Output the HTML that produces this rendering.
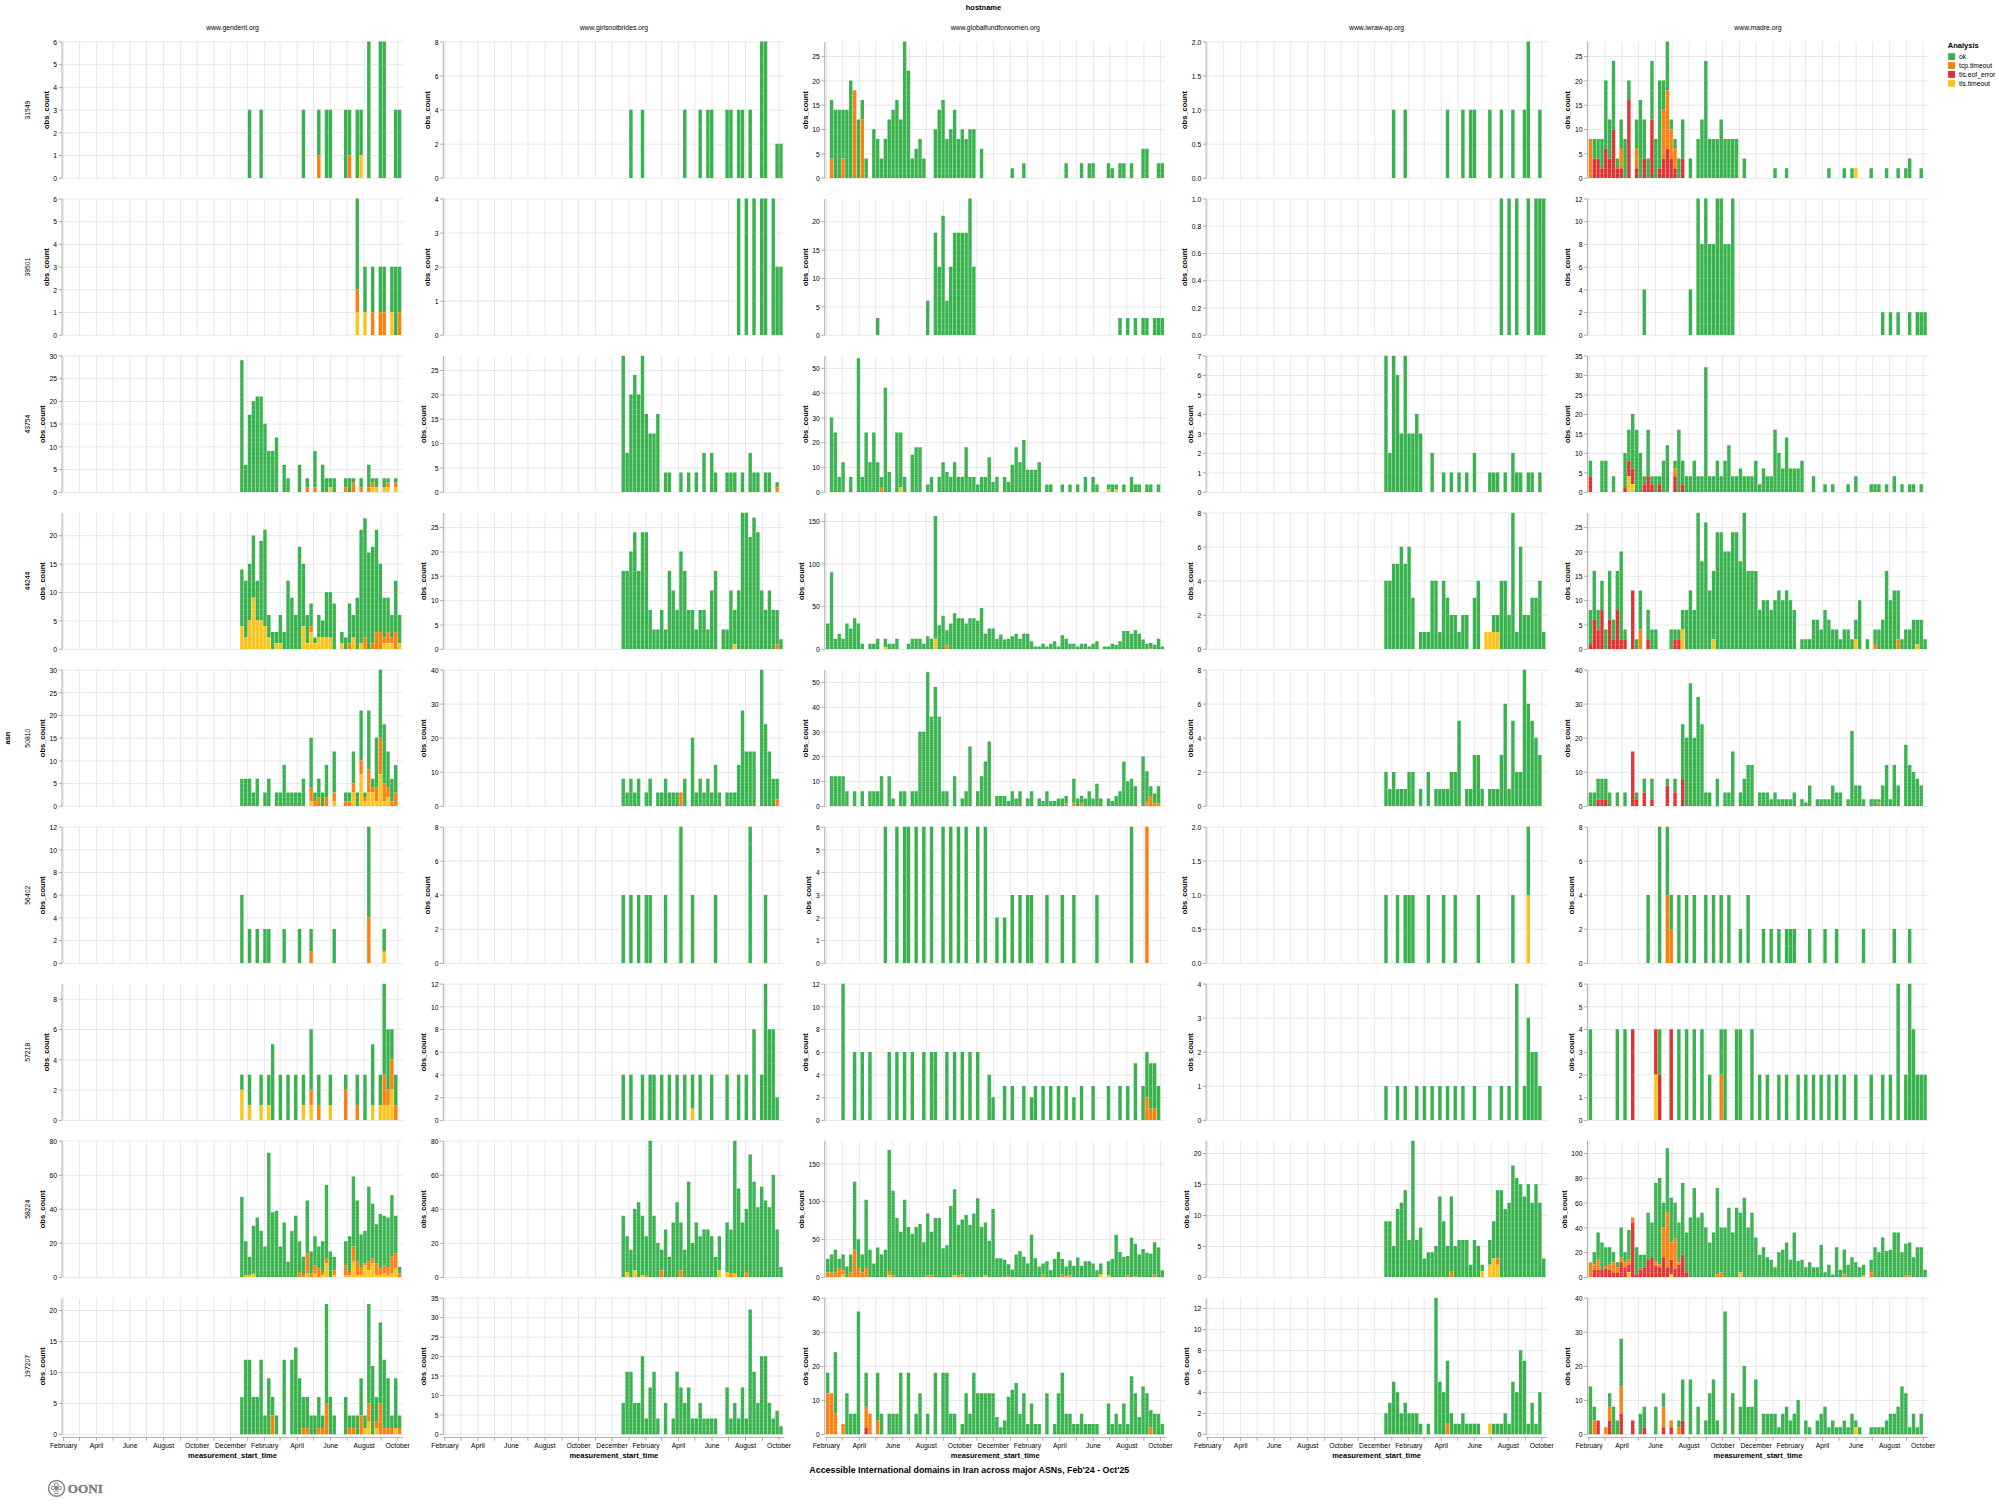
<!DOCTYPE html>
<html><head><meta charset="utf-8"><title>Accessible International domains in Iran across major ASNs</title>
<style>
html,body{margin:0;padding:0;background:#fff}
body{width:1999px;height:1506px;overflow:hidden}
svg{display:block}
text{font-family:"Liberation Sans",Arial,Helvetica,sans-serif;fill:#000}
.l{font-size:6.8px}
.t{font-size:7.5px;font-weight:bold}
.e{text-anchor:end}
.m{text-anchor:middle}
.gr{stroke:#ddd;stroke-width:.68;fill:none}
.ax{stroke:#888;stroke-width:.68;fill:none}
</style></head><body>
<svg xmlns="http://www.w3.org/2000/svg" width="1999" height="1506" viewBox="0 0 1999 1506">
<rect width="1999" height="1506" fill="#fff"/>
<text x="983.5" y="9.8" class="t m">hostname</text>
<text x="232.48" y="29.7" class="l m">www.genderit.org</text>
<text x="613.85" y="29.7" class="l m">www.girlsnotbrides.org</text>
<text x="995.22" y="29.7" class="l m">www.globalfundforwomen.org</text>
<text x="1376.59" y="29.7" class="l m">www.iwraw-ap.org</text>
<text x="1757.96" y="29.7" class="l m">www.madre.org</text>
<text transform="translate(30.3,110.08) rotate(-90)" class="l m">31549</text>
<text transform="translate(30.3,267.11) rotate(-90)" class="l m">39501</text>
<text transform="translate(30.3,424.14) rotate(-90)" class="l m">43754</text>
<text transform="translate(30.3,581.17) rotate(-90)" class="l m">44244</text>
<text transform="translate(30.3,738.2) rotate(-90)" class="l m">50810</text>
<text transform="translate(30.3,895.23) rotate(-90)" class="l m">56402</text>
<text transform="translate(30.3,1052.26) rotate(-90)" class="l m">57218</text>
<text transform="translate(30.3,1209.29) rotate(-90)" class="l m">58224</text>
<text transform="translate(30.3,1366.32) rotate(-90)" class="l m">197207</text>
<text transform="translate(10.3,738) rotate(-90)" class="t m">asn</text>
<g><path d="M63.58 41.93V178.23M79.52 41.93V178.23M96.55 41.93V178.23M113.03 41.93V178.23M130.07 41.93V178.23M146.55 41.93V178.23M163.59 41.93V178.23M180.62 41.93V178.23M197.11 41.93V178.23M214.14 41.93V178.23M230.63 41.93V178.23M247.66 41.93V178.23M264.7 41.93V178.23M280.08 41.93V178.23M297.12 41.93V178.23M313.6 41.93V178.23M330.64 41.93V178.23M347.12 41.93V178.23M364.16 41.93V178.23M381.19 41.93V178.23M397.68 41.93V178.23M61.98 178.23H402.98M61.98 155.51H402.98M61.98 132.8H402.98M61.98 110.08H402.98M61.98 87.36H402.98M61.98 64.65H402.98M61.98 41.93H402.98" class="gr"/>
<path d="M247.86 177.89h3.41V109.74h-3.41zM259.4 177.89h3.41V109.74h-3.41zM301.71 177.89h3.41V109.74h-3.41zM317.1 155.17h3.41V109.74h-3.41zM324.79 177.89h3.41V109.74h-3.41zM328.64 177.89h3.41V109.74h-3.41zM344.02 177.89h3.41V109.74h-3.41zM347.87 155.17h3.41V109.74h-3.41zM355.56 177.89h3.41V109.74h-3.41zM359.41 155.17h3.41V109.74h-3.41zM367.1 177.89h3.41V41.59h-3.41zM378.64 177.89h3.41V41.59h-3.41zM382.49 177.89h3.41V41.59h-3.41zM394.03 177.89h3.41V109.74h-3.41zM397.88 177.89h3.41V109.74h-3.41z" fill="#37b24d"/>
<path d="M317.1 177.89h3.41V155.17h-3.41zM347.87 177.89h3.41V155.17h-3.41z" fill="#ff7f0a"/>
<path d="M359.41 177.89h3.41V155.17h-3.41z" fill="#fcc419"/>
<pattern id="p00" patternUnits="userSpaceOnUse" x="0" y="177.75" width="20" height="22.72"><rect width="20" height=".28" fill="#fff" fill-opacity=".36"/></pattern>
<path d="M247.86 166.53h3.41V121.1h-3.41zM259.4 166.53h3.41V121.1h-3.41zM301.71 166.53h3.41V121.1h-3.41zM317.1 166.53h3.41V121.1h-3.41zM324.79 166.53h3.41V121.1h-3.41zM328.64 166.53h3.41V121.1h-3.41zM344.02 166.53h3.41V121.1h-3.41zM347.87 166.53h3.41V121.1h-3.41zM355.56 166.53h3.41V121.1h-3.41zM359.41 166.53h3.41V121.1h-3.41zM367.1 166.53h3.41V52.95h-3.41zM378.64 166.53h3.41V52.95h-3.41zM382.49 166.53h3.41V52.95h-3.41zM394.03 166.53h3.41V121.1h-3.41zM397.88 166.53h3.41V121.1h-3.41z" fill="url(#p00)"/>
<path d="M61.98 41.93V178.23M61.98 178.23h-3.4M61.98 155.51h-3.4M61.98 132.8h-3.4M61.98 110.08h-3.4M61.98 87.36h-3.4M61.98 64.65h-3.4M61.98 41.93h-3.4" class="ax"/>
<text x="57.08" y="180.98" class="l e">0</text>
<text x="57.08" y="158.26" class="l e">1</text>
<text x="57.08" y="135.55" class="l e">2</text>
<text x="57.08" y="112.83" class="l e">3</text>
<text x="57.08" y="90.11" class="l e">4</text>
<text x="57.08" y="67.4" class="l e">5</text>
<text x="57.08" y="44.68" class="l e">6</text>
<text transform="translate(48.68,110.08) rotate(-90)" class="t m">obs_count</text></g>
<g><path d="M444.95 41.93V178.23M460.89 41.93V178.23M477.92 41.93V178.23M494.41 41.93V178.23M511.44 41.93V178.23M527.92 41.93V178.23M544.96 41.93V178.23M561.99 41.93V178.23M578.48 41.93V178.23M595.51 41.93V178.23M612 41.93V178.23M629.03 41.93V178.23M646.07 41.93V178.23M661.45 41.93V178.23M678.49 41.93V178.23M694.97 41.93V178.23M712.01 41.93V178.23M728.49 41.93V178.23M745.53 41.93V178.23M762.56 41.93V178.23M779.05 41.93V178.23M443.35 178.23H784.35M443.35 144.16H784.35M443.35 110.08H784.35M443.35 76.01H784.35M443.35 41.93H784.35" class="gr"/>
<path d="M629.23 177.89h3.41V109.74h-3.41zM640.77 177.89h3.41V109.74h-3.41zM683.08 177.89h3.41V109.74h-3.41zM698.47 177.89h3.41V109.74h-3.41zM706.16 177.89h3.41V109.74h-3.41zM710.01 177.89h3.41V109.74h-3.41zM725.39 177.89h3.41V109.74h-3.41zM729.24 177.89h3.41V109.74h-3.41zM736.93 177.89h3.41V109.74h-3.41zM740.78 177.89h3.41V109.74h-3.41zM748.47 177.89h3.41V109.74h-3.41zM760.01 177.89h3.41V41.59h-3.41zM763.86 177.89h3.41V41.59h-3.41zM775.4 177.89h3.41V143.82h-3.41zM779.25 177.89h3.41V143.82h-3.41z" fill="#37b24d"/>
<pattern id="p01" patternUnits="userSpaceOnUse" x="0" y="177.75" width="20" height="17.04"><rect width="20" height=".28" fill="#fff" fill-opacity=".36"/></pattern>
<path d="M629.23 169.37h3.41V118.26h-3.41zM640.77 169.37h3.41V118.26h-3.41zM683.08 169.37h3.41V118.26h-3.41zM698.47 169.37h3.41V118.26h-3.41zM706.16 169.37h3.41V118.26h-3.41zM710.01 169.37h3.41V118.26h-3.41zM725.39 169.37h3.41V118.26h-3.41zM729.24 169.37h3.41V118.26h-3.41zM736.93 169.37h3.41V118.26h-3.41zM740.78 169.37h3.41V118.26h-3.41zM748.47 169.37h3.41V118.26h-3.41zM760.01 169.37h3.41V50.11h-3.41zM763.86 169.37h3.41V50.11h-3.41zM775.4 169.37h3.41V152.33h-3.41zM779.25 169.37h3.41V152.33h-3.41z" fill="url(#p01)"/>
<path d="M443.35 41.93V178.23M443.35 178.23h-3.4M443.35 144.16h-3.4M443.35 110.08h-3.4M443.35 76.01h-3.4M443.35 41.93h-3.4" class="ax"/>
<text x="438.45" y="180.98" class="l e">0</text>
<text x="438.45" y="146.91" class="l e">2</text>
<text x="438.45" y="112.83" class="l e">4</text>
<text x="438.45" y="78.76" class="l e">6</text>
<text x="438.45" y="44.68" class="l e">8</text>
<text transform="translate(430.05,110.08) rotate(-90)" class="t m">obs_count</text></g>
<g><path d="M826.32 41.93V178.23M842.26 41.93V178.23M859.29 41.93V178.23M875.78 41.93V178.23M892.81 41.93V178.23M909.29 41.93V178.23M926.33 41.93V178.23M943.36 41.93V178.23M959.85 41.93V178.23M976.88 41.93V178.23M993.37 41.93V178.23M1010.4 41.93V178.23M1027.44 41.93V178.23M1042.82 41.93V178.23M1059.86 41.93V178.23M1076.34 41.93V178.23M1093.38 41.93V178.23M1109.86 41.93V178.23M1126.9 41.93V178.23M1143.93 41.93V178.23M1160.42 41.93V178.23M824.72 178.23H1165.72M824.72 153.89H1165.72M824.72 129.55H1165.72M824.72 105.21H1165.72M824.72 80.87H1165.72M824.72 56.53H1165.72" class="gr"/>
<path d="M829.82 158.42h3.41V100h-3.41zM833.66 177.89h3.41V109.74h-3.41zM837.51 177.89h3.41V109.74h-3.41zM841.36 158.42h3.41V109.74h-3.41zM845.2 177.89h3.41V109.74h-3.41zM849.05 177.89h3.41V80.53h-3.41zM856.74 177.89h3.41V119.48h-3.41zM860.59 119.48h3.41V100h-3.41zM864.44 177.89h3.41V158.42h-3.41zM872.13 177.89h3.41V129.21h-3.41zM875.97 177.89h3.41V138.95h-3.41zM879.82 177.89h3.41V158.42h-3.41zM883.67 177.89h3.41V138.95h-3.41zM887.51 177.89h3.41V119.48h-3.41zM891.36 177.89h3.41V109.74h-3.41zM895.21 177.89h3.41V100h-3.41zM899.05 177.89h3.41V119.48h-3.41zM902.9 177.89h3.41V41.59h-3.41zM906.75 177.89h3.41V70.8h-3.41zM910.59 177.89h3.41V158.42h-3.41zM914.44 177.89h3.41V148.68h-3.41zM918.29 177.89h3.41V138.95h-3.41zM922.13 177.89h3.41V158.42h-3.41zM933.67 177.89h3.41V129.21h-3.41zM937.52 177.89h3.41V109.74h-3.41zM941.37 177.89h3.41V100h-3.41zM945.21 177.89h3.41V138.95h-3.41zM949.06 177.89h3.41V129.21h-3.41zM952.9 177.89h3.41V109.74h-3.41zM956.75 177.89h3.41V138.95h-3.41zM960.6 177.89h3.41V129.21h-3.41zM964.44 177.89h3.41V138.95h-3.41zM968.29 177.89h3.41V129.21h-3.41zM972.14 177.89h3.41V129.21h-3.41zM979.83 177.89h3.41V148.68h-3.41zM1010.6 177.89h3.41V168.15h-3.41zM1022.14 177.89h3.41V163.29h-3.41zM1064.45 177.89h3.41V163.29h-3.41zM1079.84 177.89h3.41V163.29h-3.41zM1087.53 177.89h3.41V163.29h-3.41zM1091.38 177.89h3.41V163.29h-3.41zM1106.76 177.89h3.41V163.29h-3.41zM1110.61 177.89h3.41V168.15h-3.41zM1118.3 177.89h3.41V163.29h-3.41zM1122.15 177.89h3.41V163.29h-3.41zM1129.84 177.89h3.41V163.29h-3.41zM1141.38 177.89h3.41V148.68h-3.41zM1145.23 177.89h3.41V148.68h-3.41zM1156.77 177.89h3.41V163.29h-3.41zM1160.62 177.89h3.41V163.29h-3.41z" fill="#37b24d"/>
<path d="M829.82 177.89h3.41V158.42h-3.41zM841.36 177.89h3.41V158.42h-3.41zM852.9 177.89h3.41V90.27h-3.41zM860.59 177.89h3.41V119.48h-3.41z" fill="#ff7f0a"/>
<pattern id="p02" patternUnits="userSpaceOnUse" x="0" y="177.75" width="20" height="4.87"><rect width="20" height=".28" fill="#fff" fill-opacity=".36"/></pattern>
<path d="M829.82 175.46h3.41V102.44h-3.41zM833.66 175.46h3.41V112.17h-3.41zM837.51 175.46h3.41V112.17h-3.41zM841.36 175.46h3.41V112.17h-3.41zM845.2 175.46h3.41V112.17h-3.41zM849.05 175.46h3.41V82.97h-3.41zM852.9 175.46h3.41V92.7h-3.41zM856.74 175.46h3.41V121.91h-3.41zM860.59 175.46h3.41V102.44h-3.41zM864.44 175.46h3.41V160.85h-3.41zM872.13 175.46h3.41V131.65h-3.41zM875.97 175.46h3.41V141.38h-3.41zM879.82 175.46h3.41V160.85h-3.41zM883.67 175.46h3.41V141.38h-3.41zM887.51 175.46h3.41V121.91h-3.41zM891.36 175.46h3.41V112.17h-3.41zM895.21 175.46h3.41V102.44h-3.41zM899.05 175.46h3.41V121.91h-3.41zM902.9 175.46h3.41V44.02h-3.41zM906.75 175.46h3.41V73.23h-3.41zM910.59 175.46h3.41V160.85h-3.41zM914.44 175.46h3.41V151.12h-3.41zM918.29 175.46h3.41V141.38h-3.41zM922.13 175.46h3.41V160.85h-3.41zM933.67 175.46h3.41V131.65h-3.41zM937.52 175.46h3.41V112.17h-3.41zM941.37 175.46h3.41V102.44h-3.41zM945.21 175.46h3.41V141.38h-3.41zM949.06 175.46h3.41V131.65h-3.41zM952.9 175.46h3.41V112.17h-3.41zM956.75 175.46h3.41V141.38h-3.41zM960.6 175.46h3.41V131.65h-3.41zM964.44 175.46h3.41V141.38h-3.41zM968.29 175.46h3.41V131.65h-3.41zM972.14 175.46h3.41V131.65h-3.41zM979.83 175.46h3.41V151.12h-3.41zM1010.6 175.46h3.41V170.59h-3.41zM1022.14 175.46h3.41V165.72h-3.41zM1064.45 175.46h3.41V165.72h-3.41zM1079.84 175.46h3.41V165.72h-3.41zM1087.53 175.46h3.41V165.72h-3.41zM1091.38 175.46h3.41V165.72h-3.41zM1106.76 175.46h3.41V165.72h-3.41zM1110.61 175.46h3.41V170.59h-3.41zM1118.3 175.46h3.41V165.72h-3.41zM1122.15 175.46h3.41V165.72h-3.41zM1129.84 175.46h3.41V165.72h-3.41zM1141.38 175.46h3.41V151.12h-3.41zM1145.23 175.46h3.41V151.12h-3.41zM1156.77 175.46h3.41V165.72h-3.41zM1160.62 175.46h3.41V165.72h-3.41z" fill="url(#p02)"/>
<path d="M824.72 41.93V178.23M824.72 178.23h-3.4M824.72 153.89h-3.4M824.72 129.55h-3.4M824.72 105.21h-3.4M824.72 80.87h-3.4M824.72 56.53h-3.4" class="ax"/>
<text x="819.82" y="180.98" class="l e">0</text>
<text x="819.82" y="156.64" class="l e">5</text>
<text x="819.82" y="132.3" class="l e">10</text>
<text x="819.82" y="107.96" class="l e">15</text>
<text x="819.82" y="83.62" class="l e">20</text>
<text x="819.82" y="59.28" class="l e">25</text>
<text transform="translate(807.64,110.08) rotate(-90)" class="t m">obs_count</text></g>
<g><path d="M1207.69 41.93V178.23M1223.63 41.93V178.23M1240.66 41.93V178.23M1257.14 41.93V178.23M1274.18 41.93V178.23M1290.66 41.93V178.23M1307.7 41.93V178.23M1324.73 41.93V178.23M1341.22 41.93V178.23M1358.25 41.93V178.23M1374.74 41.93V178.23M1391.77 41.93V178.23M1408.81 41.93V178.23M1424.19 41.93V178.23M1441.23 41.93V178.23M1457.71 41.93V178.23M1474.75 41.93V178.23M1491.23 41.93V178.23M1508.27 41.93V178.23M1525.3 41.93V178.23M1541.79 41.93V178.23M1206.09 178.23H1547.09M1206.09 144.16H1547.09M1206.09 110.08H1547.09M1206.09 76.01H1547.09M1206.09 41.93H1547.09" class="gr"/>
<path d="M1391.97 177.89h3.41V109.74h-3.41zM1403.51 177.89h3.41V109.74h-3.41zM1445.82 177.89h3.41V109.74h-3.41zM1461.21 177.89h3.41V109.74h-3.41zM1468.9 177.89h3.41V109.74h-3.41zM1472.75 177.89h3.41V109.74h-3.41zM1488.13 177.89h3.41V109.74h-3.41zM1499.67 177.89h3.41V109.74h-3.41zM1511.21 177.89h3.41V109.74h-3.41zM1522.75 177.89h3.41V109.74h-3.41zM1526.6 177.89h3.41V41.59h-3.41zM1538.14 177.89h3.41V109.74h-3.41z" fill="#37b24d"/>
<path d="M1206.09 41.93V178.23M1206.09 178.23h-3.4M1206.09 144.16h-3.4M1206.09 110.08h-3.4M1206.09 76.01h-3.4M1206.09 41.93h-3.4" class="ax"/>
<text x="1201.19" y="180.98" class="l e">0.0</text>
<text x="1201.19" y="146.91" class="l e">0.5</text>
<text x="1201.19" y="112.83" class="l e">1.0</text>
<text x="1201.19" y="78.76" class="l e">1.5</text>
<text x="1201.19" y="44.68" class="l e">2.0</text>
<text transform="translate(1187.12,110.08) rotate(-90)" class="t m">obs_count</text></g>
<g><path d="M1589.06 41.93V178.23M1605 41.93V178.23M1622.03 41.93V178.23M1638.51 41.93V178.23M1655.55 41.93V178.23M1672.03 41.93V178.23M1689.07 41.93V178.23M1706.1 41.93V178.23M1722.59 41.93V178.23M1739.62 41.93V178.23M1756.11 41.93V178.23M1773.14 41.93V178.23M1790.18 41.93V178.23M1805.56 41.93V178.23M1822.6 41.93V178.23M1839.08 41.93V178.23M1856.12 41.93V178.23M1872.6 41.93V178.23M1889.64 41.93V178.23M1906.67 41.93V178.23M1923.16 41.93V178.23M1587.46 178.23H1928.46M1587.46 153.89H1928.46M1587.46 129.55H1928.46M1587.46 105.21H1928.46M1587.46 80.87H1928.46M1587.46 56.53H1928.46" class="gr"/>
<path d="M1592.56 158.42h3.41V138.95h-3.41zM1596.4 158.42h3.41V138.95h-3.41zM1600.25 168.15h3.41V138.95h-3.41zM1604.1 148.68h3.41V80.53h-3.41zM1607.94 158.42h3.41V119.48h-3.41zM1611.79 129.21h3.41V61.06h-3.41zM1615.64 168.15h3.41V158.42h-3.41zM1619.48 148.68h3.41V119.48h-3.41zM1623.33 177.89h3.41V138.95h-3.41zM1627.17 100h3.41V80.53h-3.41zM1634.87 148.68h3.41V119.48h-3.41zM1638.71 177.89h3.41V100h-3.41zM1642.56 158.42h3.41V119.48h-3.41zM1646.41 177.89h3.41V158.42h-3.41zM1650.25 119.48h3.41V61.06h-3.41zM1654.1 177.89h3.41V138.95h-3.41zM1657.95 168.15h3.41V80.53h-3.41zM1661.79 109.74h3.41V80.53h-3.41zM1665.64 90.27h3.41V41.59h-3.41zM1669.49 129.21h3.41V119.48h-3.41zM1673.33 148.68h3.41V138.95h-3.41zM1677.18 177.89h3.41V158.42h-3.41zM1681.03 158.42h3.41V119.48h-3.41zM1688.72 177.89h3.41V158.42h-3.41zM1696.41 177.89h3.41V138.95h-3.41zM1700.26 177.89h3.41V119.48h-3.41zM1704.11 177.89h3.41V61.06h-3.41zM1707.95 177.89h3.41V138.95h-3.41zM1711.8 177.89h3.41V138.95h-3.41zM1715.64 177.89h3.41V138.95h-3.41zM1719.49 177.89h3.41V119.48h-3.41zM1723.34 177.89h3.41V138.95h-3.41zM1727.18 177.89h3.41V138.95h-3.41zM1731.03 177.89h3.41V138.95h-3.41zM1734.88 177.89h3.41V138.95h-3.41zM1742.57 177.89h3.41V158.42h-3.41zM1773.34 177.89h3.41V168.15h-3.41zM1784.88 177.89h3.41V168.15h-3.41zM1827.19 177.89h3.41V168.15h-3.41zM1842.58 177.89h3.41V168.15h-3.41zM1850.27 177.89h3.41V168.15h-3.41zM1869.5 177.89h3.41V168.15h-3.41zM1884.89 177.89h3.41V168.15h-3.41zM1896.43 177.89h3.41V168.15h-3.41zM1904.12 177.89h3.41V168.15h-3.41zM1907.97 177.89h3.41V158.42h-3.41zM1919.51 177.89h3.41V168.15h-3.41z" fill="#37b24d"/>
<path d="M1588.71 177.89h3.41V138.95h-3.41zM1619.48 168.15h3.41V148.68h-3.41zM1634.87 168.15h3.41V148.68h-3.41zM1661.79 158.42h3.41V109.74h-3.41zM1665.64 148.68h3.41V90.27h-3.41zM1669.49 158.42h3.41V129.21h-3.41zM1673.33 168.15h3.41V148.68h-3.41z" fill="#ff7f0a"/>
<path d="M1592.56 177.89h3.41V158.42h-3.41zM1596.4 177.89h3.41V158.42h-3.41zM1600.25 177.89h3.41V168.15h-3.41zM1604.1 177.89h3.41V148.68h-3.41zM1607.94 177.89h3.41V158.42h-3.41zM1611.79 177.89h3.41V129.21h-3.41zM1615.64 177.89h3.41V168.15h-3.41zM1619.48 177.89h3.41V168.15h-3.41zM1627.17 177.89h3.41V100h-3.41zM1634.87 177.89h3.41V168.15h-3.41zM1642.56 177.89h3.41V158.42h-3.41zM1650.25 177.89h3.41V119.48h-3.41zM1657.95 177.89h3.41V168.15h-3.41zM1661.79 177.89h3.41V158.42h-3.41zM1665.64 177.89h3.41V148.68h-3.41zM1669.49 177.89h3.41V158.42h-3.41zM1673.33 177.89h3.41V168.15h-3.41zM1681.03 177.89h3.41V158.42h-3.41z" fill="#e03131"/>
<path d="M1854.12 177.89h3.41V168.15h-3.41z" fill="#fcc419"/>
<pattern id="p04" patternUnits="userSpaceOnUse" x="0" y="177.75" width="20" height="4.87"><rect width="20" height=".28" fill="#fff" fill-opacity=".36"/></pattern>
<path d="M1588.71 175.46h3.41V141.38h-3.41zM1592.56 175.46h3.41V141.38h-3.41zM1596.4 175.46h3.41V141.38h-3.41zM1600.25 175.46h3.41V141.38h-3.41zM1604.1 175.46h3.41V82.97h-3.41zM1607.94 175.46h3.41V121.91h-3.41zM1611.79 175.46h3.41V63.5h-3.41zM1615.64 175.46h3.41V160.85h-3.41zM1619.48 175.46h3.41V121.91h-3.41zM1623.33 175.46h3.41V141.38h-3.41zM1627.17 175.46h3.41V82.97h-3.41zM1634.87 175.46h3.41V121.91h-3.41zM1638.71 175.46h3.41V102.44h-3.41zM1642.56 175.46h3.41V121.91h-3.41zM1646.41 175.46h3.41V160.85h-3.41zM1650.25 175.46h3.41V63.5h-3.41zM1654.1 175.46h3.41V141.38h-3.41zM1657.95 175.46h3.41V82.97h-3.41zM1661.79 175.46h3.41V82.97h-3.41zM1665.64 175.46h3.41V44.02h-3.41zM1669.49 175.46h3.41V121.91h-3.41zM1673.33 175.46h3.41V141.38h-3.41zM1677.18 175.46h3.41V160.85h-3.41zM1681.03 175.46h3.41V121.91h-3.41zM1688.72 175.46h3.41V160.85h-3.41zM1696.41 175.46h3.41V141.38h-3.41zM1700.26 175.46h3.41V121.91h-3.41zM1704.11 175.46h3.41V63.5h-3.41zM1707.95 175.46h3.41V141.38h-3.41zM1711.8 175.46h3.41V141.38h-3.41zM1715.64 175.46h3.41V141.38h-3.41zM1719.49 175.46h3.41V121.91h-3.41zM1723.34 175.46h3.41V141.38h-3.41zM1727.18 175.46h3.41V141.38h-3.41zM1731.03 175.46h3.41V141.38h-3.41zM1734.88 175.46h3.41V141.38h-3.41zM1742.57 175.46h3.41V160.85h-3.41zM1773.34 175.46h3.41V170.59h-3.41zM1784.88 175.46h3.41V170.59h-3.41zM1827.19 175.46h3.41V170.59h-3.41zM1842.58 175.46h3.41V170.59h-3.41zM1850.27 175.46h3.41V170.59h-3.41zM1854.12 175.46h3.41V170.59h-3.41zM1869.5 175.46h3.41V170.59h-3.41zM1884.89 175.46h3.41V170.59h-3.41zM1896.43 175.46h3.41V170.59h-3.41zM1904.12 175.46h3.41V170.59h-3.41zM1907.97 175.46h3.41V160.85h-3.41zM1919.51 175.46h3.41V170.59h-3.41z" fill="url(#p04)"/>
<path d="M1587.46 41.93V178.23M1587.46 178.23h-3.4M1587.46 153.89h-3.4M1587.46 129.55h-3.4M1587.46 105.21h-3.4M1587.46 80.87h-3.4M1587.46 56.53h-3.4" class="ax"/>
<text x="1582.56" y="180.98" class="l e">0</text>
<text x="1582.56" y="156.64" class="l e">5</text>
<text x="1582.56" y="132.3" class="l e">10</text>
<text x="1582.56" y="107.96" class="l e">15</text>
<text x="1582.56" y="83.62" class="l e">20</text>
<text x="1582.56" y="59.28" class="l e">25</text>
<text transform="translate(1570.38,110.08) rotate(-90)" class="t m">obs_count</text></g>
<g><path d="M63.58 198.96V335.26M79.52 198.96V335.26M96.55 198.96V335.26M113.03 198.96V335.26M130.07 198.96V335.26M146.55 198.96V335.26M163.59 198.96V335.26M180.62 198.96V335.26M197.11 198.96V335.26M214.14 198.96V335.26M230.63 198.96V335.26M247.66 198.96V335.26M264.7 198.96V335.26M280.08 198.96V335.26M297.12 198.96V335.26M313.6 198.96V335.26M330.64 198.96V335.26M347.12 198.96V335.26M364.16 198.96V335.26M381.19 198.96V335.26M397.68 198.96V335.26M61.98 335.26H402.98M61.98 312.54H402.98M61.98 289.83H402.98M61.98 267.11H402.98M61.98 244.39H402.98M61.98 221.68H402.98M61.98 198.96H402.98" class="gr"/>
<path d="M355.56 289.49h3.41V198.62h-3.41zM363.26 312.2h3.41V266.77h-3.41zM370.95 312.2h3.41V266.77h-3.41zM378.64 312.2h3.41V266.77h-3.41zM382.49 312.2h3.41V266.77h-3.41zM390.18 312.2h3.41V266.77h-3.41zM394.03 334.92h3.41V266.77h-3.41zM397.88 312.2h3.41V266.77h-3.41z" fill="#37b24d"/>
<path d="M355.56 312.2h3.41V289.49h-3.41zM370.95 334.92h3.41V312.2h-3.41zM378.64 334.92h3.41V312.2h-3.41zM382.49 334.92h3.41V312.2h-3.41zM397.88 334.92h3.41V312.2h-3.41z" fill="#ff7f0a"/>
<path d="M355.56 334.92h3.41V312.2h-3.41zM363.26 334.92h3.41V312.2h-3.41zM390.18 334.92h3.41V312.2h-3.41z" fill="#fcc419"/>
<pattern id="p10" patternUnits="userSpaceOnUse" x="0" y="334.78" width="20" height="22.72"><rect width="20" height=".28" fill="#fff" fill-opacity=".36"/></pattern>
<path d="M355.56 323.56h3.41V209.98h-3.41zM363.26 323.56h3.41V278.13h-3.41zM370.95 323.56h3.41V278.13h-3.41zM378.64 323.56h3.41V278.13h-3.41zM382.49 323.56h3.41V278.13h-3.41zM390.18 323.56h3.41V278.13h-3.41zM394.03 323.56h3.41V278.13h-3.41zM397.88 323.56h3.41V278.13h-3.41z" fill="url(#p10)"/>
<path d="M61.98 198.96V335.26M61.98 335.26h-3.4M61.98 312.54h-3.4M61.98 289.83h-3.4M61.98 267.11h-3.4M61.98 244.39h-3.4M61.98 221.68h-3.4M61.98 198.96h-3.4" class="ax"/>
<text x="57.08" y="338.01" class="l e">0</text>
<text x="57.08" y="315.29" class="l e">1</text>
<text x="57.08" y="292.58" class="l e">2</text>
<text x="57.08" y="269.86" class="l e">3</text>
<text x="57.08" y="247.14" class="l e">4</text>
<text x="57.08" y="224.43" class="l e">5</text>
<text x="57.08" y="201.71" class="l e">6</text>
<text transform="translate(48.68,267.11) rotate(-90)" class="t m">obs_count</text></g>
<g><path d="M444.95 198.96V335.26M460.89 198.96V335.26M477.92 198.96V335.26M494.41 198.96V335.26M511.44 198.96V335.26M527.92 198.96V335.26M544.96 198.96V335.26M561.99 198.96V335.26M578.48 198.96V335.26M595.51 198.96V335.26M612 198.96V335.26M629.03 198.96V335.26M646.07 198.96V335.26M661.45 198.96V335.26M678.49 198.96V335.26M694.97 198.96V335.26M712.01 198.96V335.26M728.49 198.96V335.26M745.53 198.96V335.26M762.56 198.96V335.26M779.05 198.96V335.26M443.35 335.26H784.35M443.35 301.19H784.35M443.35 267.11H784.35M443.35 233.03H784.35M443.35 198.96H784.35" class="gr"/>
<path d="M736.93 334.92h3.41V198.62h-3.41zM744.63 334.92h3.41V198.62h-3.41zM752.32 334.92h3.41V198.62h-3.41zM760.01 334.92h3.41V198.62h-3.41zM763.86 334.92h3.41V198.62h-3.41zM771.55 334.92h3.41V198.62h-3.41zM775.4 334.92h3.41V266.77h-3.41zM779.25 334.92h3.41V266.77h-3.41z" fill="#37b24d"/>
<pattern id="p11" patternUnits="userSpaceOnUse" x="0" y="334.78" width="20" height="34.08"><rect width="20" height=".28" fill="#fff" fill-opacity=".36"/></pattern>
<path d="M736.93 317.88h3.41V215.66h-3.41zM744.63 317.88h3.41V215.66h-3.41zM752.32 317.88h3.41V215.66h-3.41zM760.01 317.88h3.41V215.66h-3.41zM763.86 317.88h3.41V215.66h-3.41zM771.55 317.88h3.41V215.66h-3.41zM775.4 317.88h3.41V283.81h-3.41zM779.25 317.88h3.41V283.81h-3.41z" fill="url(#p11)"/>
<path d="M443.35 198.96V335.26M443.35 335.26h-3.4M443.35 301.19h-3.4M443.35 267.11h-3.4M443.35 233.03h-3.4M443.35 198.96h-3.4" class="ax"/>
<text x="438.45" y="338.01" class="l e">0</text>
<text x="438.45" y="303.94" class="l e">1</text>
<text x="438.45" y="269.86" class="l e">2</text>
<text x="438.45" y="235.78" class="l e">3</text>
<text x="438.45" y="201.71" class="l e">4</text>
<text transform="translate(430.05,267.11) rotate(-90)" class="t m">obs_count</text></g>
<g><path d="M826.32 198.96V335.26M842.26 198.96V335.26M859.29 198.96V335.26M875.78 198.96V335.26M892.81 198.96V335.26M909.29 198.96V335.26M926.33 198.96V335.26M943.36 198.96V335.26M959.85 198.96V335.26M976.88 198.96V335.26M993.37 198.96V335.26M1010.4 198.96V335.26M1027.44 198.96V335.26M1042.82 198.96V335.26M1059.86 198.96V335.26M1076.34 198.96V335.26M1093.38 198.96V335.26M1109.86 198.96V335.26M1126.9 198.96V335.26M1143.93 198.96V335.26M1160.42 198.96V335.26M824.72 335.26H1165.72M824.72 306.86H1165.72M824.72 278.47H1165.72M824.72 250.07H1165.72M824.72 221.68H1165.72" class="gr"/>
<path d="M875.97 334.92h3.41V317.88h-3.41zM925.98 334.92h3.41V300.85h-3.41zM933.67 334.92h3.41V232.69h-3.41zM937.52 334.92h3.41V266.77h-3.41zM941.37 334.92h3.41V215.66h-3.41zM945.21 334.92h3.41V300.85h-3.41zM949.06 334.92h3.41V266.77h-3.41zM952.9 334.92h3.41V232.69h-3.41zM956.75 334.92h3.41V232.69h-3.41zM960.6 334.92h3.41V232.69h-3.41zM964.44 334.92h3.41V232.69h-3.41zM968.29 334.92h3.41V198.62h-3.41zM972.14 334.92h3.41V266.77h-3.41zM1118.3 334.92h3.41V317.88h-3.41zM1126 334.92h3.41V317.88h-3.41zM1133.69 334.92h3.41V317.88h-3.41zM1141.38 334.92h3.41V317.88h-3.41zM1145.23 334.92h3.41V317.88h-3.41zM1152.92 334.92h3.41V317.88h-3.41zM1156.77 334.92h3.41V317.88h-3.41zM1160.62 334.92h3.41V317.88h-3.41z" fill="#37b24d"/>
<pattern id="p12" patternUnits="userSpaceOnUse" x="0" y="334.78" width="20" height="5.68"><rect width="20" height=".28" fill="#fff" fill-opacity=".36"/></pattern>
<path d="M875.97 332.08h3.41V320.72h-3.41zM925.98 332.08h3.41V303.68h-3.41zM933.67 332.08h3.41V235.53h-3.41zM937.52 332.08h3.41V269.61h-3.41zM941.37 332.08h3.41V218.5h-3.41zM945.21 332.08h3.41V303.68h-3.41zM949.06 332.08h3.41V269.61h-3.41zM952.9 332.08h3.41V235.53h-3.41zM956.75 332.08h3.41V235.53h-3.41zM960.6 332.08h3.41V235.53h-3.41zM964.44 332.08h3.41V235.53h-3.41zM968.29 332.08h3.41V201.46h-3.41zM972.14 332.08h3.41V269.61h-3.41zM1118.3 332.08h3.41V320.72h-3.41zM1126 332.08h3.41V320.72h-3.41zM1133.69 332.08h3.41V320.72h-3.41zM1141.38 332.08h3.41V320.72h-3.41zM1145.23 332.08h3.41V320.72h-3.41zM1152.92 332.08h3.41V320.72h-3.41zM1156.77 332.08h3.41V320.72h-3.41zM1160.62 332.08h3.41V320.72h-3.41z" fill="url(#p12)"/>
<path d="M824.72 198.96V335.26M824.72 335.26h-3.4M824.72 306.86h-3.4M824.72 278.47h-3.4M824.72 250.07h-3.4M824.72 221.68h-3.4" class="ax"/>
<text x="819.82" y="338.01" class="l e">0</text>
<text x="819.82" y="309.61" class="l e">5</text>
<text x="819.82" y="281.22" class="l e">10</text>
<text x="819.82" y="252.82" class="l e">15</text>
<text x="819.82" y="224.43" class="l e">20</text>
<text transform="translate(807.64,267.11) rotate(-90)" class="t m">obs_count</text></g>
<g><path d="M1207.69 198.96V335.26M1223.63 198.96V335.26M1240.66 198.96V335.26M1257.14 198.96V335.26M1274.18 198.96V335.26M1290.66 198.96V335.26M1307.7 198.96V335.26M1324.73 198.96V335.26M1341.22 198.96V335.26M1358.25 198.96V335.26M1374.74 198.96V335.26M1391.77 198.96V335.26M1408.81 198.96V335.26M1424.19 198.96V335.26M1441.23 198.96V335.26M1457.71 198.96V335.26M1474.75 198.96V335.26M1491.23 198.96V335.26M1508.27 198.96V335.26M1525.3 198.96V335.26M1541.79 198.96V335.26M1206.09 335.26H1547.09M1206.09 308H1547.09M1206.09 280.74H1547.09M1206.09 253.48H1547.09M1206.09 226.22H1547.09M1206.09 198.96H1547.09" class="gr"/>
<path d="M1499.67 334.92h3.41V198.62h-3.41zM1507.37 334.92h3.41V198.62h-3.41zM1515.06 334.92h3.41V198.62h-3.41zM1526.6 334.92h3.41V198.62h-3.41zM1534.29 334.92h3.41V198.62h-3.41zM1538.14 334.92h3.41V198.62h-3.41zM1541.99 334.92h3.41V198.62h-3.41z" fill="#37b24d"/>
<path d="M1206.09 198.96V335.26M1206.09 335.26h-3.4M1206.09 308h-3.4M1206.09 280.74h-3.4M1206.09 253.48h-3.4M1206.09 226.22h-3.4M1206.09 198.96h-3.4" class="ax"/>
<text x="1201.19" y="338.01" class="l e">0.0</text>
<text x="1201.19" y="310.75" class="l e">0.2</text>
<text x="1201.19" y="283.49" class="l e">0.4</text>
<text x="1201.19" y="256.23" class="l e">0.6</text>
<text x="1201.19" y="228.97" class="l e">0.8</text>
<text x="1201.19" y="201.71" class="l e">1.0</text>
<text transform="translate(1187.12,267.11) rotate(-90)" class="t m">obs_count</text></g>
<g><path d="M1589.06 198.96V335.26M1605 198.96V335.26M1622.03 198.96V335.26M1638.51 198.96V335.26M1655.55 198.96V335.26M1672.03 198.96V335.26M1689.07 198.96V335.26M1706.1 198.96V335.26M1722.59 198.96V335.26M1739.62 198.96V335.26M1756.11 198.96V335.26M1773.14 198.96V335.26M1790.18 198.96V335.26M1805.56 198.96V335.26M1822.6 198.96V335.26M1839.08 198.96V335.26M1856.12 198.96V335.26M1872.6 198.96V335.26M1889.64 198.96V335.26M1906.67 198.96V335.26M1923.16 198.96V335.26M1587.46 335.26H1928.46M1587.46 312.54H1928.46M1587.46 289.83H1928.46M1587.46 267.11H1928.46M1587.46 244.39H1928.46M1587.46 221.68H1928.46M1587.46 198.96H1928.46" class="gr"/>
<path d="M1642.56 334.92h3.41V289.49h-3.41zM1688.72 334.92h3.41V289.49h-3.41zM1696.41 334.92h3.41V198.62h-3.41zM1700.26 334.92h3.41V244.05h-3.41zM1704.11 334.92h3.41V198.62h-3.41zM1707.95 334.92h3.41V244.05h-3.41zM1711.8 334.92h3.41V244.05h-3.41zM1715.64 334.92h3.41V198.62h-3.41zM1719.49 334.92h3.41V198.62h-3.41zM1723.34 334.92h3.41V244.05h-3.41zM1727.18 334.92h3.41V244.05h-3.41zM1731.03 334.92h3.41V198.62h-3.41zM1881.04 334.92h3.41V312.2h-3.41zM1888.74 334.92h3.41V312.2h-3.41zM1896.43 334.92h3.41V312.2h-3.41zM1907.97 334.92h3.41V312.2h-3.41zM1915.66 334.92h3.41V312.2h-3.41zM1919.51 334.92h3.41V312.2h-3.41zM1923.36 334.92h3.41V312.2h-3.41z" fill="#37b24d"/>
<pattern id="p14" patternUnits="userSpaceOnUse" x="0" y="334.78" width="20" height="11.36"><rect width="20" height=".28" fill="#fff" fill-opacity=".36"/></pattern>
<path d="M1642.56 329.24h3.41V295.17h-3.41zM1688.72 329.24h3.41V295.17h-3.41zM1696.41 329.24h3.41V204.3h-3.41zM1700.26 329.24h3.41V249.73h-3.41zM1704.11 329.24h3.41V204.3h-3.41zM1707.95 329.24h3.41V249.73h-3.41zM1711.8 329.24h3.41V249.73h-3.41zM1715.64 329.24h3.41V204.3h-3.41zM1719.49 329.24h3.41V204.3h-3.41zM1723.34 329.24h3.41V249.73h-3.41zM1727.18 329.24h3.41V249.73h-3.41zM1731.03 329.24h3.41V204.3h-3.41zM1881.04 329.24h3.41V317.88h-3.41zM1888.74 329.24h3.41V317.88h-3.41zM1896.43 329.24h3.41V317.88h-3.41zM1907.97 329.24h3.41V317.88h-3.41zM1915.66 329.24h3.41V317.88h-3.41zM1919.51 329.24h3.41V317.88h-3.41zM1923.36 329.24h3.41V317.88h-3.41z" fill="url(#p14)"/>
<path d="M1587.46 198.96V335.26M1587.46 335.26h-3.4M1587.46 312.54h-3.4M1587.46 289.83h-3.4M1587.46 267.11h-3.4M1587.46 244.39h-3.4M1587.46 221.68h-3.4M1587.46 198.96h-3.4" class="ax"/>
<text x="1582.56" y="338.01" class="l e">0</text>
<text x="1582.56" y="315.29" class="l e">2</text>
<text x="1582.56" y="292.58" class="l e">4</text>
<text x="1582.56" y="269.86" class="l e">6</text>
<text x="1582.56" y="247.14" class="l e">8</text>
<text x="1582.56" y="224.43" class="l e">10</text>
<text x="1582.56" y="201.71" class="l e">12</text>
<text transform="translate(1570.38,267.11) rotate(-90)" class="t m">obs_count</text></g>
<g><path d="M63.58 355.99V492.29M79.52 355.99V492.29M96.55 355.99V492.29M113.03 355.99V492.29M130.07 355.99V492.29M146.55 355.99V492.29M163.59 355.99V492.29M180.62 355.99V492.29M197.11 355.99V492.29M214.14 355.99V492.29M230.63 355.99V492.29M247.66 355.99V492.29M264.7 355.99V492.29M280.08 355.99V492.29M297.12 355.99V492.29M313.6 355.99V492.29M330.64 355.99V492.29M347.12 355.99V492.29M364.16 355.99V492.29M381.19 355.99V492.29M397.68 355.99V492.29M61.98 492.29H402.98M61.98 469.57H402.98M61.98 446.86H402.98M61.98 424.14H402.98M61.98 401.42H402.98M61.98 378.71H402.98M61.98 355.99H402.98" class="gr"/>
<path d="M240.17 491.95h3.41V360.19h-3.41zM244.02 491.95h3.41V464.69h-3.41zM247.86 491.95h3.41V414.71h-3.41zM251.71 491.95h3.41V401.08h-3.41zM255.55 491.95h3.41V396.54h-3.41zM259.4 491.95h3.41V396.54h-3.41zM263.25 491.95h3.41V423.8h-3.41zM267.09 491.95h3.41V451.06h-3.41zM270.94 491.95h3.41V451.06h-3.41zM274.79 491.95h3.41V437.43h-3.41zM282.48 491.95h3.41V464.69h-3.41zM286.33 491.95h3.41V478.32h-3.41zM297.87 491.95h3.41V464.69h-3.41zM305.56 487.41h3.41V478.32h-3.41zM313.25 487.41h3.41V451.06h-3.41zM320.95 491.95h3.41V464.69h-3.41zM324.79 491.95h3.41V478.32h-3.41zM328.64 487.41h3.41V478.32h-3.41zM332.49 491.95h3.41V478.32h-3.41zM344.02 487.41h3.41V478.32h-3.41zM347.87 491.95h3.41V478.32h-3.41zM351.72 482.86h3.41V478.32h-3.41zM359.41 487.41h3.41V478.32h-3.41zM367.1 487.41h3.41V464.69h-3.41zM370.95 482.86h3.41V478.32h-3.41zM374.8 487.41h3.41V478.32h-3.41zM382.49 487.41h3.41V478.32h-3.41zM386.34 482.86h3.41V478.32h-3.41zM394.03 482.86h3.41V478.32h-3.41z" fill="#37b24d"/>
<path d="M305.56 491.95h3.41V487.41h-3.41zM313.25 491.95h3.41V487.41h-3.41zM344.02 491.95h3.41V487.41h-3.41zM351.72 491.95h3.41V482.86h-3.41zM359.41 491.95h3.41V487.41h-3.41zM367.1 491.95h3.41V487.41h-3.41zM370.95 487.41h3.41V482.86h-3.41zM386.34 487.41h3.41V482.86h-3.41zM394.03 487.41h3.41V482.86h-3.41z" fill="#ff7f0a"/>
<path d="M328.64 491.95h3.41V487.41h-3.41zM370.95 491.95h3.41V487.41h-3.41zM374.8 491.95h3.41V487.41h-3.41zM382.49 491.95h3.41V487.41h-3.41zM386.34 491.95h3.41V487.41h-3.41zM394.03 491.95h3.41V487.41h-3.41z" fill="#fcc419"/>
<pattern id="p20" patternUnits="userSpaceOnUse" x="0" y="491.81" width="20" height="4.54"><rect width="20" height=".28" fill="#fff" fill-opacity=".36"/></pattern>
<path d="M240.17 489.68h3.41V362.46h-3.41zM244.02 489.68h3.41V466.96h-3.41zM247.86 489.68h3.41V416.99h-3.41zM251.71 489.68h3.41V403.36h-3.41zM255.55 489.68h3.41V398.81h-3.41zM259.4 489.68h3.41V398.81h-3.41zM263.25 489.68h3.41V426.07h-3.41zM267.09 489.68h3.41V453.33h-3.41zM270.94 489.68h3.41V453.33h-3.41zM274.79 489.68h3.41V439.7h-3.41zM282.48 489.68h3.41V466.96h-3.41zM286.33 489.68h3.41V480.59h-3.41zM297.87 489.68h3.41V466.96h-3.41zM305.56 489.68h3.41V480.59h-3.41zM313.25 489.68h3.41V453.33h-3.41zM320.95 489.68h3.41V466.96h-3.41zM324.79 489.68h3.41V480.59h-3.41zM328.64 489.68h3.41V480.59h-3.41zM332.49 489.68h3.41V480.59h-3.41zM344.02 489.68h3.41V480.59h-3.41zM347.87 489.68h3.41V480.59h-3.41zM351.72 489.68h3.41V480.59h-3.41zM359.41 489.68h3.41V480.59h-3.41zM367.1 489.68h3.41V466.96h-3.41zM370.95 489.68h3.41V480.59h-3.41zM374.8 489.68h3.41V480.59h-3.41zM382.49 489.68h3.41V480.59h-3.41zM386.34 489.68h3.41V480.59h-3.41zM394.03 489.68h3.41V480.59h-3.41z" fill="url(#p20)"/>
<path d="M61.98 355.99V492.29M61.98 492.29h-3.4M61.98 469.57h-3.4M61.98 446.86h-3.4M61.98 424.14h-3.4M61.98 401.42h-3.4M61.98 378.71h-3.4M61.98 355.99h-3.4" class="ax"/>
<text x="57.08" y="495.04" class="l e">0</text>
<text x="57.08" y="472.32" class="l e">5</text>
<text x="57.08" y="449.61" class="l e">10</text>
<text x="57.08" y="426.89" class="l e">15</text>
<text x="57.08" y="404.17" class="l e">20</text>
<text x="57.08" y="381.46" class="l e">25</text>
<text x="57.08" y="358.74" class="l e">30</text>
<text transform="translate(44.9,424.14) rotate(-90)" class="t m">obs_count</text></g>
<g><path d="M444.95 355.99V492.29M460.89 355.99V492.29M477.92 355.99V492.29M494.41 355.99V492.29M511.44 355.99V492.29M527.92 355.99V492.29M544.96 355.99V492.29M561.99 355.99V492.29M578.48 355.99V492.29M595.51 355.99V492.29M612 355.99V492.29M629.03 355.99V492.29M646.07 355.99V492.29M661.45 355.99V492.29M678.49 355.99V492.29M694.97 355.99V492.29M712.01 355.99V492.29M728.49 355.99V492.29M745.53 355.99V492.29M762.56 355.99V492.29M779.05 355.99V492.29M443.35 492.29H784.35M443.35 467.95H784.35M443.35 443.61H784.35M443.35 419.27H784.35M443.35 394.93H784.35M443.35 370.59H784.35" class="gr"/>
<path d="M621.54 491.95h3.41V355.65h-3.41zM625.39 491.95h3.41V453.01h-3.41zM629.23 491.95h3.41V394.59h-3.41zM633.08 491.95h3.41V375.12h-3.41zM636.92 491.95h3.41V394.59h-3.41zM640.77 491.95h3.41V355.65h-3.41zM644.62 491.95h3.41V414.06h-3.41zM648.46 491.95h3.41V433.54h-3.41zM652.31 491.95h3.41V433.54h-3.41zM656.16 491.95h3.41V414.06h-3.41zM663.85 491.95h3.41V472.48h-3.41zM667.7 491.95h3.41V472.48h-3.41zM679.24 491.95h3.41V472.48h-3.41zM686.93 491.95h3.41V472.48h-3.41zM694.62 491.95h3.41V472.48h-3.41zM702.32 491.95h3.41V453.01h-3.41zM710.01 491.95h3.41V453.01h-3.41zM713.86 491.95h3.41V472.48h-3.41zM725.39 491.95h3.41V472.48h-3.41zM729.24 491.95h3.41V472.48h-3.41zM733.09 491.95h3.41V472.48h-3.41zM740.78 491.95h3.41V472.48h-3.41zM748.47 491.95h3.41V453.01h-3.41zM752.32 491.95h3.41V472.48h-3.41zM756.17 491.95h3.41V472.48h-3.41zM763.86 491.95h3.41V472.48h-3.41zM767.71 491.95h3.41V472.48h-3.41zM775.4 487.08h3.41V482.21h-3.41z" fill="#37b24d"/>
<path d="M775.4 491.95h3.41V487.08h-3.41z" fill="#ff7f0a"/>
<pattern id="p21" patternUnits="userSpaceOnUse" x="0" y="491.81" width="20" height="4.87"><rect width="20" height=".28" fill="#fff" fill-opacity=".36"/></pattern>
<path d="M621.54 489.52h3.41V358.08h-3.41zM625.39 489.52h3.41V455.44h-3.41zM629.23 489.52h3.41V397.03h-3.41zM633.08 489.52h3.41V377.56h-3.41zM636.92 489.52h3.41V397.03h-3.41zM640.77 489.52h3.41V358.08h-3.41zM644.62 489.52h3.41V416.5h-3.41zM648.46 489.52h3.41V435.97h-3.41zM652.31 489.52h3.41V435.97h-3.41zM656.16 489.52h3.41V416.5h-3.41zM663.85 489.52h3.41V474.91h-3.41zM667.7 489.52h3.41V474.91h-3.41zM679.24 489.52h3.41V474.91h-3.41zM686.93 489.52h3.41V474.91h-3.41zM694.62 489.52h3.41V474.91h-3.41zM702.32 489.52h3.41V455.44h-3.41zM710.01 489.52h3.41V455.44h-3.41zM713.86 489.52h3.41V474.91h-3.41zM725.39 489.52h3.41V474.91h-3.41zM729.24 489.52h3.41V474.91h-3.41zM733.09 489.52h3.41V474.91h-3.41zM740.78 489.52h3.41V474.91h-3.41zM748.47 489.52h3.41V455.44h-3.41zM752.32 489.52h3.41V474.91h-3.41zM756.17 489.52h3.41V474.91h-3.41zM763.86 489.52h3.41V474.91h-3.41zM767.71 489.52h3.41V474.91h-3.41zM775.4 489.52h3.41V484.65h-3.41z" fill="url(#p21)"/>
<path d="M443.35 355.99V492.29M443.35 492.29h-3.4M443.35 467.95h-3.4M443.35 443.61h-3.4M443.35 419.27h-3.4M443.35 394.93h-3.4M443.35 370.59h-3.4" class="ax"/>
<text x="438.45" y="495.04" class="l e">0</text>
<text x="438.45" y="470.7" class="l e">5</text>
<text x="438.45" y="446.36" class="l e">10</text>
<text x="438.45" y="422.02" class="l e">15</text>
<text x="438.45" y="397.68" class="l e">20</text>
<text x="438.45" y="373.34" class="l e">25</text>
<text transform="translate(426.27,424.14) rotate(-90)" class="t m">obs_count</text></g>
<g><path d="M826.32 355.99V492.29M842.26 355.99V492.29M859.29 355.99V492.29M875.78 355.99V492.29M892.81 355.99V492.29M909.29 355.99V492.29M926.33 355.99V492.29M943.36 355.99V492.29M959.85 355.99V492.29M976.88 355.99V492.29M993.37 355.99V492.29M1010.4 355.99V492.29M1027.44 355.99V492.29M1042.82 355.99V492.29M1059.86 355.99V492.29M1076.34 355.99V492.29M1093.38 355.99V492.29M1109.86 355.99V492.29M1126.9 355.99V492.29M1143.93 355.99V492.29M1160.42 355.99V492.29M824.72 492.29H1165.72M824.72 467.51H1165.72M824.72 442.73H1165.72M824.72 417.94H1165.72M824.72 393.16H1165.72M824.72 368.38H1165.72" class="gr"/>
<path d="M829.82 491.95h3.41V417.6h-3.41zM833.66 491.95h3.41V432.47h-3.41zM837.51 491.95h3.41V477.08h-3.41zM841.36 491.95h3.41V462.21h-3.41zM849.05 491.95h3.41V477.08h-3.41zM856.74 491.95h3.41V358.13h-3.41zM860.59 491.95h3.41V477.08h-3.41zM864.44 491.95h3.41V432.47h-3.41zM868.28 491.95h3.41V462.21h-3.41zM872.13 491.95h3.41V432.47h-3.41zM875.97 491.95h3.41V462.21h-3.41zM879.82 486.99h3.41V477.08h-3.41zM883.67 491.95h3.41V387.87h-3.41zM887.51 491.95h3.41V472.12h-3.41zM895.21 491.95h3.41V432.47h-3.41zM899.05 486.99h3.41V432.47h-3.41zM902.9 491.95h3.41V477.08h-3.41zM910.59 491.95h3.41V454.78h-3.41zM914.44 491.95h3.41V447.34h-3.41zM918.29 491.95h3.41V447.34h-3.41zM925.98 491.95h3.41V484.52h-3.41zM929.83 491.95h3.41V477.08h-3.41zM937.52 491.95h3.41V477.08h-3.41zM941.37 491.95h3.41V462.21h-3.41zM945.21 491.95h3.41V472.12h-3.41zM949.06 491.95h3.41V477.08h-3.41zM952.9 491.95h3.41V462.21h-3.41zM956.75 491.95h3.41V477.08h-3.41zM960.6 491.95h3.41V477.08h-3.41zM964.44 491.95h3.41V447.34h-3.41zM968.29 491.95h3.41V477.08h-3.41zM972.14 491.95h3.41V477.08h-3.41zM975.98 491.95h3.41V484.52h-3.41zM979.83 491.95h3.41V477.08h-3.41zM983.68 491.95h3.41V477.08h-3.41zM987.52 491.95h3.41V457.26h-3.41zM991.37 491.95h3.41V482.04h-3.41zM995.22 491.95h3.41V477.08h-3.41zM1002.91 491.95h3.41V477.08h-3.41zM1006.76 491.95h3.41V482.04h-3.41zM1010.6 491.95h3.41V464.69h-3.41zM1014.45 491.95h3.41V447.34h-3.41zM1018.3 491.95h3.41V462.21h-3.41zM1022.14 491.95h3.41V439.91h-3.41zM1025.99 491.95h3.41V469.65h-3.41zM1029.83 491.95h3.41V469.65h-3.41zM1033.68 491.95h3.41V469.65h-3.41zM1037.53 491.95h3.41V462.21h-3.41zM1045.22 491.95h3.41V484.52h-3.41zM1049.07 491.95h3.41V484.52h-3.41zM1060.61 491.95h3.41V484.52h-3.41zM1068.3 491.95h3.41V484.52h-3.41zM1075.99 491.95h3.41V484.52h-3.41zM1083.69 491.95h3.41V477.08h-3.41zM1091.38 491.95h3.41V477.08h-3.41zM1095.22 491.95h3.41V484.52h-3.41zM1106.76 489.47h3.41V484.52h-3.41zM1110.61 491.95h3.41V484.52h-3.41zM1114.46 489.47h3.41V484.52h-3.41zM1122.15 491.95h3.41V484.52h-3.41zM1129.84 491.95h3.41V477.08h-3.41zM1133.69 491.95h3.41V484.52h-3.41zM1137.54 491.95h3.41V484.52h-3.41zM1145.23 491.95h3.41V484.52h-3.41zM1149.08 491.95h3.41V484.52h-3.41zM1156.77 491.95h3.41V484.52h-3.41z" fill="#37b24d"/>
<path d="M879.82 491.95h3.41V486.99h-3.41z" fill="#ff7f0a"/>
<path d="M899.05 491.95h3.41V486.99h-3.41zM1106.76 491.95h3.41V489.47h-3.41zM1114.46 491.95h3.41V489.47h-3.41z" fill="#fcc419"/>
<pattern id="p22" patternUnits="userSpaceOnUse" x="0" y="491.81" width="20" height="2.48"><rect width="20" height=".28" fill="#fff" fill-opacity=".36"/></pattern>
<path d="M829.82 490.71h3.41V418.84h-3.41zM833.66 490.71h3.41V433.71h-3.41zM837.51 490.71h3.41V478.32h-3.41zM841.36 490.71h3.41V463.45h-3.41zM849.05 490.71h3.41V478.32h-3.41zM856.74 490.71h3.41V359.37h-3.41zM860.59 490.71h3.41V478.32h-3.41zM864.44 490.71h3.41V433.71h-3.41zM868.28 490.71h3.41V463.45h-3.41zM872.13 490.71h3.41V433.71h-3.41zM875.97 490.71h3.41V463.45h-3.41zM879.82 490.71h3.41V478.32h-3.41zM883.67 490.71h3.41V389.11h-3.41zM887.51 490.71h3.41V473.36h-3.41zM895.21 490.71h3.41V433.71h-3.41zM899.05 490.71h3.41V433.71h-3.41zM902.9 490.71h3.41V478.32h-3.41zM910.59 490.71h3.41V456.02h-3.41zM914.44 490.71h3.41V448.58h-3.41zM918.29 490.71h3.41V448.58h-3.41zM925.98 490.71h3.41V485.75h-3.41zM929.83 490.71h3.41V478.32h-3.41zM937.52 490.71h3.41V478.32h-3.41zM941.37 490.71h3.41V463.45h-3.41zM945.21 490.71h3.41V473.36h-3.41zM949.06 490.71h3.41V478.32h-3.41zM952.9 490.71h3.41V463.45h-3.41zM956.75 490.71h3.41V478.32h-3.41zM960.6 490.71h3.41V478.32h-3.41zM964.44 490.71h3.41V448.58h-3.41zM968.29 490.71h3.41V478.32h-3.41zM972.14 490.71h3.41V478.32h-3.41zM975.98 490.71h3.41V485.75h-3.41zM979.83 490.71h3.41V478.32h-3.41zM983.68 490.71h3.41V478.32h-3.41zM987.52 490.71h3.41V458.49h-3.41zM991.37 490.71h3.41V483.28h-3.41zM995.22 490.71h3.41V478.32h-3.41zM1002.91 490.71h3.41V478.32h-3.41zM1006.76 490.71h3.41V483.28h-3.41zM1010.6 490.71h3.41V465.93h-3.41zM1014.45 490.71h3.41V448.58h-3.41zM1018.3 490.71h3.41V463.45h-3.41zM1022.14 490.71h3.41V441.15h-3.41zM1025.99 490.71h3.41V470.89h-3.41zM1029.83 490.71h3.41V470.89h-3.41zM1033.68 490.71h3.41V470.89h-3.41zM1037.53 490.71h3.41V463.45h-3.41zM1045.22 490.71h3.41V485.75h-3.41zM1049.07 490.71h3.41V485.75h-3.41zM1060.61 490.71h3.41V485.75h-3.41zM1068.3 490.71h3.41V485.75h-3.41zM1075.99 490.71h3.41V485.75h-3.41zM1083.69 490.71h3.41V478.32h-3.41zM1091.38 490.71h3.41V478.32h-3.41zM1095.22 490.71h3.41V485.75h-3.41zM1106.76 490.71h3.41V485.75h-3.41zM1110.61 490.71h3.41V485.75h-3.41zM1114.46 490.71h3.41V485.75h-3.41zM1122.15 490.71h3.41V485.75h-3.41zM1129.84 490.71h3.41V478.32h-3.41zM1133.69 490.71h3.41V485.75h-3.41zM1137.54 490.71h3.41V485.75h-3.41zM1145.23 490.71h3.41V485.75h-3.41zM1149.08 490.71h3.41V485.75h-3.41zM1156.77 490.71h3.41V485.75h-3.41z" fill="url(#p22)"/>
<path d="M824.72 355.99V492.29M824.72 492.29h-3.4M824.72 467.51h-3.4M824.72 442.73h-3.4M824.72 417.94h-3.4M824.72 393.16h-3.4M824.72 368.38h-3.4" class="ax"/>
<text x="819.82" y="495.04" class="l e">0</text>
<text x="819.82" y="470.26" class="l e">10</text>
<text x="819.82" y="445.48" class="l e">20</text>
<text x="819.82" y="420.69" class="l e">30</text>
<text x="819.82" y="395.91" class="l e">40</text>
<text x="819.82" y="371.13" class="l e">50</text>
<text transform="translate(807.64,424.14) rotate(-90)" class="t m">obs_count</text></g>
<g><path d="M1207.69 355.99V492.29M1223.63 355.99V492.29M1240.66 355.99V492.29M1257.14 355.99V492.29M1274.18 355.99V492.29M1290.66 355.99V492.29M1307.7 355.99V492.29M1324.73 355.99V492.29M1341.22 355.99V492.29M1358.25 355.99V492.29M1374.74 355.99V492.29M1391.77 355.99V492.29M1408.81 355.99V492.29M1424.19 355.99V492.29M1441.23 355.99V492.29M1457.71 355.99V492.29M1474.75 355.99V492.29M1491.23 355.99V492.29M1508.27 355.99V492.29M1525.3 355.99V492.29M1541.79 355.99V492.29M1206.09 492.29H1547.09M1206.09 472.82H1547.09M1206.09 453.35H1547.09M1206.09 433.88H1547.09M1206.09 414.4H1547.09M1206.09 394.93H1547.09M1206.09 375.46H1547.09M1206.09 355.99H1547.09" class="gr"/>
<path d="M1384.28 491.95h3.41V355.65h-3.41zM1388.13 491.95h3.41V453.01h-3.41zM1391.97 491.95h3.41V355.65h-3.41zM1395.82 491.95h3.41V375.12h-3.41zM1399.67 491.95h3.41V433.54h-3.41zM1403.51 491.95h3.41V355.65h-3.41zM1407.36 491.95h3.41V433.54h-3.41zM1411.2 491.95h3.41V433.54h-3.41zM1415.05 491.95h3.41V414.06h-3.41zM1418.9 491.95h3.41V433.54h-3.41zM1430.44 491.95h3.41V453.01h-3.41zM1441.98 491.95h3.41V472.48h-3.41zM1449.67 491.95h3.41V472.48h-3.41zM1457.36 491.95h3.41V472.48h-3.41zM1465.06 491.95h3.41V472.48h-3.41zM1472.75 491.95h3.41V453.01h-3.41zM1488.13 491.95h3.41V472.48h-3.41zM1491.98 491.95h3.41V472.48h-3.41zM1495.83 491.95h3.41V472.48h-3.41zM1503.52 491.95h3.41V472.48h-3.41zM1511.21 491.95h3.41V453.01h-3.41zM1515.06 491.95h3.41V472.48h-3.41zM1518.91 491.95h3.41V472.48h-3.41zM1526.6 491.95h3.41V472.48h-3.41zM1530.45 491.95h3.41V472.48h-3.41zM1538.14 491.95h3.41V472.48h-3.41z" fill="#37b24d"/>
<pattern id="p23" patternUnits="userSpaceOnUse" x="0" y="491.81" width="20" height="19.47"><rect width="20" height=".28" fill="#fff" fill-opacity=".36"/></pattern>
<path d="M1384.28 482.21h3.41V365.39h-3.41zM1388.13 482.21h3.41V462.74h-3.41zM1391.97 482.21h3.41V365.39h-3.41zM1395.82 482.21h3.41V384.86h-3.41zM1399.67 482.21h3.41V443.27h-3.41zM1403.51 482.21h3.41V365.39h-3.41zM1407.36 482.21h3.41V443.27h-3.41zM1411.2 482.21h3.41V443.27h-3.41zM1415.05 482.21h3.41V423.8h-3.41zM1418.9 482.21h3.41V443.27h-3.41zM1430.44 482.21h3.41V462.74h-3.41zM1472.75 482.21h3.41V462.74h-3.41zM1511.21 482.21h3.41V462.74h-3.41z" fill="url(#p23)"/>
<path d="M1206.09 355.99V492.29M1206.09 492.29h-3.4M1206.09 472.82h-3.4M1206.09 453.35h-3.4M1206.09 433.88h-3.4M1206.09 414.4h-3.4M1206.09 394.93h-3.4M1206.09 375.46h-3.4M1206.09 355.99h-3.4" class="ax"/>
<text x="1201.19" y="495.04" class="l e">0</text>
<text x="1201.19" y="475.57" class="l e">1</text>
<text x="1201.19" y="456.1" class="l e">2</text>
<text x="1201.19" y="436.63" class="l e">3</text>
<text x="1201.19" y="417.15" class="l e">4</text>
<text x="1201.19" y="397.68" class="l e">5</text>
<text x="1201.19" y="378.21" class="l e">6</text>
<text x="1201.19" y="358.74" class="l e">7</text>
<text transform="translate(1192.79,424.14) rotate(-90)" class="t m">obs_count</text></g>
<g><path d="M1589.06 355.99V492.29M1605 355.99V492.29M1622.03 355.99V492.29M1638.51 355.99V492.29M1655.55 355.99V492.29M1672.03 355.99V492.29M1689.07 355.99V492.29M1706.1 355.99V492.29M1722.59 355.99V492.29M1739.62 355.99V492.29M1756.11 355.99V492.29M1773.14 355.99V492.29M1790.18 355.99V492.29M1805.56 355.99V492.29M1822.6 355.99V492.29M1839.08 355.99V492.29M1856.12 355.99V492.29M1872.6 355.99V492.29M1889.64 355.99V492.29M1906.67 355.99V492.29M1923.16 355.99V492.29M1587.46 492.29H1928.46M1587.46 472.82H1928.46M1587.46 453.35H1928.46M1587.46 433.88H1928.46M1587.46 414.4H1928.46M1587.46 394.93H1928.46M1587.46 375.46H1928.46M1587.46 355.99H1928.46" class="gr"/>
<path d="M1588.71 476.37h3.41V460.8h-3.41zM1600.25 491.95h3.41V460.8h-3.41zM1604.1 491.95h3.41V460.8h-3.41zM1611.79 491.95h3.41V476.37h-3.41zM1623.33 488.06h3.41V453.01h-3.41zM1627.17 460.8h3.41V429.64h-3.41zM1631.02 468.58h3.41V414.06h-3.41zM1634.87 491.95h3.41V429.64h-3.41zM1638.71 491.95h3.41V453.01h-3.41zM1642.56 484.16h3.41V476.37h-3.41zM1646.41 476.37h3.41V429.64h-3.41zM1650.25 484.16h3.41V476.37h-3.41zM1654.1 491.95h3.41V476.37h-3.41zM1657.95 484.16h3.41V476.37h-3.41zM1661.79 491.95h3.41V460.8h-3.41zM1665.64 491.95h3.41V445.22h-3.41zM1673.33 468.58h3.41V460.8h-3.41zM1677.18 491.95h3.41V429.64h-3.41zM1681.03 484.16h3.41V460.8h-3.41zM1684.87 491.95h3.41V476.37h-3.41zM1688.72 491.95h3.41V476.37h-3.41zM1692.57 491.95h3.41V460.8h-3.41zM1696.41 491.95h3.41V476.37h-3.41zM1700.26 491.95h3.41V476.37h-3.41zM1704.11 491.95h3.41V367.33h-3.41zM1707.95 491.95h3.41V476.37h-3.41zM1711.8 491.95h3.41V476.37h-3.41zM1715.64 491.95h3.41V460.8h-3.41zM1719.49 491.95h3.41V476.37h-3.41zM1723.34 491.95h3.41V460.8h-3.41zM1727.18 491.95h3.41V445.22h-3.41zM1731.03 491.95h3.41V476.37h-3.41zM1734.88 491.95h3.41V476.37h-3.41zM1738.72 491.95h3.41V468.58h-3.41zM1742.57 491.95h3.41V476.37h-3.41zM1746.42 491.95h3.41V476.37h-3.41zM1750.26 491.95h3.41V476.37h-3.41zM1754.11 491.95h3.41V460.8h-3.41zM1757.96 491.95h3.41V484.16h-3.41zM1761.8 491.95h3.41V468.58h-3.41zM1765.65 491.95h3.41V476.37h-3.41zM1769.5 491.95h3.41V476.37h-3.41zM1773.34 491.95h3.41V429.64h-3.41zM1777.19 491.95h3.41V453.01h-3.41zM1781.04 491.95h3.41V468.58h-3.41zM1784.88 491.95h3.41V437.43h-3.41zM1788.73 491.95h3.41V468.58h-3.41zM1792.57 491.95h3.41V468.58h-3.41zM1796.42 491.95h3.41V468.58h-3.41zM1800.27 491.95h3.41V460.8h-3.41zM1811.81 491.95h3.41V476.37h-3.41zM1823.35 491.95h3.41V484.16h-3.41zM1831.04 491.95h3.41V484.16h-3.41zM1846.43 491.95h3.41V484.16h-3.41zM1854.12 491.95h3.41V476.37h-3.41zM1869.5 491.95h3.41V484.16h-3.41zM1873.35 491.95h3.41V484.16h-3.41zM1877.2 491.95h3.41V484.16h-3.41zM1884.89 491.95h3.41V484.16h-3.41zM1892.58 491.95h3.41V476.37h-3.41zM1900.28 491.95h3.41V484.16h-3.41zM1907.97 491.95h3.41V484.16h-3.41zM1911.82 491.95h3.41V484.16h-3.41zM1919.51 491.95h3.41V484.16h-3.41z" fill="#37b24d"/>
<path d="M1673.33 476.37h3.41V468.58h-3.41z" fill="#ff7f0a"/>
<path d="M1588.71 491.95h3.41V476.37h-3.41zM1623.33 491.95h3.41V488.06h-3.41zM1627.17 476.37h3.41V460.8h-3.41zM1631.02 484.16h3.41V468.58h-3.41zM1642.56 491.95h3.41V484.16h-3.41zM1646.41 491.95h3.41V476.37h-3.41zM1650.25 491.95h3.41V484.16h-3.41zM1657.95 491.95h3.41V484.16h-3.41zM1673.33 491.95h3.41V476.37h-3.41zM1681.03 491.95h3.41V484.16h-3.41z" fill="#e03131"/>
<path d="M1627.17 491.95h3.41V476.37h-3.41zM1631.02 491.95h3.41V484.16h-3.41z" fill="#fcc419"/>
<pattern id="p24" patternUnits="userSpaceOnUse" x="0" y="491.81" width="20" height="3.89"><rect width="20" height=".28" fill="#fff" fill-opacity=".36"/></pattern>
<path d="M1588.71 490h3.41V462.74h-3.41zM1600.25 490h3.41V462.74h-3.41zM1604.1 490h3.41V462.74h-3.41zM1611.79 490h3.41V478.32h-3.41zM1623.33 490h3.41V454.95h-3.41zM1627.17 490h3.41V431.59h-3.41zM1631.02 490h3.41V416.01h-3.41zM1634.87 490h3.41V431.59h-3.41zM1638.71 490h3.41V454.95h-3.41zM1642.56 490h3.41V478.32h-3.41zM1646.41 490h3.41V431.59h-3.41zM1650.25 490h3.41V478.32h-3.41zM1654.1 490h3.41V478.32h-3.41zM1657.95 490h3.41V478.32h-3.41zM1661.79 490h3.41V462.74h-3.41zM1665.64 490h3.41V447.17h-3.41zM1673.33 490h3.41V462.74h-3.41zM1677.18 490h3.41V431.59h-3.41zM1681.03 490h3.41V462.74h-3.41zM1684.87 490h3.41V478.32h-3.41zM1688.72 490h3.41V478.32h-3.41zM1692.57 490h3.41V462.74h-3.41zM1696.41 490h3.41V478.32h-3.41zM1700.26 490h3.41V478.32h-3.41zM1704.11 490h3.41V369.28h-3.41zM1707.95 490h3.41V478.32h-3.41zM1711.8 490h3.41V478.32h-3.41zM1715.64 490h3.41V462.74h-3.41zM1719.49 490h3.41V478.32h-3.41zM1723.34 490h3.41V462.74h-3.41zM1727.18 490h3.41V447.17h-3.41zM1731.03 490h3.41V478.32h-3.41zM1734.88 490h3.41V478.32h-3.41zM1738.72 490h3.41V470.53h-3.41zM1742.57 490h3.41V478.32h-3.41zM1746.42 490h3.41V478.32h-3.41zM1750.26 490h3.41V478.32h-3.41zM1754.11 490h3.41V462.74h-3.41zM1757.96 490h3.41V486.11h-3.41zM1761.8 490h3.41V470.53h-3.41zM1765.65 490h3.41V478.32h-3.41zM1769.5 490h3.41V478.32h-3.41zM1773.34 490h3.41V431.59h-3.41zM1777.19 490h3.41V454.95h-3.41zM1781.04 490h3.41V470.53h-3.41zM1784.88 490h3.41V439.38h-3.41zM1788.73 490h3.41V470.53h-3.41zM1792.57 490h3.41V470.53h-3.41zM1796.42 490h3.41V470.53h-3.41zM1800.27 490h3.41V462.74h-3.41zM1811.81 490h3.41V478.32h-3.41zM1823.35 490h3.41V486.11h-3.41zM1831.04 490h3.41V486.11h-3.41zM1846.43 490h3.41V486.11h-3.41zM1854.12 490h3.41V478.32h-3.41zM1869.5 490h3.41V486.11h-3.41zM1873.35 490h3.41V486.11h-3.41zM1877.2 490h3.41V486.11h-3.41zM1884.89 490h3.41V486.11h-3.41zM1892.58 490h3.41V478.32h-3.41zM1900.28 490h3.41V486.11h-3.41zM1907.97 490h3.41V486.11h-3.41zM1911.82 490h3.41V486.11h-3.41zM1919.51 490h3.41V486.11h-3.41z" fill="url(#p24)"/>
<path d="M1587.46 355.99V492.29M1587.46 492.29h-3.4M1587.46 472.82h-3.4M1587.46 453.35h-3.4M1587.46 433.88h-3.4M1587.46 414.4h-3.4M1587.46 394.93h-3.4M1587.46 375.46h-3.4M1587.46 355.99h-3.4" class="ax"/>
<text x="1582.56" y="495.04" class="l e">0</text>
<text x="1582.56" y="475.57" class="l e">5</text>
<text x="1582.56" y="456.1" class="l e">10</text>
<text x="1582.56" y="436.63" class="l e">15</text>
<text x="1582.56" y="417.15" class="l e">20</text>
<text x="1582.56" y="397.68" class="l e">25</text>
<text x="1582.56" y="378.21" class="l e">30</text>
<text x="1582.56" y="358.74" class="l e">35</text>
<text transform="translate(1570.38,424.14) rotate(-90)" class="t m">obs_count</text></g>
<g><path d="M63.58 513.02V649.32M79.52 513.02V649.32M96.55 513.02V649.32M113.03 513.02V649.32M130.07 513.02V649.32M146.55 513.02V649.32M163.59 513.02V649.32M180.62 513.02V649.32M197.11 513.02V649.32M214.14 513.02V649.32M230.63 513.02V649.32M247.66 513.02V649.32M264.7 513.02V649.32M280.08 513.02V649.32M297.12 513.02V649.32M313.6 513.02V649.32M330.64 513.02V649.32M347.12 513.02V649.32M364.16 513.02V649.32M381.19 513.02V649.32M397.68 513.02V649.32M61.98 649.32H402.98M61.98 620.92H402.98M61.98 592.53H402.98M61.98 564.13H402.98M61.98 535.74H402.98" class="gr"/>
<path d="M240.17 626.26h3.41V569.47h-3.41zM244.02 637.62h3.41V580.83h-3.41zM247.86 620.58h3.41V563.79h-3.41zM251.71 597.87h3.41V535.4h-3.41zM255.55 620.58h3.41V580.83h-3.41zM259.4 620.58h3.41V541.08h-3.41zM263.25 626.26h3.41V529.72h-3.41zM267.09 637.62h3.41V614.9h-3.41zM270.94 648.98h3.41V631.94h-3.41zM274.79 643.3h3.41V631.94h-3.41zM278.63 643.3h3.41V614.9h-3.41zM282.48 648.98h3.41V631.94h-3.41zM286.33 648.98h3.41V580.83h-3.41zM290.17 648.98h3.41V597.87h-3.41zM294.02 648.98h3.41V614.9h-3.41zM297.87 648.98h3.41V546.75h-3.41zM301.71 626.26h3.41V563.79h-3.41zM305.56 643.3h3.41V614.9h-3.41zM309.41 626.26h3.41V603.55h-3.41zM313.25 643.3h3.41V637.62h-3.41zM317.1 637.62h3.41V614.9h-3.41zM320.95 637.62h3.41V620.58h-3.41zM324.79 637.62h3.41V592.19h-3.41zM328.64 637.62h3.41V592.19h-3.41zM332.49 648.98h3.41V603.55h-3.41zM340.18 643.3h3.41V631.94h-3.41zM344.02 648.98h3.41V637.62h-3.41zM347.87 643.3h3.41V603.55h-3.41zM351.72 637.62h3.41V614.9h-3.41zM355.56 648.98h3.41V597.87h-3.41zM359.41 643.3h3.41V529.72h-3.41zM363.26 637.62h3.41V518.36h-3.41zM367.1 648.98h3.41V552.43h-3.41zM370.95 643.3h3.41V546.75h-3.41zM374.8 631.94h3.41V529.72h-3.41zM378.64 631.94h3.41V563.79h-3.41zM382.49 637.62h3.41V597.87h-3.41zM386.34 631.94h3.41V597.87h-3.41zM390.18 637.62h3.41V614.9h-3.41zM394.03 631.94h3.41V580.83h-3.41zM397.88 643.3h3.41V614.9h-3.41z" fill="#37b24d"/>
<path d="M309.41 631.94h3.41V626.26h-3.41zM347.87 648.98h3.41V643.3h-3.41zM363.26 648.98h3.41V637.62h-3.41zM370.95 648.98h3.41V643.3h-3.41zM374.8 648.98h3.41V631.94h-3.41zM378.64 648.98h3.41V631.94h-3.41zM382.49 643.3h3.41V637.62h-3.41zM386.34 643.3h3.41V631.94h-3.41zM390.18 643.3h3.41V637.62h-3.41zM394.03 648.98h3.41V631.94h-3.41z" fill="#ff7f0a"/>
<path d="M240.17 648.98h3.41V626.26h-3.41zM244.02 648.98h3.41V637.62h-3.41zM247.86 648.98h3.41V620.58h-3.41zM251.71 648.98h3.41V597.87h-3.41zM255.55 648.98h3.41V620.58h-3.41zM259.4 648.98h3.41V620.58h-3.41zM263.25 648.98h3.41V626.26h-3.41zM267.09 648.98h3.41V637.62h-3.41zM274.79 648.98h3.41V643.3h-3.41zM278.63 648.98h3.41V643.3h-3.41zM301.71 648.98h3.41V626.26h-3.41zM305.56 648.98h3.41V643.3h-3.41zM309.41 648.98h3.41V631.94h-3.41zM313.25 648.98h3.41V643.3h-3.41zM317.1 648.98h3.41V637.62h-3.41zM320.95 648.98h3.41V637.62h-3.41zM324.79 648.98h3.41V637.62h-3.41zM328.64 648.98h3.41V637.62h-3.41zM340.18 648.98h3.41V643.3h-3.41zM351.72 648.98h3.41V637.62h-3.41zM359.41 648.98h3.41V643.3h-3.41zM382.49 648.98h3.41V643.3h-3.41zM386.34 648.98h3.41V643.3h-3.41zM390.18 648.98h3.41V643.3h-3.41zM397.88 648.98h3.41V643.3h-3.41z" fill="#fcc419"/>
<pattern id="p30" patternUnits="userSpaceOnUse" x="0" y="648.84" width="20" height="5.68"><rect width="20" height=".28" fill="#fff" fill-opacity=".36"/></pattern>
<path d="M240.17 646.14h3.41V572.31h-3.41zM244.02 646.14h3.41V583.67h-3.41zM247.86 646.14h3.41V566.63h-3.41zM251.71 646.14h3.41V538.24h-3.41zM255.55 646.14h3.41V583.67h-3.41zM259.4 646.14h3.41V543.92h-3.41zM263.25 646.14h3.41V532.56h-3.41zM267.09 646.14h3.41V617.74h-3.41zM270.94 646.14h3.41V634.78h-3.41zM274.79 646.14h3.41V634.78h-3.41zM278.63 646.14h3.41V617.74h-3.41zM282.48 646.14h3.41V634.78h-3.41zM286.33 646.14h3.41V583.67h-3.41zM290.17 646.14h3.41V600.71h-3.41zM294.02 646.14h3.41V617.74h-3.41zM297.87 646.14h3.41V549.59h-3.41zM301.71 646.14h3.41V566.63h-3.41zM305.56 646.14h3.41V617.74h-3.41zM309.41 646.14h3.41V606.39h-3.41zM313.25 646.14h3.41V640.46h-3.41zM317.1 646.14h3.41V617.74h-3.41zM320.95 646.14h3.41V623.42h-3.41zM324.79 646.14h3.41V595.03h-3.41zM328.64 646.14h3.41V595.03h-3.41zM332.49 646.14h3.41V606.39h-3.41zM340.18 646.14h3.41V634.78h-3.41zM344.02 646.14h3.41V640.46h-3.41zM347.87 646.14h3.41V606.39h-3.41zM351.72 646.14h3.41V617.74h-3.41zM355.56 646.14h3.41V600.71h-3.41zM359.41 646.14h3.41V532.56h-3.41zM363.26 646.14h3.41V521.2h-3.41zM367.1 646.14h3.41V555.27h-3.41zM370.95 646.14h3.41V549.59h-3.41zM374.8 646.14h3.41V532.56h-3.41zM378.64 646.14h3.41V566.63h-3.41zM382.49 646.14h3.41V600.71h-3.41zM386.34 646.14h3.41V600.71h-3.41zM390.18 646.14h3.41V617.74h-3.41zM394.03 646.14h3.41V583.67h-3.41zM397.88 646.14h3.41V617.74h-3.41z" fill="url(#p30)"/>
<path d="M61.98 513.02V649.32M61.98 649.32h-3.4M61.98 620.92h-3.4M61.98 592.53h-3.4M61.98 564.13h-3.4M61.98 535.74h-3.4" class="ax"/>
<text x="57.08" y="652.07" class="l e">0</text>
<text x="57.08" y="623.67" class="l e">5</text>
<text x="57.08" y="595.28" class="l e">10</text>
<text x="57.08" y="566.88" class="l e">15</text>
<text x="57.08" y="538.49" class="l e">20</text>
<text transform="translate(44.9,581.17) rotate(-90)" class="t m">obs_count</text></g>
<g><path d="M444.95 513.02V649.32M460.89 513.02V649.32M477.92 513.02V649.32M494.41 513.02V649.32M511.44 513.02V649.32M527.92 513.02V649.32M544.96 513.02V649.32M561.99 513.02V649.32M578.48 513.02V649.32M595.51 513.02V649.32M612 513.02V649.32M629.03 513.02V649.32M646.07 513.02V649.32M661.45 513.02V649.32M678.49 513.02V649.32M694.97 513.02V649.32M712.01 513.02V649.32M728.49 513.02V649.32M745.53 513.02V649.32M762.56 513.02V649.32M779.05 513.02V649.32M443.35 649.32H784.35M443.35 624.98H784.35M443.35 600.64H784.35M443.35 576.3H784.35M443.35 551.96H784.35M443.35 527.62H784.35" class="gr"/>
<path d="M621.54 648.98h3.41V571.09h-3.41zM625.39 648.98h3.41V571.09h-3.41zM629.23 648.98h3.41V551.62h-3.41zM633.08 648.98h3.41V532.15h-3.41zM636.92 648.98h3.41V571.09h-3.41zM640.77 648.98h3.41V532.15h-3.41zM644.62 648.98h3.41V532.15h-3.41zM648.46 648.98h3.41V610.04h-3.41zM652.31 648.98h3.41V629.51h-3.41zM656.16 648.98h3.41V629.51h-3.41zM660 648.98h3.41V610.04h-3.41zM663.85 648.98h3.41V629.51h-3.41zM667.7 648.98h3.41V571.09h-3.41zM671.54 648.98h3.41V590.57h-3.41zM675.39 648.98h3.41V610.04h-3.41zM679.24 648.98h3.41V551.62h-3.41zM683.08 648.98h3.41V571.09h-3.41zM686.93 648.98h3.41V610.04h-3.41zM690.78 648.98h3.41V610.04h-3.41zM694.62 648.98h3.41V629.51h-3.41zM698.47 648.98h3.41V610.04h-3.41zM702.32 648.98h3.41V610.04h-3.41zM706.16 648.98h3.41V629.51h-3.41zM710.01 648.98h3.41V590.57h-3.41zM713.86 648.98h3.41V571.09h-3.41zM721.55 648.98h3.41V629.51h-3.41zM725.39 648.98h3.41V629.51h-3.41zM729.24 648.98h3.41V590.57h-3.41zM733.09 644.11h3.41V610.04h-3.41zM736.93 648.98h3.41V590.57h-3.41zM740.78 648.98h3.41V512.68h-3.41zM744.63 648.98h3.41V512.68h-3.41zM748.47 648.98h3.41V537.02h-3.41zM752.32 648.98h3.41V517.55h-3.41zM756.17 648.98h3.41V532.15h-3.41zM760.01 648.98h3.41V590.57h-3.41zM763.86 648.98h3.41V610.04h-3.41zM767.71 648.98h3.41V590.57h-3.41zM771.55 648.98h3.41V610.04h-3.41zM775.4 644.11h3.41V610.04h-3.41zM779.25 648.98h3.41V639.24h-3.41z" fill="#37b24d"/>
<path d="M775.4 648.98h3.41V644.11h-3.41z" fill="#ff7f0a"/>
<path d="M733.09 648.98h3.41V644.11h-3.41z" fill="#fcc419"/>
<pattern id="p31" patternUnits="userSpaceOnUse" x="0" y="648.84" width="20" height="4.87"><rect width="20" height=".28" fill="#fff" fill-opacity=".36"/></pattern>
<path d="M621.54 646.55h3.41V573.53h-3.41zM625.39 646.55h3.41V573.53h-3.41zM629.23 646.55h3.41V554.06h-3.41zM633.08 646.55h3.41V534.59h-3.41zM636.92 646.55h3.41V573.53h-3.41zM640.77 646.55h3.41V534.59h-3.41zM644.62 646.55h3.41V534.59h-3.41zM648.46 646.55h3.41V612.47h-3.41zM652.31 646.55h3.41V631.94h-3.41zM656.16 646.55h3.41V631.94h-3.41zM660 646.55h3.41V612.47h-3.41zM663.85 646.55h3.41V631.94h-3.41zM667.7 646.55h3.41V573.53h-3.41zM671.54 646.55h3.41V593h-3.41zM675.39 646.55h3.41V612.47h-3.41zM679.24 646.55h3.41V554.06h-3.41zM683.08 646.55h3.41V573.53h-3.41zM686.93 646.55h3.41V612.47h-3.41zM690.78 646.55h3.41V612.47h-3.41zM694.62 646.55h3.41V631.94h-3.41zM698.47 646.55h3.41V612.47h-3.41zM702.32 646.55h3.41V612.47h-3.41zM706.16 646.55h3.41V631.94h-3.41zM710.01 646.55h3.41V593h-3.41zM713.86 646.55h3.41V573.53h-3.41zM721.55 646.55h3.41V631.94h-3.41zM725.39 646.55h3.41V631.94h-3.41zM729.24 646.55h3.41V593h-3.41zM733.09 646.55h3.41V612.47h-3.41zM736.93 646.55h3.41V593h-3.41zM740.78 646.55h3.41V515.11h-3.41zM744.63 646.55h3.41V515.11h-3.41zM748.47 646.55h3.41V539.45h-3.41zM752.32 646.55h3.41V519.98h-3.41zM756.17 646.55h3.41V534.59h-3.41zM760.01 646.55h3.41V593h-3.41zM763.86 646.55h3.41V612.47h-3.41zM767.71 646.55h3.41V593h-3.41zM771.55 646.55h3.41V612.47h-3.41zM775.4 646.55h3.41V612.47h-3.41zM779.25 646.55h3.41V641.68h-3.41z" fill="url(#p31)"/>
<path d="M443.35 513.02V649.32M443.35 649.32h-3.4M443.35 624.98h-3.4M443.35 600.64h-3.4M443.35 576.3h-3.4M443.35 551.96h-3.4M443.35 527.62h-3.4" class="ax"/>
<text x="438.45" y="652.07" class="l e">0</text>
<text x="438.45" y="627.73" class="l e">5</text>
<text x="438.45" y="603.39" class="l e">10</text>
<text x="438.45" y="579.05" class="l e">15</text>
<text x="438.45" y="554.71" class="l e">20</text>
<text x="438.45" y="530.37" class="l e">25</text>
<text transform="translate(426.27,581.17) rotate(-90)" class="t m">obs_count</text></g>
<g><path d="M826.32 513.02V649.32M842.26 513.02V649.32M859.29 513.02V649.32M875.78 513.02V649.32M892.81 513.02V649.32M909.29 513.02V649.32M926.33 513.02V649.32M943.36 513.02V649.32M959.85 513.02V649.32M976.88 513.02V649.32M993.37 513.02V649.32M1010.4 513.02V649.32M1027.44 513.02V649.32M1042.82 513.02V649.32M1059.86 513.02V649.32M1076.34 513.02V649.32M1093.38 513.02V649.32M1109.86 513.02V649.32M1126.9 513.02V649.32M1143.93 513.02V649.32M1160.42 513.02V649.32M824.72 649.32H1165.72M824.72 606.73H1165.72M824.72 564.13H1165.72M824.72 521.54H1165.72" class="gr"/>
<path d="M825.97 648.98h3.41V623.42h-3.41zM829.82 648.98h3.41V572.31h-3.41zM833.66 648.98h3.41V638.76h-3.41zM837.51 648.98h3.41V633.65h-3.41zM841.36 648.98h3.41V638.76h-3.41zM845.2 648.98h3.41V623.42h-3.41zM849.05 648.98h3.41V628.53h-3.41zM852.9 648.98h3.41V618.31h-3.41zM856.74 648.98h3.41V623.42h-3.41zM860.59 648.98h3.41V643.87h-3.41zM868.28 648.98h3.41V643.87h-3.41zM872.13 648.98h3.41V643.87h-3.41zM875.97 648.98h3.41V638.76h-3.41zM883.67 647.28h3.41V638.76h-3.41zM887.51 648.98h3.41V643.87h-3.41zM891.36 648.98h3.41V643.87h-3.41zM895.21 648.98h3.41V638.76h-3.41zM906.75 648.98h3.41V643.87h-3.41zM910.59 648.98h3.41V638.76h-3.41zM914.44 648.98h3.41V638.76h-3.41zM918.29 648.98h3.41V638.76h-3.41zM922.13 648.98h3.41V643.87h-3.41zM925.98 648.98h3.41V636.2h-3.41zM929.83 648.98h3.41V638.76h-3.41zM933.67 638.76h3.41V516.09h-3.41zM937.52 648.98h3.41V625.13h-3.41zM941.37 648.98h3.41V615.76h-3.41zM945.21 645.57h3.41V630.24h-3.41zM949.06 648.98h3.41V623.42h-3.41zM952.9 648.98h3.41V613.2h-3.41zM956.75 648.98h3.41V618.31h-3.41zM960.6 648.98h3.41V618.31h-3.41zM964.44 648.98h3.41V623.42h-3.41zM968.29 648.98h3.41V618.31h-3.41zM972.14 648.98h3.41V618.31h-3.41zM975.98 648.98h3.41V620.87h-3.41zM979.83 648.98h3.41V608.09h-3.41zM983.68 648.98h3.41V633.65h-3.41zM987.52 648.98h3.41V628.53h-3.41zM991.37 648.98h3.41V628.53h-3.41zM995.22 648.98h3.41V638.76h-3.41zM999.06 648.98h3.41V634.5h-3.41zM1002.91 648.98h3.41V639.61h-3.41zM1006.76 648.98h3.41V638.76h-3.41zM1010.6 648.98h3.41V636.2h-3.41zM1014.45 648.98h3.41V633.65h-3.41zM1018.3 648.98h3.41V638.76h-3.41zM1022.14 648.98h3.41V633.65h-3.41zM1025.99 648.98h3.41V633.65h-3.41zM1029.83 648.98h3.41V641.31h-3.41zM1033.68 648.98h3.41V646.42h-3.41zM1037.53 648.98h3.41V646.42h-3.41zM1041.37 648.98h3.41V643.87h-3.41zM1045.22 648.98h3.41V646.42h-3.41zM1049.07 648.98h3.41V643.87h-3.41zM1052.91 648.98h3.41V641.31h-3.41zM1056.76 648.98h3.41V646.42h-3.41zM1060.61 648.98h3.41V635.35h-3.41zM1064.45 648.98h3.41V638.76h-3.41zM1068.3 648.98h3.41V643.87h-3.41zM1072.15 648.98h3.41V643.87h-3.41zM1075.99 648.98h3.41V646.42h-3.41zM1079.84 648.98h3.41V643.87h-3.41zM1083.69 648.98h3.41V643.87h-3.41zM1087.53 648.98h3.41V646.42h-3.41zM1091.38 648.98h3.41V643.87h-3.41zM1095.22 648.98h3.41V641.31h-3.41zM1102.92 648.98h3.41V646.42h-3.41zM1106.76 648.98h3.41V646.42h-3.41zM1110.61 648.98h3.41V643.87h-3.41zM1114.46 648.98h3.41V644.72h-3.41zM1118.3 648.98h3.41V641.31h-3.41zM1122.15 648.98h3.41V631.09h-3.41zM1126 648.98h3.41V631.09h-3.41zM1129.84 648.98h3.41V633.65h-3.41zM1133.69 648.98h3.41V630.24h-3.41zM1137.54 648.98h3.41V633.65h-3.41zM1141.38 648.98h3.41V639.61h-3.41zM1145.23 648.98h3.41V643.87h-3.41zM1149.08 648.13h3.41V643.02h-3.41zM1152.92 648.98h3.41V644.72h-3.41zM1156.77 648.98h3.41V638.76h-3.41zM1160.62 648.98h3.41V646.42h-3.41z" fill="#37b24d"/>
<path d="M945.21 648.98h3.41V645.57h-3.41zM1149.08 648.98h3.41V648.13h-3.41z" fill="#ff7f0a"/>
<path d="M883.67 648.98h3.41V647.28h-3.41zM933.67 648.98h3.41V638.76h-3.41z" fill="#fcc419"/>
<pattern id="p32" patternUnits="userSpaceOnUse" x="0" y="648.84" width="20" height="2.56"><rect width="20" height=".28" fill="#fff" fill-opacity=".36"/></pattern>
<path d="M825.97 647.7h3.41V624.7h-3.41zM829.82 647.7h3.41V573.59h-3.41zM833.66 647.7h3.41V640.04h-3.41zM837.51 647.7h3.41V634.92h-3.41zM841.36 647.7h3.41V640.04h-3.41zM845.2 647.7h3.41V624.7h-3.41zM849.05 647.7h3.41V629.81h-3.41zM852.9 647.7h3.41V619.59h-3.41zM856.74 647.7h3.41V624.7h-3.41zM860.59 647.7h3.41V645.15h-3.41zM868.28 647.7h3.41V645.15h-3.41zM872.13 647.7h3.41V645.15h-3.41zM875.97 647.7h3.41V640.04h-3.41zM883.67 647.7h3.41V640.04h-3.41zM887.51 647.7h3.41V645.15h-3.41zM891.36 647.7h3.41V645.15h-3.41zM895.21 647.7h3.41V640.04h-3.41zM906.75 647.7h3.41V645.15h-3.41zM910.59 647.7h3.41V640.04h-3.41zM914.44 647.7h3.41V640.04h-3.41zM918.29 647.7h3.41V640.04h-3.41zM922.13 647.7h3.41V645.15h-3.41zM925.98 647.7h3.41V637.48h-3.41zM929.83 647.7h3.41V640.04h-3.41zM933.67 647.7h3.41V517.37h-3.41zM937.52 647.7h3.41V626.41h-3.41zM941.37 647.7h3.41V617.03h-3.41zM945.21 647.7h3.41V631.52h-3.41zM949.06 647.7h3.41V624.7h-3.41zM952.9 647.7h3.41V614.48h-3.41zM956.75 647.7h3.41V619.59h-3.41zM960.6 647.7h3.41V619.59h-3.41zM964.44 647.7h3.41V624.7h-3.41zM968.29 647.7h3.41V619.59h-3.41zM972.14 647.7h3.41V619.59h-3.41zM975.98 647.7h3.41V622.15h-3.41zM979.83 647.7h3.41V609.37h-3.41zM983.68 647.7h3.41V634.92h-3.41zM987.52 647.7h3.41V629.81h-3.41zM991.37 647.7h3.41V629.81h-3.41zM995.22 647.7h3.41V640.04h-3.41zM999.06 647.7h3.41V635.78h-3.41zM1002.91 647.7h3.41V640.89h-3.41zM1006.76 647.7h3.41V640.04h-3.41zM1010.6 647.7h3.41V637.48h-3.41zM1014.45 647.7h3.41V634.92h-3.41zM1018.3 647.7h3.41V640.04h-3.41zM1022.14 647.7h3.41V634.92h-3.41zM1025.99 647.7h3.41V634.92h-3.41zM1029.83 647.7h3.41V642.59h-3.41zM1033.68 647.7h3.41V647.7h-3.41zM1037.53 647.7h3.41V647.7h-3.41zM1041.37 647.7h3.41V645.15h-3.41zM1045.22 647.7h3.41V647.7h-3.41zM1049.07 647.7h3.41V645.15h-3.41zM1052.91 647.7h3.41V642.59h-3.41zM1056.76 647.7h3.41V647.7h-3.41zM1060.61 647.7h3.41V636.63h-3.41zM1064.45 647.7h3.41V640.04h-3.41zM1068.3 647.7h3.41V645.15h-3.41zM1072.15 647.7h3.41V645.15h-3.41zM1075.99 647.7h3.41V647.7h-3.41zM1079.84 647.7h3.41V645.15h-3.41zM1083.69 647.7h3.41V645.15h-3.41zM1087.53 647.7h3.41V647.7h-3.41zM1091.38 647.7h3.41V645.15h-3.41zM1095.22 647.7h3.41V642.59h-3.41zM1102.92 647.7h3.41V647.7h-3.41zM1106.76 647.7h3.41V647.7h-3.41zM1110.61 647.7h3.41V645.15h-3.41zM1114.46 647.7h3.41V646h-3.41zM1118.3 647.7h3.41V642.59h-3.41zM1122.15 647.7h3.41V632.37h-3.41zM1126 647.7h3.41V632.37h-3.41zM1129.84 647.7h3.41V634.92h-3.41zM1133.69 647.7h3.41V631.52h-3.41zM1137.54 647.7h3.41V634.92h-3.41zM1141.38 647.7h3.41V640.89h-3.41zM1145.23 647.7h3.41V645.15h-3.41zM1149.08 647.7h3.41V644.29h-3.41zM1152.92 647.7h3.41V646h-3.41zM1156.77 647.7h3.41V640.04h-3.41zM1160.62 647.7h3.41V647.7h-3.41z" fill="url(#p32)"/>
<path d="M824.72 513.02V649.32M824.72 649.32h-3.4M824.72 606.73h-3.4M824.72 564.13h-3.4M824.72 521.54h-3.4" class="ax"/>
<text x="819.82" y="652.07" class="l e">0</text>
<text x="819.82" y="609.48" class="l e">50</text>
<text x="819.82" y="566.88" class="l e">100</text>
<text x="819.82" y="524.29" class="l e">150</text>
<text transform="translate(803.86,581.17) rotate(-90)" class="t m">obs_count</text></g>
<g><path d="M1207.69 513.02V649.32M1223.63 513.02V649.32M1240.66 513.02V649.32M1257.14 513.02V649.32M1274.18 513.02V649.32M1290.66 513.02V649.32M1307.7 513.02V649.32M1324.73 513.02V649.32M1341.22 513.02V649.32M1358.25 513.02V649.32M1374.74 513.02V649.32M1391.77 513.02V649.32M1408.81 513.02V649.32M1424.19 513.02V649.32M1441.23 513.02V649.32M1457.71 513.02V649.32M1474.75 513.02V649.32M1491.23 513.02V649.32M1508.27 513.02V649.32M1525.3 513.02V649.32M1541.79 513.02V649.32M1206.09 649.32H1547.09M1206.09 615.24H1547.09M1206.09 581.17H1547.09M1206.09 547.09H1547.09M1206.09 513.02H1547.09" class="gr"/>
<path d="M1384.28 648.98h3.41V580.83h-3.41zM1388.13 648.98h3.41V580.83h-3.41zM1391.97 648.98h3.41V563.79h-3.41zM1395.82 648.98h3.41V563.79h-3.41zM1399.67 648.98h3.41V546.75h-3.41zM1403.51 648.98h3.41V563.79h-3.41zM1407.36 648.98h3.41V546.75h-3.41zM1411.2 648.98h3.41V597.87h-3.41zM1418.9 648.98h3.41V631.94h-3.41zM1422.74 648.98h3.41V631.94h-3.41zM1426.59 648.98h3.41V631.94h-3.41zM1430.44 648.98h3.41V580.83h-3.41zM1434.28 648.98h3.41V580.83h-3.41zM1438.13 648.98h3.41V631.94h-3.41zM1441.98 648.98h3.41V580.83h-3.41zM1445.82 648.98h3.41V597.87h-3.41zM1449.67 648.98h3.41V614.9h-3.41zM1453.52 648.98h3.41V614.9h-3.41zM1457.36 648.98h3.41V631.94h-3.41zM1461.21 648.98h3.41V614.9h-3.41zM1465.06 648.98h3.41V614.9h-3.41zM1472.75 648.98h3.41V597.87h-3.41zM1476.6 648.98h3.41V580.83h-3.41zM1491.98 631.94h3.41V614.9h-3.41zM1495.83 631.94h3.41V614.9h-3.41zM1499.67 648.98h3.41V580.83h-3.41zM1503.52 648.98h3.41V580.83h-3.41zM1507.37 648.98h3.41V614.9h-3.41zM1511.21 648.98h3.41V512.68h-3.41zM1515.06 648.98h3.41V631.94h-3.41zM1518.91 648.98h3.41V546.75h-3.41zM1522.75 648.98h3.41V614.9h-3.41zM1526.6 648.98h3.41V614.9h-3.41zM1530.45 648.98h3.41V597.87h-3.41zM1534.29 648.98h3.41V597.87h-3.41zM1538.14 648.98h3.41V580.83h-3.41zM1541.99 648.98h3.41V631.94h-3.41z" fill="#37b24d"/>
<path d="M1484.29 648.98h3.41V631.94h-3.41zM1488.13 648.98h3.41V631.94h-3.41zM1491.98 648.98h3.41V631.94h-3.41zM1495.83 648.98h3.41V631.94h-3.41z" fill="#fcc419"/>
<pattern id="p33" patternUnits="userSpaceOnUse" x="0" y="648.84" width="20" height="17.04"><rect width="20" height=".28" fill="#fff" fill-opacity=".36"/></pattern>
<path d="M1384.28 640.46h3.41V589.35h-3.41zM1388.13 640.46h3.41V589.35h-3.41zM1391.97 640.46h3.41V572.31h-3.41zM1395.82 640.46h3.41V572.31h-3.41zM1399.67 640.46h3.41V555.27h-3.41zM1403.51 640.46h3.41V572.31h-3.41zM1407.36 640.46h3.41V555.27h-3.41zM1411.2 640.46h3.41V606.39h-3.41zM1430.44 640.46h3.41V589.35h-3.41zM1434.28 640.46h3.41V589.35h-3.41zM1441.98 640.46h3.41V589.35h-3.41zM1445.82 640.46h3.41V606.39h-3.41zM1449.67 640.46h3.41V623.42h-3.41zM1453.52 640.46h3.41V623.42h-3.41zM1461.21 640.46h3.41V623.42h-3.41zM1465.06 640.46h3.41V623.42h-3.41zM1472.75 640.46h3.41V606.39h-3.41zM1476.6 640.46h3.41V589.35h-3.41zM1491.98 640.46h3.41V623.42h-3.41zM1495.83 640.46h3.41V623.42h-3.41zM1499.67 640.46h3.41V589.35h-3.41zM1503.52 640.46h3.41V589.35h-3.41zM1507.37 640.46h3.41V623.42h-3.41zM1511.21 640.46h3.41V521.2h-3.41zM1518.91 640.46h3.41V555.27h-3.41zM1522.75 640.46h3.41V623.42h-3.41zM1526.6 640.46h3.41V623.42h-3.41zM1530.45 640.46h3.41V606.39h-3.41zM1534.29 640.46h3.41V606.39h-3.41zM1538.14 640.46h3.41V589.35h-3.41z" fill="url(#p33)"/>
<path d="M1206.09 513.02V649.32M1206.09 649.32h-3.4M1206.09 615.24h-3.4M1206.09 581.17h-3.4M1206.09 547.09h-3.4M1206.09 513.02h-3.4" class="ax"/>
<text x="1201.19" y="652.07" class="l e">0</text>
<text x="1201.19" y="617.99" class="l e">2</text>
<text x="1201.19" y="583.92" class="l e">4</text>
<text x="1201.19" y="549.84" class="l e">6</text>
<text x="1201.19" y="515.77" class="l e">8</text>
<text transform="translate(1192.79,581.17) rotate(-90)" class="t m">obs_count</text></g>
<g><path d="M1589.06 513.02V649.32M1605 513.02V649.32M1622.03 513.02V649.32M1638.51 513.02V649.32M1655.55 513.02V649.32M1672.03 513.02V649.32M1689.07 513.02V649.32M1706.1 513.02V649.32M1722.59 513.02V649.32M1739.62 513.02V649.32M1756.11 513.02V649.32M1773.14 513.02V649.32M1790.18 513.02V649.32M1805.56 513.02V649.32M1822.6 513.02V649.32M1839.08 513.02V649.32M1856.12 513.02V649.32M1872.6 513.02V649.32M1889.64 513.02V649.32M1906.67 513.02V649.32M1923.16 513.02V649.32M1587.46 649.32H1928.46M1587.46 624.98H1928.46M1587.46 600.64H1928.46M1587.46 576.3H1928.46M1587.46 551.96H1928.46M1587.46 527.62H1928.46" class="gr"/>
<path d="M1588.71 644.11h3.41V610.04h-3.41zM1592.56 619.77h3.41V571.09h-3.41zM1596.4 629.51h3.41V610.04h-3.41zM1600.25 610.04h3.41V580.83h-3.41zM1604.1 648.98h3.41V629.51h-3.41zM1607.94 619.77h3.41V571.09h-3.41zM1611.79 639.24h3.41V619.77h-3.41zM1615.64 610.04h3.41V571.09h-3.41zM1619.48 639.24h3.41V551.62h-3.41zM1623.33 639.24h3.41V629.51h-3.41zM1634.87 648.98h3.41V639.24h-3.41zM1638.71 629.51h3.41V590.57h-3.41zM1646.41 639.24h3.41V610.04h-3.41zM1650.25 648.98h3.41V629.51h-3.41zM1654.1 648.98h3.41V629.51h-3.41zM1669.49 648.98h3.41V629.51h-3.41zM1673.33 639.24h3.41V629.51h-3.41zM1677.18 639.24h3.41V629.51h-3.41zM1681.03 629.51h3.41V610.04h-3.41zM1684.87 648.98h3.41V610.04h-3.41zM1688.72 648.98h3.41V590.57h-3.41zM1692.57 648.98h3.41V610.04h-3.41zM1696.41 648.98h3.41V512.68h-3.41zM1700.26 648.98h3.41V561.36h-3.41zM1704.11 648.98h3.41V522.42h-3.41zM1707.95 648.98h3.41V590.57h-3.41zM1711.8 639.24h3.41V571.09h-3.41zM1715.64 648.98h3.41V532.15h-3.41zM1719.49 648.98h3.41V532.15h-3.41zM1723.34 648.98h3.41V551.62h-3.41zM1727.18 648.98h3.41V551.62h-3.41zM1731.03 648.98h3.41V532.15h-3.41zM1734.88 648.98h3.41V532.15h-3.41zM1738.72 648.98h3.41V561.36h-3.41zM1742.57 648.98h3.41V512.68h-3.41zM1746.42 648.98h3.41V571.09h-3.41zM1750.26 648.98h3.41V571.09h-3.41zM1754.11 648.98h3.41V571.09h-3.41zM1757.96 648.98h3.41V610.04h-3.41zM1761.8 648.98h3.41V600.3h-3.41zM1765.65 648.98h3.41V600.3h-3.41zM1769.5 648.98h3.41V610.04h-3.41zM1773.34 648.98h3.41V600.3h-3.41zM1777.19 648.98h3.41V590.57h-3.41zM1781.04 648.98h3.41V600.3h-3.41zM1784.88 648.98h3.41V590.57h-3.41zM1788.73 648.98h3.41V600.3h-3.41zM1792.57 648.98h3.41V610.04h-3.41zM1800.27 648.98h3.41V639.24h-3.41zM1804.11 648.98h3.41V639.24h-3.41zM1807.96 648.98h3.41V639.24h-3.41zM1811.81 648.98h3.41V619.77h-3.41zM1815.65 648.98h3.41V619.77h-3.41zM1819.5 648.98h3.41V629.51h-3.41zM1823.35 648.98h3.41V610.04h-3.41zM1827.19 648.98h3.41V619.77h-3.41zM1831.04 648.98h3.41V629.51h-3.41zM1834.89 648.98h3.41V629.51h-3.41zM1838.73 648.98h3.41V639.24h-3.41zM1842.58 648.98h3.41V629.51h-3.41zM1846.43 648.98h3.41V629.51h-3.41zM1850.27 648.98h3.41V639.24h-3.41zM1854.12 639.24h3.41V619.77h-3.41zM1857.97 648.98h3.41V600.3h-3.41zM1865.66 648.98h3.41V639.24h-3.41zM1873.35 644.11h3.41V629.51h-3.41zM1877.2 648.98h3.41V629.51h-3.41zM1881.04 648.98h3.41V619.77h-3.41zM1884.89 648.98h3.41V571.09h-3.41zM1888.74 648.98h3.41V600.3h-3.41zM1892.58 648.98h3.41V590.57h-3.41zM1896.43 639.24h3.41V590.57h-3.41zM1900.28 648.98h3.41V639.24h-3.41zM1904.12 648.98h3.41V629.51h-3.41zM1907.97 648.98h3.41V629.51h-3.41zM1911.82 648.98h3.41V619.77h-3.41zM1915.66 644.11h3.41V619.77h-3.41zM1919.51 648.98h3.41V619.77h-3.41zM1923.36 648.98h3.41V639.24h-3.41z" fill="#37b24d"/>
<path d="M1638.71 648.98h3.41V629.51h-3.41zM1873.35 648.98h3.41V644.11h-3.41zM1896.43 648.98h3.41V639.24h-3.41z" fill="#ff7f0a"/>
<path d="M1588.71 648.98h3.41V644.11h-3.41zM1592.56 648.98h3.41V619.77h-3.41zM1596.4 648.98h3.41V629.51h-3.41zM1600.25 648.98h3.41V610.04h-3.41zM1607.94 648.98h3.41V619.77h-3.41zM1611.79 648.98h3.41V639.24h-3.41zM1615.64 648.98h3.41V610.04h-3.41zM1619.48 648.98h3.41V639.24h-3.41zM1623.33 648.98h3.41V639.24h-3.41zM1631.02 648.98h3.41V590.57h-3.41zM1646.41 648.98h3.41V639.24h-3.41zM1673.33 648.98h3.41V639.24h-3.41zM1677.18 648.98h3.41V639.24h-3.41z" fill="#e03131"/>
<path d="M1681.03 648.98h3.41V629.51h-3.41zM1711.8 648.98h3.41V639.24h-3.41zM1854.12 648.98h3.41V639.24h-3.41zM1915.66 648.98h3.41V644.11h-3.41z" fill="#fcc419"/>
<pattern id="p34" patternUnits="userSpaceOnUse" x="0" y="648.84" width="20" height="4.87"><rect width="20" height=".28" fill="#fff" fill-opacity=".36"/></pattern>
<path d="M1588.71 646.55h3.41V612.47h-3.41zM1592.56 646.55h3.41V573.53h-3.41zM1596.4 646.55h3.41V612.47h-3.41zM1600.25 646.55h3.41V583.26h-3.41zM1604.1 646.55h3.41V631.94h-3.41zM1607.94 646.55h3.41V573.53h-3.41zM1611.79 646.55h3.41V622.21h-3.41zM1615.64 646.55h3.41V573.53h-3.41zM1619.48 646.55h3.41V554.06h-3.41zM1623.33 646.55h3.41V631.94h-3.41zM1631.02 646.55h3.41V593h-3.41zM1634.87 646.55h3.41V641.68h-3.41zM1638.71 646.55h3.41V593h-3.41zM1646.41 646.55h3.41V612.47h-3.41zM1650.25 646.55h3.41V631.94h-3.41zM1654.1 646.55h3.41V631.94h-3.41zM1669.49 646.55h3.41V631.94h-3.41zM1673.33 646.55h3.41V631.94h-3.41zM1677.18 646.55h3.41V631.94h-3.41zM1681.03 646.55h3.41V612.47h-3.41zM1684.87 646.55h3.41V612.47h-3.41zM1688.72 646.55h3.41V593h-3.41zM1692.57 646.55h3.41V612.47h-3.41zM1696.41 646.55h3.41V515.11h-3.41zM1700.26 646.55h3.41V563.79h-3.41zM1704.11 646.55h3.41V524.85h-3.41zM1707.95 646.55h3.41V593h-3.41zM1711.8 646.55h3.41V573.53h-3.41zM1715.64 646.55h3.41V534.59h-3.41zM1719.49 646.55h3.41V534.59h-3.41zM1723.34 646.55h3.41V554.06h-3.41zM1727.18 646.55h3.41V554.06h-3.41zM1731.03 646.55h3.41V534.59h-3.41zM1734.88 646.55h3.41V534.59h-3.41zM1738.72 646.55h3.41V563.79h-3.41zM1742.57 646.55h3.41V515.11h-3.41zM1746.42 646.55h3.41V573.53h-3.41zM1750.26 646.55h3.41V573.53h-3.41zM1754.11 646.55h3.41V573.53h-3.41zM1757.96 646.55h3.41V612.47h-3.41zM1761.8 646.55h3.41V602.74h-3.41zM1765.65 646.55h3.41V602.74h-3.41zM1769.5 646.55h3.41V612.47h-3.41zM1773.34 646.55h3.41V602.74h-3.41zM1777.19 646.55h3.41V593h-3.41zM1781.04 646.55h3.41V602.74h-3.41zM1784.88 646.55h3.41V593h-3.41zM1788.73 646.55h3.41V602.74h-3.41zM1792.57 646.55h3.41V612.47h-3.41zM1800.27 646.55h3.41V641.68h-3.41zM1804.11 646.55h3.41V641.68h-3.41zM1807.96 646.55h3.41V641.68h-3.41zM1811.81 646.55h3.41V622.21h-3.41zM1815.65 646.55h3.41V622.21h-3.41zM1819.5 646.55h3.41V631.94h-3.41zM1823.35 646.55h3.41V612.47h-3.41zM1827.19 646.55h3.41V622.21h-3.41zM1831.04 646.55h3.41V631.94h-3.41zM1834.89 646.55h3.41V631.94h-3.41zM1838.73 646.55h3.41V641.68h-3.41zM1842.58 646.55h3.41V631.94h-3.41zM1846.43 646.55h3.41V631.94h-3.41zM1850.27 646.55h3.41V641.68h-3.41zM1854.12 646.55h3.41V622.21h-3.41zM1857.97 646.55h3.41V602.74h-3.41zM1865.66 646.55h3.41V641.68h-3.41zM1873.35 646.55h3.41V631.94h-3.41zM1877.2 646.55h3.41V631.94h-3.41zM1881.04 646.55h3.41V622.21h-3.41zM1884.89 646.55h3.41V573.53h-3.41zM1888.74 646.55h3.41V602.74h-3.41zM1892.58 646.55h3.41V593h-3.41zM1896.43 646.55h3.41V593h-3.41zM1900.28 646.55h3.41V641.68h-3.41zM1904.12 646.55h3.41V631.94h-3.41zM1907.97 646.55h3.41V631.94h-3.41zM1911.82 646.55h3.41V622.21h-3.41zM1915.66 646.55h3.41V622.21h-3.41zM1919.51 646.55h3.41V622.21h-3.41zM1923.36 646.55h3.41V641.68h-3.41z" fill="url(#p34)"/>
<path d="M1587.46 513.02V649.32M1587.46 649.32h-3.4M1587.46 624.98h-3.4M1587.46 600.64h-3.4M1587.46 576.3h-3.4M1587.46 551.96h-3.4M1587.46 527.62h-3.4" class="ax"/>
<text x="1582.56" y="652.07" class="l e">0</text>
<text x="1582.56" y="627.73" class="l e">5</text>
<text x="1582.56" y="603.39" class="l e">10</text>
<text x="1582.56" y="579.05" class="l e">15</text>
<text x="1582.56" y="554.71" class="l e">20</text>
<text x="1582.56" y="530.37" class="l e">25</text>
<text transform="translate(1570.38,581.17) rotate(-90)" class="t m">obs_count</text></g>
<g><path d="M63.58 670.05V806.35M79.52 670.05V806.35M96.55 670.05V806.35M113.03 670.05V806.35M130.07 670.05V806.35M146.55 670.05V806.35M163.59 670.05V806.35M180.62 670.05V806.35M197.11 670.05V806.35M214.14 670.05V806.35M230.63 670.05V806.35M247.66 670.05V806.35M264.7 670.05V806.35M280.08 670.05V806.35M297.12 670.05V806.35M313.6 670.05V806.35M330.64 670.05V806.35M347.12 670.05V806.35M364.16 670.05V806.35M381.19 670.05V806.35M397.68 670.05V806.35M61.98 806.35H402.98M61.98 783.63H402.98M61.98 760.92H402.98M61.98 738.2H402.98M61.98 715.48H402.98M61.98 692.77H402.98M61.98 670.05H402.98" class="gr"/>
<path d="M240.17 806.01h3.41V778.75h-3.41zM244.02 806.01h3.41V778.75h-3.41zM247.86 806.01h3.41V778.75h-3.41zM251.71 806.01h3.41V792.38h-3.41zM255.55 806.01h3.41V778.75h-3.41zM263.25 806.01h3.41V792.38h-3.41zM267.09 806.01h3.41V778.75h-3.41zM274.79 806.01h3.41V792.38h-3.41zM278.63 806.01h3.41V792.38h-3.41zM282.48 806.01h3.41V765.12h-3.41zM286.33 806.01h3.41V792.38h-3.41zM290.17 806.01h3.41V792.38h-3.41zM294.02 806.01h3.41V792.38h-3.41zM297.87 806.01h3.41V792.38h-3.41zM301.71 806.01h3.41V778.75h-3.41zM309.41 787.84h3.41V737.86h-3.41zM313.25 801.47h3.41V792.38h-3.41zM317.1 796.92h3.41V778.75h-3.41zM320.95 806.01h3.41V792.38h-3.41zM324.79 796.92h3.41V765.12h-3.41zM332.49 792.38h3.41V751.49h-3.41zM344.02 801.47h3.41V792.38h-3.41zM347.87 801.47h3.41V792.38h-3.41zM351.72 783.29h3.41V751.49h-3.41zM355.56 806.01h3.41V792.38h-3.41zM359.41 760.58h3.41V710.6h-3.41zM363.26 796.92h3.41V792.38h-3.41zM367.1 769.66h3.41V710.6h-3.41zM370.95 787.84h3.41V778.75h-3.41zM374.8 787.84h3.41V737.86h-3.41zM378.64 737.86h3.41V669.71h-3.41zM382.49 783.29h3.41V724.23h-3.41zM386.34 787.84h3.41V751.49h-3.41zM390.18 801.47h3.41V778.75h-3.41zM394.03 792.38h3.41V765.12h-3.41z" fill="#37b24d"/>
<path d="M309.41 801.47h3.41V787.84h-3.41zM313.25 806.01h3.41V801.47h-3.41zM317.1 806.01h3.41V796.92h-3.41zM324.79 806.01h3.41V796.92h-3.41zM332.49 801.47h3.41V792.38h-3.41zM344.02 806.01h3.41V801.47h-3.41zM347.87 806.01h3.41V801.47h-3.41zM351.72 792.38h3.41V783.29h-3.41zM359.41 774.21h3.41V760.58h-3.41zM363.26 801.47h3.41V796.92h-3.41zM367.1 792.38h3.41V769.66h-3.41zM370.95 792.38h3.41V787.84h-3.41zM374.8 801.47h3.41V787.84h-3.41zM378.64 774.21h3.41V737.86h-3.41zM382.49 801.47h3.41V783.29h-3.41zM386.34 796.92h3.41V787.84h-3.41zM390.18 806.01h3.41V801.47h-3.41zM394.03 806.01h3.41V792.38h-3.41z" fill="#ff7f0a"/>
<path d="M309.41 806.01h3.41V801.47h-3.41zM332.49 806.01h3.41V801.47h-3.41zM351.72 806.01h3.41V792.38h-3.41zM359.41 806.01h3.41V774.21h-3.41zM363.26 806.01h3.41V801.47h-3.41zM367.1 806.01h3.41V792.38h-3.41zM370.95 806.01h3.41V792.38h-3.41zM374.8 806.01h3.41V801.47h-3.41zM378.64 806.01h3.41V774.21h-3.41zM382.49 806.01h3.41V801.47h-3.41zM386.34 806.01h3.41V796.92h-3.41z" fill="#fcc419"/>
<pattern id="p40" patternUnits="userSpaceOnUse" x="0" y="805.87" width="20" height="4.54"><rect width="20" height=".28" fill="#fff" fill-opacity=".36"/></pattern>
<path d="M240.17 803.74h3.41V781.02h-3.41zM244.02 803.74h3.41V781.02h-3.41zM247.86 803.74h3.41V781.02h-3.41zM251.71 803.74h3.41V794.65h-3.41zM255.55 803.74h3.41V781.02h-3.41zM263.25 803.74h3.41V794.65h-3.41zM267.09 803.74h3.41V781.02h-3.41zM274.79 803.74h3.41V794.65h-3.41zM278.63 803.74h3.41V794.65h-3.41zM282.48 803.74h3.41V767.39h-3.41zM286.33 803.74h3.41V794.65h-3.41zM290.17 803.74h3.41V794.65h-3.41zM294.02 803.74h3.41V794.65h-3.41zM297.87 803.74h3.41V794.65h-3.41zM301.71 803.74h3.41V781.02h-3.41zM309.41 803.74h3.41V740.13h-3.41zM313.25 803.74h3.41V794.65h-3.41zM317.1 803.74h3.41V781.02h-3.41zM320.95 803.74h3.41V794.65h-3.41zM324.79 803.74h3.41V767.39h-3.41zM332.49 803.74h3.41V753.76h-3.41zM344.02 803.74h3.41V794.65h-3.41zM347.87 803.74h3.41V794.65h-3.41zM351.72 803.74h3.41V753.76h-3.41zM355.56 803.74h3.41V794.65h-3.41zM359.41 803.74h3.41V712.87h-3.41zM363.26 803.74h3.41V794.65h-3.41zM367.1 803.74h3.41V712.87h-3.41zM370.95 803.74h3.41V781.02h-3.41zM374.8 803.74h3.41V740.13h-3.41zM378.64 803.74h3.41V671.98h-3.41zM382.49 803.74h3.41V726.5h-3.41zM386.34 803.74h3.41V753.76h-3.41zM390.18 803.74h3.41V781.02h-3.41zM394.03 803.74h3.41V767.39h-3.41z" fill="url(#p40)"/>
<path d="M61.98 670.05V806.35M61.98 806.35h-3.4M61.98 783.63h-3.4M61.98 760.92h-3.4M61.98 738.2h-3.4M61.98 715.48h-3.4M61.98 692.77h-3.4M61.98 670.05h-3.4" class="ax"/>
<text x="57.08" y="809.1" class="l e">0</text>
<text x="57.08" y="786.38" class="l e">5</text>
<text x="57.08" y="763.67" class="l e">10</text>
<text x="57.08" y="740.95" class="l e">15</text>
<text x="57.08" y="718.23" class="l e">20</text>
<text x="57.08" y="695.52" class="l e">25</text>
<text x="57.08" y="672.8" class="l e">30</text>
<text transform="translate(44.9,738.2) rotate(-90)" class="t m">obs_count</text></g>
<g><path d="M444.95 670.05V806.35M460.89 670.05V806.35M477.92 670.05V806.35M494.41 670.05V806.35M511.44 670.05V806.35M527.92 670.05V806.35M544.96 670.05V806.35M561.99 670.05V806.35M578.48 670.05V806.35M595.51 670.05V806.35M612 670.05V806.35M629.03 670.05V806.35M646.07 670.05V806.35M661.45 670.05V806.35M678.49 670.05V806.35M694.97 670.05V806.35M712.01 670.05V806.35M728.49 670.05V806.35M745.53 670.05V806.35M762.56 670.05V806.35M779.05 670.05V806.35M443.35 806.35H784.35M443.35 772.27H784.35M443.35 738.2H784.35M443.35 704.12H784.35M443.35 670.05H784.35" class="gr"/>
<path d="M621.54 806.01h3.41V778.75h-3.41zM625.39 806.01h3.41V792.38h-3.41zM629.23 806.01h3.41V778.75h-3.41zM633.08 806.01h3.41V792.38h-3.41zM636.92 806.01h3.41V778.75h-3.41zM644.62 806.01h3.41V792.38h-3.41zM648.46 806.01h3.41V778.75h-3.41zM656.16 806.01h3.41V792.38h-3.41zM660 806.01h3.41V792.38h-3.41zM663.85 806.01h3.41V778.75h-3.41zM667.7 806.01h3.41V792.38h-3.41zM671.54 806.01h3.41V792.38h-3.41zM675.39 806.01h3.41V792.38h-3.41zM683.08 806.01h3.41V778.75h-3.41zM690.78 806.01h3.41V737.86h-3.41zM694.62 806.01h3.41V792.38h-3.41zM698.47 806.01h3.41V778.75h-3.41zM702.32 806.01h3.41V792.38h-3.41zM706.16 806.01h3.41V778.75h-3.41zM710.01 806.01h3.41V792.38h-3.41zM713.86 806.01h3.41V765.12h-3.41zM717.7 806.01h3.41V792.38h-3.41zM725.39 806.01h3.41V792.38h-3.41zM729.24 806.01h3.41V792.38h-3.41zM733.09 806.01h3.41V792.38h-3.41zM736.93 806.01h3.41V765.12h-3.41zM740.78 806.01h3.41V710.6h-3.41zM744.63 806.01h3.41V751.49h-3.41zM748.47 806.01h3.41V751.49h-3.41zM752.32 806.01h3.41V751.49h-3.41zM760.01 806.01h3.41V669.71h-3.41zM763.86 806.01h3.41V724.23h-3.41zM767.71 806.01h3.41V751.49h-3.41zM771.55 806.01h3.41V778.75h-3.41zM775.4 799.19h3.41V778.75h-3.41z" fill="#37b24d"/>
<path d="M679.24 806.01h3.41V792.38h-3.41zM775.4 806.01h3.41V799.19h-3.41z" fill="#ff7f0a"/>
<pattern id="p41" patternUnits="userSpaceOnUse" x="0" y="805.87" width="20" height="3.41"><rect width="20" height=".28" fill="#fff" fill-opacity=".36"/></pattern>
<path d="M621.54 804.31h3.41V780.45h-3.41zM625.39 804.31h3.41V794.08h-3.41zM629.23 804.31h3.41V780.45h-3.41zM633.08 804.31h3.41V794.08h-3.41zM636.92 804.31h3.41V780.45h-3.41zM644.62 804.31h3.41V794.08h-3.41zM648.46 804.31h3.41V780.45h-3.41zM656.16 804.31h3.41V794.08h-3.41zM660 804.31h3.41V794.08h-3.41zM663.85 804.31h3.41V780.45h-3.41zM667.7 804.31h3.41V794.08h-3.41zM671.54 804.31h3.41V794.08h-3.41zM675.39 804.31h3.41V794.08h-3.41zM679.24 804.31h3.41V794.08h-3.41zM683.08 804.31h3.41V780.45h-3.41zM690.78 804.31h3.41V739.56h-3.41zM694.62 804.31h3.41V794.08h-3.41zM698.47 804.31h3.41V780.45h-3.41zM702.32 804.31h3.41V794.08h-3.41zM706.16 804.31h3.41V780.45h-3.41zM710.01 804.31h3.41V794.08h-3.41zM713.86 804.31h3.41V766.82h-3.41zM717.7 804.31h3.41V794.08h-3.41zM725.39 804.31h3.41V794.08h-3.41zM729.24 804.31h3.41V794.08h-3.41zM733.09 804.31h3.41V794.08h-3.41zM736.93 804.31h3.41V766.82h-3.41zM740.78 804.31h3.41V712.3h-3.41zM744.63 804.31h3.41V753.19h-3.41zM748.47 804.31h3.41V753.19h-3.41zM752.32 804.31h3.41V753.19h-3.41zM760.01 804.31h3.41V671.41h-3.41zM763.86 804.31h3.41V725.93h-3.41zM767.71 804.31h3.41V753.19h-3.41zM771.55 804.31h3.41V780.45h-3.41zM775.4 804.31h3.41V780.45h-3.41z" fill="url(#p41)"/>
<path d="M443.35 670.05V806.35M443.35 806.35h-3.4M443.35 772.27h-3.4M443.35 738.2h-3.4M443.35 704.12h-3.4M443.35 670.05h-3.4" class="ax"/>
<text x="438.45" y="809.1" class="l e">0</text>
<text x="438.45" y="775.02" class="l e">10</text>
<text x="438.45" y="740.95" class="l e">20</text>
<text x="438.45" y="706.87" class="l e">30</text>
<text x="438.45" y="672.8" class="l e">40</text>
<text transform="translate(426.27,738.2) rotate(-90)" class="t m">obs_count</text></g>
<g><path d="M826.32 670.05V806.35M842.26 670.05V806.35M859.29 670.05V806.35M875.78 670.05V806.35M892.81 670.05V806.35M909.29 670.05V806.35M926.33 670.05V806.35M943.36 670.05V806.35M959.85 670.05V806.35M976.88 670.05V806.35M993.37 670.05V806.35M1010.4 670.05V806.35M1027.44 670.05V806.35M1042.82 670.05V806.35M1059.86 670.05V806.35M1076.34 670.05V806.35M1093.38 670.05V806.35M1109.86 670.05V806.35M1126.9 670.05V806.35M1143.93 670.05V806.35M1160.42 670.05V806.35M824.72 806.35H1165.72M824.72 781.57H1165.72M824.72 756.79H1165.72M824.72 732H1165.72M824.72 707.22H1165.72M824.72 682.44H1165.72" class="gr"/>
<path d="M829.82 806.01h3.41V776.27h-3.41zM833.66 806.01h3.41V776.27h-3.41zM837.51 806.01h3.41V776.27h-3.41zM841.36 806.01h3.41V776.27h-3.41zM845.2 806.01h3.41V791.14h-3.41zM852.9 806.01h3.41V791.14h-3.41zM860.59 806.01h3.41V791.14h-3.41zM868.28 806.01h3.41V791.14h-3.41zM872.13 806.01h3.41V791.14h-3.41zM875.97 806.01h3.41V791.14h-3.41zM879.82 806.01h3.41V776.27h-3.41zM887.51 806.01h3.41V776.27h-3.41zM891.36 806.01h3.41V798.58h-3.41zM899.05 806.01h3.41V791.14h-3.41zM902.9 806.01h3.41V791.14h-3.41zM910.59 806.01h3.41V791.14h-3.41zM914.44 806.01h3.41V791.14h-3.41zM918.29 806.01h3.41V731.66h-3.41zM922.13 806.01h3.41V731.66h-3.41zM925.98 806.01h3.41V672.19h-3.41zM929.83 806.01h3.41V716.8h-3.41zM933.67 806.01h3.41V687.06h-3.41zM937.52 806.01h3.41V716.8h-3.41zM941.37 806.01h3.41V791.14h-3.41zM945.21 806.01h3.41V791.14h-3.41zM952.9 806.01h3.41V776.27h-3.41zM960.6 806.01h3.41V798.58h-3.41zM964.44 806.01h3.41V791.14h-3.41zM968.29 806.01h3.41V746.53h-3.41zM975.98 806.01h3.41V791.14h-3.41zM979.83 806.01h3.41V776.27h-3.41zM983.68 806.01h3.41V761.4h-3.41zM987.52 806.01h3.41V741.58h-3.41zM995.22 806.01h3.41V796.1h-3.41zM999.06 806.01h3.41V796.1h-3.41zM1002.91 806.01h3.41V796.1h-3.41zM1006.76 806.01h3.41V801.05h-3.41zM1010.6 806.01h3.41V791.14h-3.41zM1014.45 806.01h3.41V798.58h-3.41zM1018.3 806.01h3.41V791.14h-3.41zM1025.99 806.01h3.41V798.58h-3.41zM1029.83 806.01h3.41V791.14h-3.41zM1037.53 806.01h3.41V798.58h-3.41zM1041.37 806.01h3.41V801.05h-3.41zM1045.22 806.01h3.41V791.14h-3.41zM1049.07 806.01h3.41V801.05h-3.41zM1052.91 806.01h3.41V801.05h-3.41zM1056.76 806.01h3.41V798.58h-3.41zM1060.61 806.01h3.41V798.58h-3.41zM1064.45 803.53h3.41V796.1h-3.41zM1072.15 803.53h3.41V778.75h-3.41zM1075.99 806.01h3.41V798.58h-3.41zM1079.84 803.53h3.41V796.1h-3.41zM1083.69 806.01h3.41V798.58h-3.41zM1087.53 806.01h3.41V791.14h-3.41zM1091.38 806.01h3.41V798.58h-3.41zM1095.22 806.01h3.41V783.71h-3.41zM1099.07 806.01h3.41V798.58h-3.41zM1106.76 806.01h3.41V798.58h-3.41zM1110.61 806.01h3.41V801.05h-3.41zM1114.46 806.01h3.41V796.1h-3.41zM1118.3 806.01h3.41V791.14h-3.41zM1122.15 806.01h3.41V761.4h-3.41zM1126 806.01h3.41V781.23h-3.41zM1129.84 806.01h3.41V778.75h-3.41zM1133.69 806.01h3.41V786.18h-3.41zM1141.38 806.01h3.41V756.45h-3.41zM1145.23 801.05h3.41V771.32h-3.41zM1149.08 796.1h3.41V786.18h-3.41zM1152.92 803.53h3.41V793.62h-3.41zM1156.77 803.53h3.41V786.18h-3.41z" fill="#37b24d"/>
<path d="M1064.45 806.01h3.41V803.53h-3.41zM1072.15 806.01h3.41V803.53h-3.41zM1079.84 806.01h3.41V803.53h-3.41zM1145.23 806.01h3.41V801.05h-3.41zM1149.08 806.01h3.41V796.1h-3.41zM1152.92 806.01h3.41V803.53h-3.41zM1156.77 806.01h3.41V803.53h-3.41z" fill="#ff7f0a"/>
<pattern id="p42" patternUnits="userSpaceOnUse" x="0" y="805.87" width="20" height="2.48"><rect width="20" height=".28" fill="#fff" fill-opacity=".36"/></pattern>
<path d="M829.82 804.77h3.41V777.51h-3.41zM833.66 804.77h3.41V777.51h-3.41zM837.51 804.77h3.41V777.51h-3.41zM841.36 804.77h3.41V777.51h-3.41zM845.2 804.77h3.41V792.38h-3.41zM852.9 804.77h3.41V792.38h-3.41zM860.59 804.77h3.41V792.38h-3.41zM868.28 804.77h3.41V792.38h-3.41zM872.13 804.77h3.41V792.38h-3.41zM875.97 804.77h3.41V792.38h-3.41zM879.82 804.77h3.41V777.51h-3.41zM887.51 804.77h3.41V777.51h-3.41zM891.36 804.77h3.41V799.81h-3.41zM899.05 804.77h3.41V792.38h-3.41zM902.9 804.77h3.41V792.38h-3.41zM910.59 804.77h3.41V792.38h-3.41zM914.44 804.77h3.41V792.38h-3.41zM918.29 804.77h3.41V732.9h-3.41zM922.13 804.77h3.41V732.9h-3.41zM925.98 804.77h3.41V673.43h-3.41zM929.83 804.77h3.41V718.03h-3.41zM933.67 804.77h3.41V688.3h-3.41zM937.52 804.77h3.41V718.03h-3.41zM941.37 804.77h3.41V792.38h-3.41zM945.21 804.77h3.41V792.38h-3.41zM952.9 804.77h3.41V777.51h-3.41zM960.6 804.77h3.41V799.81h-3.41zM964.44 804.77h3.41V792.38h-3.41zM968.29 804.77h3.41V747.77h-3.41zM975.98 804.77h3.41V792.38h-3.41zM979.83 804.77h3.41V777.51h-3.41zM983.68 804.77h3.41V762.64h-3.41zM987.52 804.77h3.41V742.82h-3.41zM995.22 804.77h3.41V797.34h-3.41zM999.06 804.77h3.41V797.34h-3.41zM1002.91 804.77h3.41V797.34h-3.41zM1006.76 804.77h3.41V802.29h-3.41zM1010.6 804.77h3.41V792.38h-3.41zM1014.45 804.77h3.41V799.81h-3.41zM1018.3 804.77h3.41V792.38h-3.41zM1025.99 804.77h3.41V799.81h-3.41zM1029.83 804.77h3.41V792.38h-3.41zM1037.53 804.77h3.41V799.81h-3.41zM1041.37 804.77h3.41V802.29h-3.41zM1045.22 804.77h3.41V792.38h-3.41zM1049.07 804.77h3.41V802.29h-3.41zM1052.91 804.77h3.41V802.29h-3.41zM1056.76 804.77h3.41V799.81h-3.41zM1060.61 804.77h3.41V799.81h-3.41zM1064.45 804.77h3.41V797.34h-3.41zM1072.15 804.77h3.41V779.99h-3.41zM1075.99 804.77h3.41V799.81h-3.41zM1079.84 804.77h3.41V797.34h-3.41zM1083.69 804.77h3.41V799.81h-3.41zM1087.53 804.77h3.41V792.38h-3.41zM1091.38 804.77h3.41V799.81h-3.41zM1095.22 804.77h3.41V784.95h-3.41zM1099.07 804.77h3.41V799.81h-3.41zM1106.76 804.77h3.41V799.81h-3.41zM1110.61 804.77h3.41V802.29h-3.41zM1114.46 804.77h3.41V797.34h-3.41zM1118.3 804.77h3.41V792.38h-3.41zM1122.15 804.77h3.41V762.64h-3.41zM1126 804.77h3.41V782.47h-3.41zM1129.84 804.77h3.41V779.99h-3.41zM1133.69 804.77h3.41V787.42h-3.41zM1141.38 804.77h3.41V757.69h-3.41zM1145.23 804.77h3.41V772.55h-3.41zM1149.08 804.77h3.41V787.42h-3.41zM1152.92 804.77h3.41V794.86h-3.41zM1156.77 804.77h3.41V787.42h-3.41z" fill="url(#p42)"/>
<path d="M824.72 670.05V806.35M824.72 806.35h-3.4M824.72 781.57h-3.4M824.72 756.79h-3.4M824.72 732h-3.4M824.72 707.22h-3.4M824.72 682.44h-3.4" class="ax"/>
<text x="819.82" y="809.1" class="l e">0</text>
<text x="819.82" y="784.32" class="l e">10</text>
<text x="819.82" y="759.54" class="l e">20</text>
<text x="819.82" y="734.75" class="l e">30</text>
<text x="819.82" y="709.97" class="l e">40</text>
<text x="819.82" y="685.19" class="l e">50</text>
<text transform="translate(807.64,738.2) rotate(-90)" class="t m">obs_count</text></g>
<g><path d="M1207.69 670.05V806.35M1223.63 670.05V806.35M1240.66 670.05V806.35M1257.14 670.05V806.35M1274.18 670.05V806.35M1290.66 670.05V806.35M1307.7 670.05V806.35M1324.73 670.05V806.35M1341.22 670.05V806.35M1358.25 670.05V806.35M1374.74 670.05V806.35M1391.77 670.05V806.35M1408.81 670.05V806.35M1424.19 670.05V806.35M1441.23 670.05V806.35M1457.71 670.05V806.35M1474.75 670.05V806.35M1491.23 670.05V806.35M1508.27 670.05V806.35M1525.3 670.05V806.35M1541.79 670.05V806.35M1206.09 806.35H1547.09M1206.09 772.27H1547.09M1206.09 738.2H1547.09M1206.09 704.12H1547.09M1206.09 670.05H1547.09" class="gr"/>
<path d="M1384.28 806.01h3.41V771.93h-3.41zM1388.13 806.01h3.41V788.97h-3.41zM1391.97 806.01h3.41V771.93h-3.41zM1395.82 806.01h3.41V788.97h-3.41zM1399.67 806.01h3.41V788.97h-3.41zM1403.51 806.01h3.41V788.97h-3.41zM1407.36 806.01h3.41V771.93h-3.41zM1411.2 806.01h3.41V771.93h-3.41zM1418.9 806.01h3.41V788.97h-3.41zM1426.59 806.01h3.41V771.93h-3.41zM1434.28 806.01h3.41V788.97h-3.41zM1438.13 806.01h3.41V788.97h-3.41zM1441.98 806.01h3.41V788.97h-3.41zM1445.82 806.01h3.41V788.97h-3.41zM1449.67 806.01h3.41V771.93h-3.41zM1453.52 806.01h3.41V771.93h-3.41zM1457.36 806.01h3.41V720.82h-3.41zM1465.06 806.01h3.41V788.97h-3.41zM1468.9 806.01h3.41V788.97h-3.41zM1472.75 806.01h3.41V754.9h-3.41zM1476.6 806.01h3.41V754.9h-3.41zM1480.44 806.01h3.41V788.97h-3.41zM1488.13 806.01h3.41V788.97h-3.41zM1491.98 806.01h3.41V788.97h-3.41zM1495.83 806.01h3.41V788.97h-3.41zM1499.67 806.01h3.41V754.9h-3.41zM1503.52 806.01h3.41V703.78h-3.41zM1507.37 806.01h3.41V788.97h-3.41zM1511.21 806.01h3.41V720.82h-3.41zM1515.06 806.01h3.41V771.93h-3.41zM1518.91 806.01h3.41V771.93h-3.41zM1522.75 806.01h3.41V669.71h-3.41zM1526.6 806.01h3.41V703.78h-3.41zM1530.45 806.01h3.41V720.82h-3.41zM1534.29 806.01h3.41V737.86h-3.41zM1538.14 806.01h3.41V754.9h-3.41z" fill="#37b24d"/>
<pattern id="p43" patternUnits="userSpaceOnUse" x="0" y="805.87" width="20" height="17.04"><rect width="20" height=".28" fill="#fff" fill-opacity=".36"/></pattern>
<path d="M1384.28 797.49h3.41V780.45h-3.41zM1391.97 797.49h3.41V780.45h-3.41zM1407.36 797.49h3.41V780.45h-3.41zM1411.2 797.49h3.41V780.45h-3.41zM1426.59 797.49h3.41V780.45h-3.41zM1449.67 797.49h3.41V780.45h-3.41zM1453.52 797.49h3.41V780.45h-3.41zM1457.36 797.49h3.41V729.34h-3.41zM1472.75 797.49h3.41V763.42h-3.41zM1476.6 797.49h3.41V763.42h-3.41zM1499.67 797.49h3.41V763.42h-3.41zM1503.52 797.49h3.41V712.3h-3.41zM1511.21 797.49h3.41V729.34h-3.41zM1515.06 797.49h3.41V780.45h-3.41zM1518.91 797.49h3.41V780.45h-3.41zM1522.75 797.49h3.41V678.23h-3.41zM1526.6 797.49h3.41V712.3h-3.41zM1530.45 797.49h3.41V729.34h-3.41zM1534.29 797.49h3.41V746.38h-3.41zM1538.14 797.49h3.41V763.42h-3.41z" fill="url(#p43)"/>
<path d="M1206.09 670.05V806.35M1206.09 806.35h-3.4M1206.09 772.27h-3.4M1206.09 738.2h-3.4M1206.09 704.12h-3.4M1206.09 670.05h-3.4" class="ax"/>
<text x="1201.19" y="809.1" class="l e">0</text>
<text x="1201.19" y="775.02" class="l e">2</text>
<text x="1201.19" y="740.95" class="l e">4</text>
<text x="1201.19" y="706.87" class="l e">6</text>
<text x="1201.19" y="672.8" class="l e">8</text>
<text transform="translate(1192.79,738.2) rotate(-90)" class="t m">obs_count</text></g>
<g><path d="M1589.06 670.05V806.35M1605 670.05V806.35M1622.03 670.05V806.35M1638.51 670.05V806.35M1655.55 670.05V806.35M1672.03 670.05V806.35M1689.07 670.05V806.35M1706.1 670.05V806.35M1722.59 670.05V806.35M1739.62 670.05V806.35M1756.11 670.05V806.35M1773.14 670.05V806.35M1790.18 670.05V806.35M1805.56 670.05V806.35M1822.6 670.05V806.35M1839.08 670.05V806.35M1856.12 670.05V806.35M1872.6 670.05V806.35M1889.64 670.05V806.35M1906.67 670.05V806.35M1923.16 670.05V806.35M1587.46 806.35H1928.46M1587.46 772.27H1928.46M1587.46 738.2H1928.46M1587.46 704.12H1928.46M1587.46 670.05H1928.46" class="gr"/>
<path d="M1588.71 806.01h3.41V792.38h-3.41zM1592.56 806.01h3.41V792.38h-3.41zM1596.4 799.19h3.41V778.75h-3.41zM1600.25 799.19h3.41V778.75h-3.41zM1604.1 799.19h3.41V778.75h-3.41zM1607.94 806.01h3.41V792.38h-3.41zM1615.64 806.01h3.41V792.38h-3.41zM1623.33 806.01h3.41V792.38h-3.41zM1634.87 799.19h3.41V792.38h-3.41zM1642.56 792.38h3.41V778.75h-3.41zM1650.25 799.19h3.41V778.75h-3.41zM1665.64 785.56h3.41V778.75h-3.41zM1673.33 792.38h3.41V778.75h-3.41zM1681.03 778.75h3.41V724.23h-3.41zM1684.87 806.01h3.41V737.86h-3.41zM1688.72 806.01h3.41V683.34h-3.41zM1692.57 806.01h3.41V737.86h-3.41zM1696.41 806.01h3.41V696.97h-3.41zM1700.26 806.01h3.41V724.23h-3.41zM1704.11 806.01h3.41V792.38h-3.41zM1707.95 806.01h3.41V792.38h-3.41zM1715.64 806.01h3.41V778.75h-3.41zM1723.34 806.01h3.41V792.38h-3.41zM1727.18 806.01h3.41V792.38h-3.41zM1731.03 806.01h3.41V751.49h-3.41zM1738.72 806.01h3.41V792.38h-3.41zM1742.57 806.01h3.41V778.75h-3.41zM1746.42 806.01h3.41V765.12h-3.41zM1750.26 806.01h3.41V765.12h-3.41zM1757.96 806.01h3.41V792.38h-3.41zM1761.8 806.01h3.41V792.38h-3.41zM1765.65 806.01h3.41V792.38h-3.41zM1769.5 806.01h3.41V799.19h-3.41zM1773.34 806.01h3.41V792.38h-3.41zM1777.19 806.01h3.41V799.19h-3.41zM1781.04 806.01h3.41V799.19h-3.41zM1784.88 806.01h3.41V799.19h-3.41zM1788.73 806.01h3.41V799.19h-3.41zM1792.57 806.01h3.41V792.38h-3.41zM1800.27 806.01h3.41V799.19h-3.41zM1804.11 806.01h3.41V802.6h-3.41zM1807.96 806.01h3.41V785.56h-3.41zM1815.65 806.01h3.41V799.19h-3.41zM1819.5 806.01h3.41V799.19h-3.41zM1823.35 806.01h3.41V799.19h-3.41zM1827.19 806.01h3.41V799.19h-3.41zM1831.04 806.01h3.41V785.56h-3.41zM1834.89 806.01h3.41V792.38h-3.41zM1838.73 806.01h3.41V792.38h-3.41zM1846.43 806.01h3.41V799.19h-3.41zM1850.27 806.01h3.41V731.04h-3.41zM1854.12 806.01h3.41V785.56h-3.41zM1857.97 806.01h3.41V785.56h-3.41zM1861.81 806.01h3.41V799.19h-3.41zM1869.5 806.01h3.41V799.19h-3.41zM1873.35 806.01h3.41V799.19h-3.41zM1877.2 802.6h3.41V799.19h-3.41zM1881.04 806.01h3.41V785.56h-3.41zM1884.89 806.01h3.41V765.12h-3.41zM1888.74 806.01h3.41V799.19h-3.41zM1892.58 806.01h3.41V765.12h-3.41zM1896.43 806.01h3.41V785.56h-3.41zM1904.12 806.01h3.41V744.67h-3.41zM1907.97 806.01h3.41V765.12h-3.41zM1911.82 806.01h3.41V771.93h-3.41zM1915.66 806.01h3.41V778.75h-3.41zM1919.51 806.01h3.41V785.56h-3.41z" fill="#37b24d"/>
<path d="M1877.2 806.01h3.41V802.6h-3.41z" fill="#ff7f0a"/>
<path d="M1596.4 806.01h3.41V799.19h-3.41zM1600.25 806.01h3.41V799.19h-3.41zM1604.1 806.01h3.41V799.19h-3.41zM1631.02 806.01h3.41V751.49h-3.41zM1634.87 806.01h3.41V799.19h-3.41zM1642.56 806.01h3.41V792.38h-3.41zM1650.25 806.01h3.41V799.19h-3.41zM1665.64 806.01h3.41V785.56h-3.41zM1673.33 806.01h3.41V792.38h-3.41zM1681.03 806.01h3.41V778.75h-3.41z" fill="#e03131"/>
<pattern id="p44" patternUnits="userSpaceOnUse" x="0" y="805.87" width="20" height="3.41"><rect width="20" height=".28" fill="#fff" fill-opacity=".36"/></pattern>
<path d="M1588.71 804.31h3.41V794.08h-3.41zM1592.56 804.31h3.41V794.08h-3.41zM1596.4 804.31h3.41V780.45h-3.41zM1600.25 804.31h3.41V780.45h-3.41zM1604.1 804.31h3.41V780.45h-3.41zM1607.94 804.31h3.41V794.08h-3.41zM1615.64 804.31h3.41V794.08h-3.41zM1623.33 804.31h3.41V794.08h-3.41zM1631.02 804.31h3.41V753.19h-3.41zM1634.87 804.31h3.41V794.08h-3.41zM1642.56 804.31h3.41V780.45h-3.41zM1650.25 804.31h3.41V780.45h-3.41zM1665.64 804.31h3.41V780.45h-3.41zM1673.33 804.31h3.41V780.45h-3.41zM1681.03 804.31h3.41V725.93h-3.41zM1684.87 804.31h3.41V739.56h-3.41zM1688.72 804.31h3.41V685.04h-3.41zM1692.57 804.31h3.41V739.56h-3.41zM1696.41 804.31h3.41V698.67h-3.41zM1700.26 804.31h3.41V725.93h-3.41zM1704.11 804.31h3.41V794.08h-3.41zM1707.95 804.31h3.41V794.08h-3.41zM1715.64 804.31h3.41V780.45h-3.41zM1723.34 804.31h3.41V794.08h-3.41zM1727.18 804.31h3.41V794.08h-3.41zM1731.03 804.31h3.41V753.19h-3.41zM1738.72 804.31h3.41V794.08h-3.41zM1742.57 804.31h3.41V780.45h-3.41zM1746.42 804.31h3.41V766.82h-3.41zM1750.26 804.31h3.41V766.82h-3.41zM1757.96 804.31h3.41V794.08h-3.41zM1761.8 804.31h3.41V794.08h-3.41zM1765.65 804.31h3.41V794.08h-3.41zM1769.5 804.31h3.41V800.9h-3.41zM1773.34 804.31h3.41V794.08h-3.41zM1777.19 804.31h3.41V800.9h-3.41zM1781.04 804.31h3.41V800.9h-3.41zM1784.88 804.31h3.41V800.9h-3.41zM1788.73 804.31h3.41V800.9h-3.41zM1792.57 804.31h3.41V794.08h-3.41zM1800.27 804.31h3.41V800.9h-3.41zM1807.96 804.31h3.41V787.27h-3.41zM1815.65 804.31h3.41V800.9h-3.41zM1819.5 804.31h3.41V800.9h-3.41zM1823.35 804.31h3.41V800.9h-3.41zM1827.19 804.31h3.41V800.9h-3.41zM1831.04 804.31h3.41V787.27h-3.41zM1834.89 804.31h3.41V794.08h-3.41zM1838.73 804.31h3.41V794.08h-3.41zM1846.43 804.31h3.41V800.9h-3.41zM1850.27 804.31h3.41V732.75h-3.41zM1854.12 804.31h3.41V787.27h-3.41zM1857.97 804.31h3.41V787.27h-3.41zM1861.81 804.31h3.41V800.9h-3.41zM1869.5 804.31h3.41V800.9h-3.41zM1873.35 804.31h3.41V800.9h-3.41zM1877.2 804.31h3.41V800.9h-3.41zM1881.04 804.31h3.41V787.27h-3.41zM1884.89 804.31h3.41V766.82h-3.41zM1888.74 804.31h3.41V800.9h-3.41zM1892.58 804.31h3.41V766.82h-3.41zM1896.43 804.31h3.41V787.27h-3.41zM1904.12 804.31h3.41V746.38h-3.41zM1907.97 804.31h3.41V766.82h-3.41zM1911.82 804.31h3.41V773.64h-3.41zM1915.66 804.31h3.41V780.45h-3.41zM1919.51 804.31h3.41V787.27h-3.41z" fill="url(#p44)"/>
<path d="M1587.46 670.05V806.35M1587.46 806.35h-3.4M1587.46 772.27h-3.4M1587.46 738.2h-3.4M1587.46 704.12h-3.4M1587.46 670.05h-3.4" class="ax"/>
<text x="1582.56" y="809.1" class="l e">0</text>
<text x="1582.56" y="775.02" class="l e">10</text>
<text x="1582.56" y="740.95" class="l e">20</text>
<text x="1582.56" y="706.87" class="l e">30</text>
<text x="1582.56" y="672.8" class="l e">40</text>
<text transform="translate(1570.38,738.2) rotate(-90)" class="t m">obs_count</text></g>
<g><path d="M63.58 827.08V963.38M79.52 827.08V963.38M96.55 827.08V963.38M113.03 827.08V963.38M130.07 827.08V963.38M146.55 827.08V963.38M163.59 827.08V963.38M180.62 827.08V963.38M197.11 827.08V963.38M214.14 827.08V963.38M230.63 827.08V963.38M247.66 827.08V963.38M264.7 827.08V963.38M280.08 827.08V963.38M297.12 827.08V963.38M313.6 827.08V963.38M330.64 827.08V963.38M347.12 827.08V963.38M364.16 827.08V963.38M381.19 827.08V963.38M397.68 827.08V963.38M61.98 963.38H402.98M61.98 940.66H402.98M61.98 917.95H402.98M61.98 895.23H402.98M61.98 872.51H402.98M61.98 849.8H402.98M61.98 827.08H402.98" class="gr"/>
<path d="M240.17 963.04h3.41V894.89h-3.41zM247.86 963.04h3.41V928.96h-3.41zM255.55 963.04h3.41V928.96h-3.41zM263.25 963.04h3.41V928.96h-3.41zM267.09 963.04h3.41V928.96h-3.41zM282.48 963.04h3.41V928.96h-3.41zM297.87 963.04h3.41V928.96h-3.41zM309.41 951.68h3.41V928.96h-3.41zM332.49 963.04h3.41V928.96h-3.41zM367.1 917.61h3.41V826.74h-3.41zM382.49 951.68h3.41V928.96h-3.41z" fill="#37b24d"/>
<path d="M309.41 963.04h3.41V951.68h-3.41zM367.1 963.04h3.41V917.61h-3.41z" fill="#ff7f0a"/>
<path d="M382.49 963.04h3.41V951.68h-3.41z" fill="#fcc419"/>
<pattern id="p50" patternUnits="userSpaceOnUse" x="0" y="962.9" width="20" height="11.36"><rect width="20" height=".28" fill="#fff" fill-opacity=".36"/></pattern>
<path d="M240.17 957.36h3.41V900.57h-3.41zM247.86 957.36h3.41V934.64h-3.41zM255.55 957.36h3.41V934.64h-3.41zM263.25 957.36h3.41V934.64h-3.41zM267.09 957.36h3.41V934.64h-3.41zM282.48 957.36h3.41V934.64h-3.41zM297.87 957.36h3.41V934.64h-3.41zM309.41 957.36h3.41V934.64h-3.41zM332.49 957.36h3.41V934.64h-3.41zM367.1 957.36h3.41V832.42h-3.41zM382.49 957.36h3.41V934.64h-3.41z" fill="url(#p50)"/>
<path d="M61.98 827.08V963.38M61.98 963.38h-3.4M61.98 940.66h-3.4M61.98 917.95h-3.4M61.98 895.23h-3.4M61.98 872.51h-3.4M61.98 849.8h-3.4M61.98 827.08h-3.4" class="ax"/>
<text x="57.08" y="966.13" class="l e">0</text>
<text x="57.08" y="943.41" class="l e">2</text>
<text x="57.08" y="920.7" class="l e">4</text>
<text x="57.08" y="897.98" class="l e">6</text>
<text x="57.08" y="875.26" class="l e">8</text>
<text x="57.08" y="852.55" class="l e">10</text>
<text x="57.08" y="829.83" class="l e">12</text>
<text transform="translate(44.9,895.23) rotate(-90)" class="t m">obs_count</text></g>
<g><path d="M444.95 827.08V963.38M460.89 827.08V963.38M477.92 827.08V963.38M494.41 827.08V963.38M511.44 827.08V963.38M527.92 827.08V963.38M544.96 827.08V963.38M561.99 827.08V963.38M578.48 827.08V963.38M595.51 827.08V963.38M612 827.08V963.38M629.03 827.08V963.38M646.07 827.08V963.38M661.45 827.08V963.38M678.49 827.08V963.38M694.97 827.08V963.38M712.01 827.08V963.38M728.49 827.08V963.38M745.53 827.08V963.38M762.56 827.08V963.38M779.05 827.08V963.38M443.35 963.38H784.35M443.35 929.3H784.35M443.35 895.23H784.35M443.35 861.15H784.35M443.35 827.08H784.35" class="gr"/>
<path d="M621.54 963.04h3.41V894.89h-3.41zM629.23 963.04h3.41V894.89h-3.41zM636.92 963.04h3.41V894.89h-3.41zM644.62 963.04h3.41V894.89h-3.41zM648.46 963.04h3.41V894.89h-3.41zM663.85 963.04h3.41V894.89h-3.41zM679.24 963.04h3.41V826.74h-3.41zM690.78 963.04h3.41V894.89h-3.41zM713.86 963.04h3.41V894.89h-3.41zM748.47 963.04h3.41V826.74h-3.41zM763.86 963.04h3.41V894.89h-3.41z" fill="#37b24d"/>
<pattern id="p51" patternUnits="userSpaceOnUse" x="0" y="962.9" width="20" height="17.04"><rect width="20" height=".28" fill="#fff" fill-opacity=".36"/></pattern>
<path d="M621.54 954.52h3.41V903.41h-3.41zM629.23 954.52h3.41V903.41h-3.41zM636.92 954.52h3.41V903.41h-3.41zM644.62 954.52h3.41V903.41h-3.41zM648.46 954.52h3.41V903.41h-3.41zM663.85 954.52h3.41V903.41h-3.41zM679.24 954.52h3.41V835.26h-3.41zM690.78 954.52h3.41V903.41h-3.41zM713.86 954.52h3.41V903.41h-3.41zM748.47 954.52h3.41V835.26h-3.41zM763.86 954.52h3.41V903.41h-3.41z" fill="url(#p51)"/>
<path d="M443.35 827.08V963.38M443.35 963.38h-3.4M443.35 929.3h-3.4M443.35 895.23h-3.4M443.35 861.15h-3.4M443.35 827.08h-3.4" class="ax"/>
<text x="438.45" y="966.13" class="l e">0</text>
<text x="438.45" y="932.05" class="l e">2</text>
<text x="438.45" y="897.98" class="l e">4</text>
<text x="438.45" y="863.9" class="l e">6</text>
<text x="438.45" y="829.83" class="l e">8</text>
<text transform="translate(430.05,895.23) rotate(-90)" class="t m">obs_count</text></g>
<g><path d="M826.32 827.08V963.38M842.26 827.08V963.38M859.29 827.08V963.38M875.78 827.08V963.38M892.81 827.08V963.38M909.29 827.08V963.38M926.33 827.08V963.38M943.36 827.08V963.38M959.85 827.08V963.38M976.88 827.08V963.38M993.37 827.08V963.38M1010.4 827.08V963.38M1027.44 827.08V963.38M1042.82 827.08V963.38M1059.86 827.08V963.38M1076.34 827.08V963.38M1093.38 827.08V963.38M1109.86 827.08V963.38M1126.9 827.08V963.38M1143.93 827.08V963.38M1160.42 827.08V963.38M824.72 963.38H1165.72M824.72 940.66H1165.72M824.72 917.95H1165.72M824.72 895.23H1165.72M824.72 872.51H1165.72M824.72 849.8H1165.72M824.72 827.08H1165.72" class="gr"/>
<path d="M883.67 963.04h3.41V826.74h-3.41zM895.21 963.04h3.41V826.74h-3.41zM902.9 963.04h3.41V826.74h-3.41zM906.75 963.04h3.41V826.74h-3.41zM914.44 963.04h3.41V826.74h-3.41zM922.13 963.04h3.41V826.74h-3.41zM929.83 963.04h3.41V826.74h-3.41zM941.37 963.04h3.41V826.74h-3.41zM949.06 963.04h3.41V826.74h-3.41zM956.75 963.04h3.41V826.74h-3.41zM964.44 963.04h3.41V826.74h-3.41zM975.98 963.04h3.41V826.74h-3.41zM983.68 963.04h3.41V826.74h-3.41zM995.22 963.04h3.41V917.61h-3.41zM1002.91 963.04h3.41V917.61h-3.41zM1010.6 963.04h3.41V894.89h-3.41zM1018.3 963.04h3.41V894.89h-3.41zM1025.99 963.04h3.41V894.89h-3.41zM1029.83 963.04h3.41V894.89h-3.41zM1045.22 963.04h3.41V894.89h-3.41zM1060.61 963.04h3.41V894.89h-3.41zM1072.15 963.04h3.41V894.89h-3.41zM1095.22 963.04h3.41V894.89h-3.41zM1129.84 963.04h3.41V826.74h-3.41z" fill="#37b24d"/>
<path d="M1145.23 963.04h3.41V826.74h-3.41z" fill="#ff7f0a"/>
<pattern id="p52" patternUnits="userSpaceOnUse" x="0" y="962.9" width="20" height="22.72"><rect width="20" height=".28" fill="#fff" fill-opacity=".36"/></pattern>
<path d="M883.67 951.68h3.41V838.1h-3.41zM895.21 951.68h3.41V838.1h-3.41zM902.9 951.68h3.41V838.1h-3.41zM906.75 951.68h3.41V838.1h-3.41zM914.44 951.68h3.41V838.1h-3.41zM922.13 951.68h3.41V838.1h-3.41zM929.83 951.68h3.41V838.1h-3.41zM941.37 951.68h3.41V838.1h-3.41zM949.06 951.68h3.41V838.1h-3.41zM956.75 951.68h3.41V838.1h-3.41zM964.44 951.68h3.41V838.1h-3.41zM975.98 951.68h3.41V838.1h-3.41zM983.68 951.68h3.41V838.1h-3.41zM995.22 951.68h3.41V928.96h-3.41zM1002.91 951.68h3.41V928.96h-3.41zM1010.6 951.68h3.41V906.25h-3.41zM1018.3 951.68h3.41V906.25h-3.41zM1025.99 951.68h3.41V906.25h-3.41zM1029.83 951.68h3.41V906.25h-3.41zM1045.22 951.68h3.41V906.25h-3.41zM1060.61 951.68h3.41V906.25h-3.41zM1072.15 951.68h3.41V906.25h-3.41zM1095.22 951.68h3.41V906.25h-3.41zM1129.84 951.68h3.41V838.1h-3.41zM1145.23 951.68h3.41V838.1h-3.41z" fill="url(#p52)"/>
<path d="M824.72 827.08V963.38M824.72 963.38h-3.4M824.72 940.66h-3.4M824.72 917.95h-3.4M824.72 895.23h-3.4M824.72 872.51h-3.4M824.72 849.8h-3.4M824.72 827.08h-3.4" class="ax"/>
<text x="819.82" y="966.13" class="l e">0</text>
<text x="819.82" y="943.41" class="l e">1</text>
<text x="819.82" y="920.7" class="l e">2</text>
<text x="819.82" y="897.98" class="l e">3</text>
<text x="819.82" y="875.26" class="l e">4</text>
<text x="819.82" y="852.55" class="l e">5</text>
<text x="819.82" y="829.83" class="l e">6</text>
<text transform="translate(811.42,895.23) rotate(-90)" class="t m">obs_count</text></g>
<g><path d="M1207.69 827.08V963.38M1223.63 827.08V963.38M1240.66 827.08V963.38M1257.14 827.08V963.38M1274.18 827.08V963.38M1290.66 827.08V963.38M1307.7 827.08V963.38M1324.73 827.08V963.38M1341.22 827.08V963.38M1358.25 827.08V963.38M1374.74 827.08V963.38M1391.77 827.08V963.38M1408.81 827.08V963.38M1424.19 827.08V963.38M1441.23 827.08V963.38M1457.71 827.08V963.38M1474.75 827.08V963.38M1491.23 827.08V963.38M1508.27 827.08V963.38M1525.3 827.08V963.38M1541.79 827.08V963.38M1206.09 963.38H1547.09M1206.09 929.3H1547.09M1206.09 895.23H1547.09M1206.09 861.15H1547.09M1206.09 827.08H1547.09" class="gr"/>
<path d="M1384.28 963.04h3.41V894.89h-3.41zM1395.82 963.04h3.41V894.89h-3.41zM1403.51 963.04h3.41V894.89h-3.41zM1407.36 963.04h3.41V894.89h-3.41zM1411.2 963.04h3.41V894.89h-3.41zM1426.59 963.04h3.41V894.89h-3.41zM1441.98 963.04h3.41V894.89h-3.41zM1453.52 963.04h3.41V894.89h-3.41zM1476.6 963.04h3.41V894.89h-3.41zM1511.21 963.04h3.41V894.89h-3.41zM1526.6 894.89h3.41V826.74h-3.41z" fill="#37b24d"/>
<path d="M1526.6 963.04h3.41V894.89h-3.41z" fill="#fcc419"/>
<path d="M1206.09 827.08V963.38M1206.09 963.38h-3.4M1206.09 929.3h-3.4M1206.09 895.23h-3.4M1206.09 861.15h-3.4M1206.09 827.08h-3.4" class="ax"/>
<text x="1201.19" y="966.13" class="l e">0.0</text>
<text x="1201.19" y="932.05" class="l e">0.5</text>
<text x="1201.19" y="897.98" class="l e">1.0</text>
<text x="1201.19" y="863.9" class="l e">1.5</text>
<text x="1201.19" y="829.83" class="l e">2.0</text>
<text transform="translate(1187.12,895.23) rotate(-90)" class="t m">obs_count</text></g>
<g><path d="M1589.06 827.08V963.38M1605 827.08V963.38M1622.03 827.08V963.38M1638.51 827.08V963.38M1655.55 827.08V963.38M1672.03 827.08V963.38M1689.07 827.08V963.38M1706.1 827.08V963.38M1722.59 827.08V963.38M1739.62 827.08V963.38M1756.11 827.08V963.38M1773.14 827.08V963.38M1790.18 827.08V963.38M1805.56 827.08V963.38M1822.6 827.08V963.38M1839.08 827.08V963.38M1856.12 827.08V963.38M1872.6 827.08V963.38M1889.64 827.08V963.38M1906.67 827.08V963.38M1923.16 827.08V963.38M1587.46 963.38H1928.46M1587.46 929.3H1928.46M1587.46 895.23H1928.46M1587.46 861.15H1928.46M1587.46 827.08H1928.46" class="gr"/>
<path d="M1646.41 963.04h3.41V894.89h-3.41zM1657.95 963.04h3.41V826.74h-3.41zM1665.64 894.89h3.41V826.74h-3.41zM1669.49 928.96h3.41V894.89h-3.41zM1677.18 963.04h3.41V894.89h-3.41zM1684.87 963.04h3.41V894.89h-3.41zM1692.57 963.04h3.41V894.89h-3.41zM1704.11 963.04h3.41V894.89h-3.41zM1711.8 963.04h3.41V894.89h-3.41zM1719.49 963.04h3.41V894.89h-3.41zM1727.18 963.04h3.41V894.89h-3.41zM1738.72 963.04h3.41V928.96h-3.41zM1746.42 963.04h3.41V894.89h-3.41zM1761.8 963.04h3.41V928.96h-3.41zM1769.5 963.04h3.41V928.96h-3.41zM1777.19 963.04h3.41V928.96h-3.41zM1784.88 963.04h3.41V928.96h-3.41zM1788.73 963.04h3.41V928.96h-3.41zM1792.57 963.04h3.41V928.96h-3.41zM1807.96 963.04h3.41V928.96h-3.41zM1823.35 963.04h3.41V928.96h-3.41zM1834.89 963.04h3.41V928.96h-3.41zM1861.81 963.04h3.41V928.96h-3.41zM1892.58 963.04h3.41V928.96h-3.41zM1907.97 963.04h3.41V928.96h-3.41z" fill="#37b24d"/>
<path d="M1665.64 963.04h3.41V894.89h-3.41zM1669.49 963.04h3.41V928.96h-3.41z" fill="#ff7f0a"/>
<pattern id="p54" patternUnits="userSpaceOnUse" x="0" y="962.9" width="20" height="17.04"><rect width="20" height=".28" fill="#fff" fill-opacity=".36"/></pattern>
<path d="M1646.41 954.52h3.41V903.41h-3.41zM1657.95 954.52h3.41V835.26h-3.41zM1665.64 954.52h3.41V835.26h-3.41zM1669.49 954.52h3.41V903.41h-3.41zM1677.18 954.52h3.41V903.41h-3.41zM1684.87 954.52h3.41V903.41h-3.41zM1692.57 954.52h3.41V903.41h-3.41zM1704.11 954.52h3.41V903.41h-3.41zM1711.8 954.52h3.41V903.41h-3.41zM1719.49 954.52h3.41V903.41h-3.41zM1727.18 954.52h3.41V903.41h-3.41zM1738.72 954.52h3.41V937.48h-3.41zM1746.42 954.52h3.41V903.41h-3.41zM1761.8 954.52h3.41V937.48h-3.41zM1769.5 954.52h3.41V937.48h-3.41zM1777.19 954.52h3.41V937.48h-3.41zM1784.88 954.52h3.41V937.48h-3.41zM1788.73 954.52h3.41V937.48h-3.41zM1792.57 954.52h3.41V937.48h-3.41zM1807.96 954.52h3.41V937.48h-3.41zM1823.35 954.52h3.41V937.48h-3.41zM1834.89 954.52h3.41V937.48h-3.41zM1861.81 954.52h3.41V937.48h-3.41zM1892.58 954.52h3.41V937.48h-3.41zM1907.97 954.52h3.41V937.48h-3.41z" fill="url(#p54)"/>
<path d="M1587.46 827.08V963.38M1587.46 963.38h-3.4M1587.46 929.3h-3.4M1587.46 895.23h-3.4M1587.46 861.15h-3.4M1587.46 827.08h-3.4" class="ax"/>
<text x="1582.56" y="966.13" class="l e">0</text>
<text x="1582.56" y="932.05" class="l e">2</text>
<text x="1582.56" y="897.98" class="l e">4</text>
<text x="1582.56" y="863.9" class="l e">6</text>
<text x="1582.56" y="829.83" class="l e">8</text>
<text transform="translate(1574.16,895.23) rotate(-90)" class="t m">obs_count</text></g>
<g><path d="M63.58 984.11V1120.41M79.52 984.11V1120.41M96.55 984.11V1120.41M113.03 984.11V1120.41M130.07 984.11V1120.41M146.55 984.11V1120.41M163.59 984.11V1120.41M180.62 984.11V1120.41M197.11 984.11V1120.41M214.14 984.11V1120.41M230.63 984.11V1120.41M247.66 984.11V1120.41M264.7 984.11V1120.41M280.08 984.11V1120.41M297.12 984.11V1120.41M313.6 984.11V1120.41M330.64 984.11V1120.41M347.12 984.11V1120.41M364.16 984.11V1120.41M381.19 984.11V1120.41M397.68 984.11V1120.41M61.98 1120.41H402.98M61.98 1090.12H402.98M61.98 1059.83H402.98M61.98 1029.54H402.98M61.98 999.25H402.98" class="gr"/>
<path d="M240.17 1089.78h3.41V1074.64h-3.41zM247.86 1104.93h3.41V1074.64h-3.41zM259.4 1104.93h3.41V1074.64h-3.41zM267.09 1104.93h3.41V1074.64h-3.41zM270.94 1120.07h3.41V1044.35h-3.41zM278.63 1120.07h3.41V1074.64h-3.41zM286.33 1120.07h3.41V1074.64h-3.41zM294.02 1120.07h3.41V1074.64h-3.41zM301.71 1104.93h3.41V1074.64h-3.41zM309.41 1089.78h3.41V1029.2h-3.41zM317.1 1104.93h3.41V1074.64h-3.41zM328.64 1104.93h3.41V1074.64h-3.41zM344.02 1089.78h3.41V1074.64h-3.41zM355.56 1104.93h3.41V1074.64h-3.41zM363.26 1120.07h3.41V1074.64h-3.41zM370.95 1104.93h3.41V1044.35h-3.41zM378.64 1104.93h3.41V1074.64h-3.41zM382.49 1074.64h3.41V983.77h-3.41zM386.34 1089.78h3.41V1029.2h-3.41zM390.18 1059.49h3.41V1029.2h-3.41zM394.03 1104.93h3.41V1074.64h-3.41z" fill="#37b24d"/>
<path d="M309.41 1104.93h3.41V1089.78h-3.41zM317.1 1120.07h3.41V1104.93h-3.41zM344.02 1120.07h3.41V1089.78h-3.41zM355.56 1120.07h3.41V1104.93h-3.41zM382.49 1104.93h3.41V1074.64h-3.41zM386.34 1104.93h3.41V1089.78h-3.41zM390.18 1089.78h3.41V1059.49h-3.41zM394.03 1120.07h3.41V1104.93h-3.41z" fill="#ff7f0a"/>
<path d="M240.17 1120.07h3.41V1089.78h-3.41zM247.86 1120.07h3.41V1104.93h-3.41zM259.4 1120.07h3.41V1104.93h-3.41zM267.09 1120.07h3.41V1104.93h-3.41zM301.71 1120.07h3.41V1104.93h-3.41zM309.41 1120.07h3.41V1104.93h-3.41zM328.64 1120.07h3.41V1104.93h-3.41zM370.95 1120.07h3.41V1104.93h-3.41zM378.64 1120.07h3.41V1104.93h-3.41zM382.49 1120.07h3.41V1104.93h-3.41zM386.34 1120.07h3.41V1104.93h-3.41zM390.18 1120.07h3.41V1089.78h-3.41z" fill="#fcc419"/>
<pattern id="p60" patternUnits="userSpaceOnUse" x="0" y="1119.93" width="20" height="15.14"><rect width="20" height=".28" fill="#fff" fill-opacity=".36"/></pattern>
<path d="M240.17 1112.5h3.41V1082.21h-3.41zM247.86 1112.5h3.41V1082.21h-3.41zM259.4 1112.5h3.41V1082.21h-3.41zM267.09 1112.5h3.41V1082.21h-3.41zM270.94 1112.5h3.41V1051.92h-3.41zM278.63 1112.5h3.41V1082.21h-3.41zM286.33 1112.5h3.41V1082.21h-3.41zM294.02 1112.5h3.41V1082.21h-3.41zM301.71 1112.5h3.41V1082.21h-3.41zM309.41 1112.5h3.41V1036.78h-3.41zM317.1 1112.5h3.41V1082.21h-3.41zM328.64 1112.5h3.41V1082.21h-3.41zM344.02 1112.5h3.41V1082.21h-3.41zM355.56 1112.5h3.41V1082.21h-3.41zM363.26 1112.5h3.41V1082.21h-3.41zM370.95 1112.5h3.41V1051.92h-3.41zM378.64 1112.5h3.41V1082.21h-3.41zM382.49 1112.5h3.41V991.34h-3.41zM386.34 1112.5h3.41V1036.78h-3.41zM390.18 1112.5h3.41V1036.78h-3.41zM394.03 1112.5h3.41V1082.21h-3.41z" fill="url(#p60)"/>
<path d="M61.98 984.11V1120.41M61.98 1120.41h-3.4M61.98 1090.12h-3.4M61.98 1059.83h-3.4M61.98 1029.54h-3.4M61.98 999.25h-3.4" class="ax"/>
<text x="57.08" y="1123.16" class="l e">0</text>
<text x="57.08" y="1092.87" class="l e">2</text>
<text x="57.08" y="1062.58" class="l e">4</text>
<text x="57.08" y="1032.29" class="l e">6</text>
<text x="57.08" y="1002" class="l e">8</text>
<text transform="translate(48.68,1052.26) rotate(-90)" class="t m">obs_count</text></g>
<g><path d="M444.95 984.11V1120.41M460.89 984.11V1120.41M477.92 984.11V1120.41M494.41 984.11V1120.41M511.44 984.11V1120.41M527.92 984.11V1120.41M544.96 984.11V1120.41M561.99 984.11V1120.41M578.48 984.11V1120.41M595.51 984.11V1120.41M612 984.11V1120.41M629.03 984.11V1120.41M646.07 984.11V1120.41M661.45 984.11V1120.41M678.49 984.11V1120.41M694.97 984.11V1120.41M712.01 984.11V1120.41M728.49 984.11V1120.41M745.53 984.11V1120.41M762.56 984.11V1120.41M779.05 984.11V1120.41M443.35 1120.41H784.35M443.35 1097.69H784.35M443.35 1074.98H784.35M443.35 1052.26H784.35M443.35 1029.54H784.35M443.35 1006.83H784.35M443.35 984.11H784.35" class="gr"/>
<path d="M621.54 1120.07h3.41V1074.64h-3.41zM629.23 1120.07h3.41V1074.64h-3.41zM640.77 1120.07h3.41V1074.64h-3.41zM648.46 1120.07h3.41V1074.64h-3.41zM652.31 1120.07h3.41V1074.64h-3.41zM660 1120.07h3.41V1074.64h-3.41zM667.7 1120.07h3.41V1074.64h-3.41zM675.39 1120.07h3.41V1074.64h-3.41zM683.08 1120.07h3.41V1074.64h-3.41zM690.78 1108.71h3.41V1074.64h-3.41zM698.47 1120.07h3.41V1074.64h-3.41zM710.01 1120.07h3.41V1074.64h-3.41zM725.39 1120.07h3.41V1074.64h-3.41zM736.93 1120.07h3.41V1074.64h-3.41zM744.63 1120.07h3.41V1074.64h-3.41zM752.32 1120.07h3.41V1029.2h-3.41zM760.01 1120.07h3.41V1074.64h-3.41zM763.86 1120.07h3.41V983.77h-3.41zM767.71 1120.07h3.41V1029.2h-3.41zM771.55 1120.07h3.41V1029.2h-3.41zM775.4 1120.07h3.41V1097.35h-3.41z" fill="#37b24d"/>
<path d="M690.78 1120.07h3.41V1108.71h-3.41z" fill="#fcc419"/>
<pattern id="p61" patternUnits="userSpaceOnUse" x="0" y="1119.93" width="20" height="11.36"><rect width="20" height=".28" fill="#fff" fill-opacity=".36"/></pattern>
<path d="M621.54 1114.39h3.41V1080.32h-3.41zM629.23 1114.39h3.41V1080.32h-3.41zM640.77 1114.39h3.41V1080.32h-3.41zM648.46 1114.39h3.41V1080.32h-3.41zM652.31 1114.39h3.41V1080.32h-3.41zM660 1114.39h3.41V1080.32h-3.41zM667.7 1114.39h3.41V1080.32h-3.41zM675.39 1114.39h3.41V1080.32h-3.41zM683.08 1114.39h3.41V1080.32h-3.41zM690.78 1114.39h3.41V1080.32h-3.41zM698.47 1114.39h3.41V1080.32h-3.41zM710.01 1114.39h3.41V1080.32h-3.41zM725.39 1114.39h3.41V1080.32h-3.41zM736.93 1114.39h3.41V1080.32h-3.41zM744.63 1114.39h3.41V1080.32h-3.41zM752.32 1114.39h3.41V1034.88h-3.41zM760.01 1114.39h3.41V1080.32h-3.41zM763.86 1114.39h3.41V989.45h-3.41zM767.71 1114.39h3.41V1034.88h-3.41zM771.55 1114.39h3.41V1034.88h-3.41zM775.4 1114.39h3.41V1103.03h-3.41z" fill="url(#p61)"/>
<path d="M443.35 984.11V1120.41M443.35 1120.41h-3.4M443.35 1097.69h-3.4M443.35 1074.98h-3.4M443.35 1052.26h-3.4M443.35 1029.54h-3.4M443.35 1006.83h-3.4M443.35 984.11h-3.4" class="ax"/>
<text x="438.45" y="1123.16" class="l e">0</text>
<text x="438.45" y="1100.44" class="l e">2</text>
<text x="438.45" y="1077.73" class="l e">4</text>
<text x="438.45" y="1055.01" class="l e">6</text>
<text x="438.45" y="1032.29" class="l e">8</text>
<text x="438.45" y="1009.58" class="l e">10</text>
<text x="438.45" y="986.86" class="l e">12</text>
<text transform="translate(426.27,1052.26) rotate(-90)" class="t m">obs_count</text></g>
<g><path d="M826.32 984.11V1120.41M842.26 984.11V1120.41M859.29 984.11V1120.41M875.78 984.11V1120.41M892.81 984.11V1120.41M909.29 984.11V1120.41M926.33 984.11V1120.41M943.36 984.11V1120.41M959.85 984.11V1120.41M976.88 984.11V1120.41M993.37 984.11V1120.41M1010.4 984.11V1120.41M1027.44 984.11V1120.41M1042.82 984.11V1120.41M1059.86 984.11V1120.41M1076.34 984.11V1120.41M1093.38 984.11V1120.41M1109.86 984.11V1120.41M1126.9 984.11V1120.41M1143.93 984.11V1120.41M1160.42 984.11V1120.41M824.72 1120.41H1165.72M824.72 1097.69H1165.72M824.72 1074.98H1165.72M824.72 1052.26H1165.72M824.72 1029.54H1165.72M824.72 1006.83H1165.72M824.72 984.11H1165.72" class="gr"/>
<path d="M841.36 1120.07h3.41V983.77h-3.41zM852.9 1120.07h3.41V1051.92h-3.41zM860.59 1120.07h3.41V1051.92h-3.41zM868.28 1120.07h3.41V1051.92h-3.41zM887.51 1120.07h3.41V1051.92h-3.41zM895.21 1120.07h3.41V1051.92h-3.41zM902.9 1120.07h3.41V1051.92h-3.41zM910.59 1120.07h3.41V1051.92h-3.41zM922.13 1120.07h3.41V1051.92h-3.41zM929.83 1120.07h3.41V1051.92h-3.41zM933.67 1120.07h3.41V1051.92h-3.41zM945.21 1120.07h3.41V1051.92h-3.41zM952.9 1120.07h3.41V1051.92h-3.41zM960.6 1120.07h3.41V1051.92h-3.41zM968.29 1120.07h3.41V1051.92h-3.41zM975.98 1120.07h3.41V1051.92h-3.41zM987.52 1120.07h3.41V1074.64h-3.41zM991.37 1120.07h3.41V1097.35h-3.41zM1002.91 1120.07h3.41V1086h-3.41zM1010.6 1120.07h3.41V1086h-3.41zM1022.14 1120.07h3.41V1086h-3.41zM1029.83 1120.07h3.41V1097.35h-3.41zM1033.68 1120.07h3.41V1086h-3.41zM1041.37 1120.07h3.41V1086h-3.41zM1049.07 1120.07h3.41V1086h-3.41zM1056.76 1120.07h3.41V1086h-3.41zM1064.45 1120.07h3.41V1086h-3.41zM1072.15 1120.07h3.41V1097.35h-3.41zM1079.84 1120.07h3.41V1086h-3.41zM1091.38 1120.07h3.41V1086h-3.41zM1106.76 1120.07h3.41V1086h-3.41zM1118.3 1120.07h3.41V1086h-3.41zM1126 1120.07h3.41V1086h-3.41zM1133.69 1120.07h3.41V1063.28h-3.41zM1141.38 1120.07h3.41V1086h-3.41zM1145.23 1097.35h3.41V1051.92h-3.41zM1149.08 1108.71h3.41V1063.28h-3.41zM1152.92 1108.71h3.41V1063.28h-3.41zM1156.77 1120.07h3.41V1086h-3.41z" fill="#37b24d"/>
<path d="M1145.23 1120.07h3.41V1097.35h-3.41zM1149.08 1120.07h3.41V1108.71h-3.41zM1152.92 1120.07h3.41V1108.71h-3.41z" fill="#ff7f0a"/>
<pattern id="p62" patternUnits="userSpaceOnUse" x="0" y="1119.93" width="20" height="11.36"><rect width="20" height=".28" fill="#fff" fill-opacity=".36"/></pattern>
<path d="M841.36 1114.39h3.41V989.45h-3.41zM852.9 1114.39h3.41V1057.6h-3.41zM860.59 1114.39h3.41V1057.6h-3.41zM868.28 1114.39h3.41V1057.6h-3.41zM887.51 1114.39h3.41V1057.6h-3.41zM895.21 1114.39h3.41V1057.6h-3.41zM902.9 1114.39h3.41V1057.6h-3.41zM910.59 1114.39h3.41V1057.6h-3.41zM922.13 1114.39h3.41V1057.6h-3.41zM929.83 1114.39h3.41V1057.6h-3.41zM933.67 1114.39h3.41V1057.6h-3.41zM945.21 1114.39h3.41V1057.6h-3.41zM952.9 1114.39h3.41V1057.6h-3.41zM960.6 1114.39h3.41V1057.6h-3.41zM968.29 1114.39h3.41V1057.6h-3.41zM975.98 1114.39h3.41V1057.6h-3.41zM987.52 1114.39h3.41V1080.32h-3.41zM991.37 1114.39h3.41V1103.03h-3.41zM1002.91 1114.39h3.41V1091.67h-3.41zM1010.6 1114.39h3.41V1091.67h-3.41zM1022.14 1114.39h3.41V1091.67h-3.41zM1029.83 1114.39h3.41V1103.03h-3.41zM1033.68 1114.39h3.41V1091.67h-3.41zM1041.37 1114.39h3.41V1091.67h-3.41zM1049.07 1114.39h3.41V1091.67h-3.41zM1056.76 1114.39h3.41V1091.67h-3.41zM1064.45 1114.39h3.41V1091.67h-3.41zM1072.15 1114.39h3.41V1103.03h-3.41zM1079.84 1114.39h3.41V1091.67h-3.41zM1091.38 1114.39h3.41V1091.67h-3.41zM1106.76 1114.39h3.41V1091.67h-3.41zM1118.3 1114.39h3.41V1091.67h-3.41zM1126 1114.39h3.41V1091.67h-3.41zM1133.69 1114.39h3.41V1068.96h-3.41zM1141.38 1114.39h3.41V1091.67h-3.41zM1145.23 1114.39h3.41V1057.6h-3.41zM1149.08 1114.39h3.41V1068.96h-3.41zM1152.92 1114.39h3.41V1068.96h-3.41zM1156.77 1114.39h3.41V1091.67h-3.41z" fill="url(#p62)"/>
<path d="M824.72 984.11V1120.41M824.72 1120.41h-3.4M824.72 1097.69h-3.4M824.72 1074.98h-3.4M824.72 1052.26h-3.4M824.72 1029.54h-3.4M824.72 1006.83h-3.4M824.72 984.11h-3.4" class="ax"/>
<text x="819.82" y="1123.16" class="l e">0</text>
<text x="819.82" y="1100.44" class="l e">2</text>
<text x="819.82" y="1077.73" class="l e">4</text>
<text x="819.82" y="1055.01" class="l e">6</text>
<text x="819.82" y="1032.29" class="l e">8</text>
<text x="819.82" y="1009.58" class="l e">10</text>
<text x="819.82" y="986.86" class="l e">12</text>
<text transform="translate(807.64,1052.26) rotate(-90)" class="t m">obs_count</text></g>
<g><path d="M1207.69 984.11V1120.41M1223.63 984.11V1120.41M1240.66 984.11V1120.41M1257.14 984.11V1120.41M1274.18 984.11V1120.41M1290.66 984.11V1120.41M1307.7 984.11V1120.41M1324.73 984.11V1120.41M1341.22 984.11V1120.41M1358.25 984.11V1120.41M1374.74 984.11V1120.41M1391.77 984.11V1120.41M1408.81 984.11V1120.41M1424.19 984.11V1120.41M1441.23 984.11V1120.41M1457.71 984.11V1120.41M1474.75 984.11V1120.41M1491.23 984.11V1120.41M1508.27 984.11V1120.41M1525.3 984.11V1120.41M1541.79 984.11V1120.41M1206.09 1120.41H1547.09M1206.09 1086.34H1547.09M1206.09 1052.26H1547.09M1206.09 1018.19H1547.09M1206.09 984.11H1547.09" class="gr"/>
<path d="M1384.28 1120.07h3.41V1086h-3.41zM1395.82 1120.07h3.41V1086h-3.41zM1403.51 1120.07h3.41V1086h-3.41zM1415.05 1120.07h3.41V1086h-3.41zM1422.74 1120.07h3.41V1086h-3.41zM1430.44 1120.07h3.41V1086h-3.41zM1438.13 1120.07h3.41V1086h-3.41zM1445.82 1120.07h3.41V1086h-3.41zM1453.52 1120.07h3.41V1086h-3.41zM1461.21 1120.07h3.41V1086h-3.41zM1472.75 1120.07h3.41V1086h-3.41zM1488.13 1120.07h3.41V1086h-3.41zM1499.67 1120.07h3.41V1086h-3.41zM1507.37 1120.07h3.41V1086h-3.41zM1515.06 1120.07h3.41V983.77h-3.41zM1522.75 1120.07h3.41V1086h-3.41zM1526.6 1120.07h3.41V1017.85h-3.41zM1530.45 1120.07h3.41V1051.92h-3.41zM1534.29 1120.07h3.41V1051.92h-3.41zM1538.14 1120.07h3.41V1086h-3.41z" fill="#37b24d"/>
<pattern id="p63" patternUnits="userSpaceOnUse" x="0" y="1119.93" width="20" height="34.08"><rect width="20" height=".28" fill="#fff" fill-opacity=".36"/></pattern>
<path d="M1515.06 1103.03h3.41V1000.81h-3.41zM1526.6 1103.03h3.41V1034.88h-3.41zM1530.45 1103.03h3.41V1068.96h-3.41zM1534.29 1103.03h3.41V1068.96h-3.41z" fill="url(#p63)"/>
<path d="M1206.09 984.11V1120.41M1206.09 1120.41h-3.4M1206.09 1086.34h-3.4M1206.09 1052.26h-3.4M1206.09 1018.19h-3.4M1206.09 984.11h-3.4" class="ax"/>
<text x="1201.19" y="1123.16" class="l e">0</text>
<text x="1201.19" y="1089.09" class="l e">1</text>
<text x="1201.19" y="1055.01" class="l e">2</text>
<text x="1201.19" y="1020.94" class="l e">3</text>
<text x="1201.19" y="986.86" class="l e">4</text>
<text transform="translate(1192.79,1052.26) rotate(-90)" class="t m">obs_count</text></g>
<g><path d="M1589.06 984.11V1120.41M1605 984.11V1120.41M1622.03 984.11V1120.41M1638.51 984.11V1120.41M1655.55 984.11V1120.41M1672.03 984.11V1120.41M1689.07 984.11V1120.41M1706.1 984.11V1120.41M1722.59 984.11V1120.41M1739.62 984.11V1120.41M1756.11 984.11V1120.41M1773.14 984.11V1120.41M1790.18 984.11V1120.41M1805.56 984.11V1120.41M1822.6 984.11V1120.41M1839.08 984.11V1120.41M1856.12 984.11V1120.41M1872.6 984.11V1120.41M1889.64 984.11V1120.41M1906.67 984.11V1120.41M1923.16 984.11V1120.41M1587.46 1120.41H1928.46M1587.46 1097.69H1928.46M1587.46 1074.98H1928.46M1587.46 1052.26H1928.46M1587.46 1029.54H1928.46M1587.46 1006.83H1928.46M1587.46 984.11H1928.46" class="gr"/>
<path d="M1588.71 1120.07h3.41V1029.2h-3.41zM1615.64 1120.07h3.41V1029.2h-3.41zM1623.33 1120.07h3.41V1029.2h-3.41zM1657.95 1074.64h3.41V1029.2h-3.41zM1677.18 1120.07h3.41V1029.2h-3.41zM1684.87 1120.07h3.41V1029.2h-3.41zM1692.57 1120.07h3.41V1029.2h-3.41zM1700.26 1120.07h3.41V1029.2h-3.41zM1707.95 1120.07h3.41V1074.64h-3.41zM1719.49 1074.64h3.41V1029.2h-3.41zM1723.34 1120.07h3.41V1029.2h-3.41zM1734.88 1120.07h3.41V1029.2h-3.41zM1738.72 1120.07h3.41V1029.2h-3.41zM1750.26 1120.07h3.41V1029.2h-3.41zM1757.96 1120.07h3.41V1074.64h-3.41zM1765.65 1120.07h3.41V1074.64h-3.41zM1777.19 1120.07h3.41V1074.64h-3.41zM1784.88 1120.07h3.41V1074.64h-3.41zM1796.42 1120.07h3.41V1074.64h-3.41zM1804.11 1120.07h3.41V1074.64h-3.41zM1811.81 1120.07h3.41V1074.64h-3.41zM1819.5 1120.07h3.41V1074.64h-3.41zM1827.19 1120.07h3.41V1074.64h-3.41zM1834.89 1120.07h3.41V1074.64h-3.41zM1842.58 1120.07h3.41V1074.64h-3.41zM1854.12 1120.07h3.41V1074.64h-3.41zM1869.5 1120.07h3.41V1074.64h-3.41zM1881.04 1120.07h3.41V1074.64h-3.41zM1888.74 1120.07h3.41V1074.64h-3.41zM1896.43 1120.07h3.41V983.77h-3.41zM1904.12 1120.07h3.41V1074.64h-3.41zM1907.97 1120.07h3.41V983.77h-3.41zM1911.82 1120.07h3.41V1029.2h-3.41zM1915.66 1120.07h3.41V1074.64h-3.41zM1919.51 1120.07h3.41V1074.64h-3.41zM1923.36 1120.07h3.41V1074.64h-3.41z" fill="#37b24d"/>
<path d="M1719.49 1120.07h3.41V1074.64h-3.41z" fill="#ff7f0a"/>
<path d="M1631.02 1120.07h3.41V1029.2h-3.41zM1654.1 1074.64h3.41V1029.2h-3.41zM1657.95 1120.07h3.41V1074.64h-3.41zM1669.49 1120.07h3.41V1029.2h-3.41z" fill="#e03131"/>
<path d="M1654.1 1120.07h3.41V1074.64h-3.41z" fill="#fcc419"/>
<pattern id="p64" patternUnits="userSpaceOnUse" x="0" y="1119.93" width="20" height="22.72"><rect width="20" height=".28" fill="#fff" fill-opacity=".36"/></pattern>
<path d="M1588.71 1108.71h3.41V1040.56h-3.41zM1615.64 1108.71h3.41V1040.56h-3.41zM1623.33 1108.71h3.41V1040.56h-3.41zM1631.02 1108.71h3.41V1040.56h-3.41zM1654.1 1108.71h3.41V1040.56h-3.41zM1657.95 1108.71h3.41V1040.56h-3.41zM1669.49 1108.71h3.41V1040.56h-3.41zM1677.18 1108.71h3.41V1040.56h-3.41zM1684.87 1108.71h3.41V1040.56h-3.41zM1692.57 1108.71h3.41V1040.56h-3.41zM1700.26 1108.71h3.41V1040.56h-3.41zM1707.95 1108.71h3.41V1086h-3.41zM1719.49 1108.71h3.41V1040.56h-3.41zM1723.34 1108.71h3.41V1040.56h-3.41zM1734.88 1108.71h3.41V1040.56h-3.41zM1738.72 1108.71h3.41V1040.56h-3.41zM1750.26 1108.71h3.41V1040.56h-3.41zM1757.96 1108.71h3.41V1086h-3.41zM1765.65 1108.71h3.41V1086h-3.41zM1777.19 1108.71h3.41V1086h-3.41zM1784.88 1108.71h3.41V1086h-3.41zM1796.42 1108.71h3.41V1086h-3.41zM1804.11 1108.71h3.41V1086h-3.41zM1811.81 1108.71h3.41V1086h-3.41zM1819.5 1108.71h3.41V1086h-3.41zM1827.19 1108.71h3.41V1086h-3.41zM1834.89 1108.71h3.41V1086h-3.41zM1842.58 1108.71h3.41V1086h-3.41zM1854.12 1108.71h3.41V1086h-3.41zM1869.5 1108.71h3.41V1086h-3.41zM1881.04 1108.71h3.41V1086h-3.41zM1888.74 1108.71h3.41V1086h-3.41zM1896.43 1108.71h3.41V995.13h-3.41zM1904.12 1108.71h3.41V1086h-3.41zM1907.97 1108.71h3.41V995.13h-3.41zM1911.82 1108.71h3.41V1040.56h-3.41zM1915.66 1108.71h3.41V1086h-3.41zM1919.51 1108.71h3.41V1086h-3.41zM1923.36 1108.71h3.41V1086h-3.41z" fill="url(#p64)"/>
<path d="M1587.46 984.11V1120.41M1587.46 1120.41h-3.4M1587.46 1097.69h-3.4M1587.46 1074.98h-3.4M1587.46 1052.26h-3.4M1587.46 1029.54h-3.4M1587.46 1006.83h-3.4M1587.46 984.11h-3.4" class="ax"/>
<text x="1582.56" y="1123.16" class="l e">0</text>
<text x="1582.56" y="1100.44" class="l e">1</text>
<text x="1582.56" y="1077.73" class="l e">2</text>
<text x="1582.56" y="1055.01" class="l e">3</text>
<text x="1582.56" y="1032.29" class="l e">4</text>
<text x="1582.56" y="1009.58" class="l e">5</text>
<text x="1582.56" y="986.86" class="l e">6</text>
<text transform="translate(1574.16,1052.26) rotate(-90)" class="t m">obs_count</text></g>
<g><path d="M63.58 1141.14V1277.44M79.52 1141.14V1277.44M96.55 1141.14V1277.44M113.03 1141.14V1277.44M130.07 1141.14V1277.44M146.55 1141.14V1277.44M163.59 1141.14V1277.44M180.62 1141.14V1277.44M197.11 1141.14V1277.44M214.14 1141.14V1277.44M230.63 1141.14V1277.44M247.66 1141.14V1277.44M264.7 1141.14V1277.44M280.08 1141.14V1277.44M297.12 1141.14V1277.44M313.6 1141.14V1277.44M330.64 1141.14V1277.44M347.12 1141.14V1277.44M364.16 1141.14V1277.44M381.19 1141.14V1277.44M397.68 1141.14V1277.44M61.98 1277.44H402.98M61.98 1243.37H402.98M61.98 1209.29H402.98M61.98 1175.22H402.98M61.98 1141.14H402.98" class="gr"/>
<path d="M240.17 1277.1h3.41V1197.02h-3.41zM244.02 1275.4h3.41V1241.32h-3.41zM247.86 1275.4h3.41V1256.66h-3.41zM251.71 1273.69h3.41V1225.99h-3.41zM255.55 1277.1h3.41V1217.47h-3.41zM259.4 1277.1h3.41V1231.1h-3.41zM263.25 1277.1h3.41V1246.43h-3.41zM267.09 1277.1h3.41V1152.73h-3.41zM270.94 1277.1h3.41V1212.36h-3.41zM274.79 1277.1h3.41V1210.65h-3.41zM278.63 1277.1h3.41V1246.43h-3.41zM282.48 1277.1h3.41V1222.58h-3.41zM286.33 1277.1h3.41V1261.77h-3.41zM290.17 1277.1h3.41V1231.1h-3.41zM294.02 1277.1h3.41V1215.77h-3.41zM297.87 1271.99h3.41V1241.32h-3.41zM301.71 1275.4h3.41V1256.66h-3.41zM305.56 1253.25h3.41V1200.43h-3.41zM309.41 1273.69h3.41V1251.54h-3.41zM313.25 1265.17h3.41V1236.21h-3.41zM317.1 1268.58h3.41V1246.43h-3.41zM320.95 1271.99h3.41V1241.32h-3.41zM324.79 1258.36h3.41V1185.1h-3.41zM328.64 1277.1h3.41V1251.54h-3.41zM332.49 1270.29h3.41V1256.66h-3.41zM344.02 1265.17h3.41V1241.32h-3.41zM347.87 1271.99h3.41V1236.21h-3.41zM351.72 1246.43h3.41V1176.58h-3.41zM355.56 1261.77h3.41V1200.43h-3.41zM359.41 1266.88h3.41V1234.51h-3.41zM363.26 1263.47h3.41V1231.1h-3.41zM367.1 1261.77h3.41V1186.8h-3.41zM370.95 1258.36h3.41V1203.84h-3.41zM374.8 1263.47h3.41V1224.28h-3.41zM378.64 1268.58h3.41V1214.06h-3.41zM382.49 1265.17h3.41V1215.77h-3.41zM386.34 1266.88h3.41V1217.47h-3.41zM390.18 1256.66h3.41V1195.32h-3.41zM394.03 1253.25h3.41V1215.77h-3.41zM397.88 1273.69h3.41V1266.88h-3.41z" fill="#37b24d"/>
<path d="M297.87 1277.1h3.41V1271.99h-3.41zM301.71 1277.1h3.41V1275.4h-3.41zM305.56 1273.69h3.41V1253.25h-3.41zM309.41 1277.1h3.41V1273.69h-3.41zM313.25 1273.69h3.41V1265.17h-3.41zM317.1 1277.1h3.41V1268.58h-3.41zM320.95 1275.4h3.41V1271.99h-3.41zM324.79 1263.47h3.41V1258.36h-3.41zM332.49 1275.4h3.41V1270.29h-3.41zM344.02 1275.4h3.41V1265.17h-3.41zM347.87 1275.4h3.41V1271.99h-3.41zM351.72 1261.77h3.41V1246.43h-3.41zM355.56 1275.4h3.41V1261.77h-3.41zM359.41 1275.4h3.41V1266.88h-3.41zM363.26 1265.17h3.41V1263.47h-3.41zM367.1 1270.29h3.41V1261.77h-3.41zM370.95 1263.47h3.41V1258.36h-3.41zM374.8 1275.4h3.41V1263.47h-3.41zM378.64 1275.4h3.41V1268.58h-3.41zM382.49 1273.69h3.41V1265.17h-3.41zM386.34 1275.4h3.41V1266.88h-3.41zM390.18 1273.69h3.41V1256.66h-3.41zM394.03 1268.58h3.41V1253.25h-3.41zM397.88 1277.1h3.41V1273.69h-3.41z" fill="#ff7f0a"/>
<path d="M244.02 1277.1h3.41V1275.4h-3.41zM247.86 1277.1h3.41V1275.4h-3.41zM251.71 1277.1h3.41V1273.69h-3.41zM305.56 1277.1h3.41V1273.69h-3.41zM313.25 1277.1h3.41V1273.69h-3.41zM320.95 1277.1h3.41V1275.4h-3.41zM324.79 1277.1h3.41V1263.47h-3.41zM332.49 1277.1h3.41V1275.4h-3.41zM344.02 1277.1h3.41V1275.4h-3.41zM347.87 1277.1h3.41V1275.4h-3.41zM351.72 1277.1h3.41V1261.77h-3.41zM355.56 1277.1h3.41V1275.4h-3.41zM359.41 1277.1h3.41V1275.4h-3.41zM363.26 1277.1h3.41V1265.17h-3.41zM367.1 1277.1h3.41V1270.29h-3.41zM370.95 1277.1h3.41V1263.47h-3.41zM374.8 1277.1h3.41V1275.4h-3.41zM378.64 1277.1h3.41V1275.4h-3.41zM382.49 1277.1h3.41V1273.69h-3.41zM386.34 1277.1h3.41V1275.4h-3.41zM390.18 1277.1h3.41V1273.69h-3.41zM394.03 1277.1h3.41V1268.58h-3.41z" fill="#fcc419"/>
<pattern id="p70" patternUnits="userSpaceOnUse" x="0" y="1276.96" width="20" height="3.41"><rect width="20" height=".28" fill="#fff" fill-opacity=".36"/></pattern>
<path d="M240.17 1275.4h3.41V1198.73h-3.41zM244.02 1275.4h3.41V1243.03h-3.41zM247.86 1275.4h3.41V1258.36h-3.41zM251.71 1275.4h3.41V1227.69h-3.41zM255.55 1275.4h3.41V1219.17h-3.41zM259.4 1275.4h3.41V1232.8h-3.41zM263.25 1275.4h3.41V1248.14h-3.41zM267.09 1275.4h3.41V1154.43h-3.41zM270.94 1275.4h3.41V1214.06h-3.41zM274.79 1275.4h3.41V1212.36h-3.41zM278.63 1275.4h3.41V1248.14h-3.41zM282.48 1275.4h3.41V1224.28h-3.41zM286.33 1275.4h3.41V1263.47h-3.41zM290.17 1275.4h3.41V1232.8h-3.41zM294.02 1275.4h3.41V1217.47h-3.41zM297.87 1275.4h3.41V1243.03h-3.41zM301.71 1275.4h3.41V1258.36h-3.41zM305.56 1275.4h3.41V1202.13h-3.41zM309.41 1275.4h3.41V1253.25h-3.41zM313.25 1275.4h3.41V1237.91h-3.41zM317.1 1275.4h3.41V1248.14h-3.41zM320.95 1275.4h3.41V1243.03h-3.41zM324.79 1275.4h3.41V1186.8h-3.41zM328.64 1275.4h3.41V1253.25h-3.41zM332.49 1275.4h3.41V1258.36h-3.41zM344.02 1275.4h3.41V1243.03h-3.41zM347.87 1275.4h3.41V1237.91h-3.41zM351.72 1275.4h3.41V1178.28h-3.41zM355.56 1275.4h3.41V1202.13h-3.41zM359.41 1275.4h3.41V1236.21h-3.41zM363.26 1275.4h3.41V1232.8h-3.41zM367.1 1275.4h3.41V1188.51h-3.41zM370.95 1275.4h3.41V1205.54h-3.41zM374.8 1275.4h3.41V1225.99h-3.41zM378.64 1275.4h3.41V1215.77h-3.41zM382.49 1275.4h3.41V1217.47h-3.41zM386.34 1275.4h3.41V1219.17h-3.41zM390.18 1275.4h3.41V1197.02h-3.41zM394.03 1275.4h3.41V1217.47h-3.41zM397.88 1275.4h3.41V1268.58h-3.41z" fill="url(#p70)"/>
<path d="M61.98 1141.14V1277.44M61.98 1277.44h-3.4M61.98 1243.37h-3.4M61.98 1209.29h-3.4M61.98 1175.22h-3.4M61.98 1141.14h-3.4" class="ax"/>
<text x="57.08" y="1280.19" class="l e">0</text>
<text x="57.08" y="1246.12" class="l e">20</text>
<text x="57.08" y="1212.04" class="l e">40</text>
<text x="57.08" y="1177.97" class="l e">60</text>
<text x="57.08" y="1143.89" class="l e">80</text>
<text transform="translate(44.9,1209.29) rotate(-90)" class="t m">obs_count</text></g>
<g><path d="M444.95 1141.14V1277.44M460.89 1141.14V1277.44M477.92 1141.14V1277.44M494.41 1141.14V1277.44M511.44 1141.14V1277.44M527.92 1141.14V1277.44M544.96 1141.14V1277.44M561.99 1141.14V1277.44M578.48 1141.14V1277.44M595.51 1141.14V1277.44M612 1141.14V1277.44M629.03 1141.14V1277.44M646.07 1141.14V1277.44M661.45 1141.14V1277.44M678.49 1141.14V1277.44M694.97 1141.14V1277.44M712.01 1141.14V1277.44M728.49 1141.14V1277.44M745.53 1141.14V1277.44M762.56 1141.14V1277.44M779.05 1141.14V1277.44M443.35 1277.44H784.35M443.35 1243.37H784.35M443.35 1209.29H784.35M443.35 1175.22H784.35M443.35 1141.14H784.35" class="gr"/>
<path d="M621.54 1277.1h3.41V1215.77h-3.41zM625.39 1271.99h3.41V1236.21h-3.41zM629.23 1277.1h3.41V1249.84h-3.41zM633.08 1270.29h3.41V1208.95h-3.41zM636.92 1277.1h3.41V1202.14h-3.41zM640.77 1275.4h3.41V1215.77h-3.41zM644.62 1275.4h3.41V1236.21h-3.41zM648.46 1277.1h3.41V1140.8h-3.41zM652.31 1277.1h3.41V1215.77h-3.41zM656.16 1277.1h3.41V1243.03h-3.41zM660 1270.29h3.41V1249.84h-3.41zM663.85 1277.1h3.41V1229.4h-3.41zM667.7 1277.1h3.41V1256.66h-3.41zM671.54 1277.1h3.41V1222.58h-3.41zM675.39 1277.1h3.41V1202.14h-3.41zM679.24 1270.29h3.41V1222.58h-3.41zM683.08 1277.1h3.41V1249.84h-3.41zM686.93 1277.1h3.41V1181.69h-3.41zM690.78 1277.1h3.41V1243.03h-3.41zM694.62 1277.1h3.41V1222.58h-3.41zM698.47 1277.1h3.41V1236.21h-3.41zM702.32 1277.1h3.41V1229.4h-3.41zM706.16 1277.1h3.41V1229.4h-3.41zM710.01 1277.1h3.41V1236.21h-3.41zM713.86 1277.1h3.41V1256.66h-3.41zM717.7 1270.29h3.41V1236.21h-3.41zM725.39 1271.99h3.41V1222.58h-3.41zM729.24 1273.69h3.41V1229.4h-3.41zM733.09 1273.69h3.41V1140.8h-3.41zM736.93 1277.1h3.41V1188.51h-3.41zM740.78 1277.1h3.41V1222.58h-3.41zM744.63 1271.99h3.41V1208.95h-3.41zM748.47 1277.1h3.41V1154.43h-3.41zM752.32 1277.1h3.41V1181.69h-3.41zM756.17 1277.1h3.41V1207.25h-3.41zM760.01 1277.1h3.41V1186.8h-3.41zM763.86 1277.1h3.41V1200.43h-3.41zM767.71 1277.1h3.41V1207.25h-3.41zM771.55 1277.1h3.41V1174.88h-3.41zM775.4 1277.1h3.41V1229.4h-3.41zM779.25 1277.1h3.41V1266.88h-3.41z" fill="#37b24d"/>
<path d="M644.62 1277.1h3.41V1275.4h-3.41zM660 1277.1h3.41V1270.29h-3.41zM679.24 1277.1h3.41V1270.29h-3.41zM729.24 1277.1h3.41V1273.69h-3.41zM744.63 1277.1h3.41V1271.99h-3.41z" fill="#ff7f0a"/>
<path d="M625.39 1277.1h3.41V1271.99h-3.41zM633.08 1277.1h3.41V1270.29h-3.41zM640.77 1277.1h3.41V1275.4h-3.41zM717.7 1277.1h3.41V1270.29h-3.41zM725.39 1277.1h3.41V1271.99h-3.41zM733.09 1277.1h3.41V1273.69h-3.41z" fill="#fcc419"/>
<pattern id="p71" patternUnits="userSpaceOnUse" x="0" y="1276.96" width="20" height="3.41"><rect width="20" height=".28" fill="#fff" fill-opacity=".36"/></pattern>
<path d="M621.54 1275.4h3.41V1217.47h-3.41zM625.39 1275.4h3.41V1237.91h-3.41zM629.23 1275.4h3.41V1251.54h-3.41zM633.08 1275.4h3.41V1210.65h-3.41zM636.92 1275.4h3.41V1203.84h-3.41zM640.77 1275.4h3.41V1217.47h-3.41zM644.62 1275.4h3.41V1237.91h-3.41zM648.46 1275.4h3.41V1142.5h-3.41zM652.31 1275.4h3.41V1217.47h-3.41zM656.16 1275.4h3.41V1244.73h-3.41zM660 1275.4h3.41V1251.54h-3.41zM663.85 1275.4h3.41V1231.1h-3.41zM667.7 1275.4h3.41V1258.36h-3.41zM671.54 1275.4h3.41V1224.28h-3.41zM675.39 1275.4h3.41V1203.84h-3.41zM679.24 1275.4h3.41V1224.28h-3.41zM683.08 1275.4h3.41V1251.54h-3.41zM686.93 1275.4h3.41V1183.39h-3.41zM690.78 1275.4h3.41V1244.73h-3.41zM694.62 1275.4h3.41V1224.28h-3.41zM698.47 1275.4h3.41V1237.91h-3.41zM702.32 1275.4h3.41V1231.1h-3.41zM706.16 1275.4h3.41V1231.1h-3.41zM710.01 1275.4h3.41V1237.91h-3.41zM713.86 1275.4h3.41V1258.36h-3.41zM717.7 1275.4h3.41V1237.91h-3.41zM725.39 1275.4h3.41V1224.28h-3.41zM729.24 1275.4h3.41V1231.1h-3.41zM733.09 1275.4h3.41V1142.5h-3.41zM736.93 1275.4h3.41V1190.21h-3.41zM740.78 1275.4h3.41V1224.28h-3.41zM744.63 1275.4h3.41V1210.65h-3.41zM748.47 1275.4h3.41V1156.13h-3.41zM752.32 1275.4h3.41V1183.39h-3.41zM756.17 1275.4h3.41V1208.95h-3.41zM760.01 1275.4h3.41V1188.51h-3.41zM763.86 1275.4h3.41V1202.13h-3.41zM767.71 1275.4h3.41V1208.95h-3.41zM771.55 1275.4h3.41V1176.58h-3.41zM775.4 1275.4h3.41V1231.1h-3.41zM779.25 1275.4h3.41V1268.58h-3.41z" fill="url(#p71)"/>
<path d="M443.35 1141.14V1277.44M443.35 1277.44h-3.4M443.35 1243.37h-3.4M443.35 1209.29h-3.4M443.35 1175.22h-3.4M443.35 1141.14h-3.4" class="ax"/>
<text x="438.45" y="1280.19" class="l e">0</text>
<text x="438.45" y="1246.12" class="l e">20</text>
<text x="438.45" y="1212.04" class="l e">40</text>
<text x="438.45" y="1177.97" class="l e">60</text>
<text x="438.45" y="1143.89" class="l e">80</text>
<text transform="translate(426.27,1209.29) rotate(-90)" class="t m">obs_count</text></g>
<g><path d="M826.32 1141.14V1277.44M842.26 1141.14V1277.44M859.29 1141.14V1277.44M875.78 1141.14V1277.44M892.81 1141.14V1277.44M909.29 1141.14V1277.44M926.33 1141.14V1277.44M943.36 1141.14V1277.44M959.85 1141.14V1277.44M976.88 1141.14V1277.44M993.37 1141.14V1277.44M1010.4 1141.14V1277.44M1027.44 1141.14V1277.44M1042.82 1141.14V1277.44M1059.86 1141.14V1277.44M1076.34 1141.14V1277.44M1093.38 1141.14V1277.44M1109.86 1141.14V1277.44M1126.9 1141.14V1277.44M1143.93 1141.14V1277.44M1160.42 1141.14V1277.44M824.72 1277.44H1165.72M824.72 1239.58H1165.72M824.72 1201.72H1165.72M824.72 1163.86H1165.72" class="gr"/>
<path d="M825.97 1272.56h3.41V1258.93h-3.41zM829.82 1272.56h3.41V1254.38h-3.41zM833.66 1272.56h3.41V1249.84h-3.41zM837.51 1268.01h3.41V1258.93h-3.41zM841.36 1270.29h3.41V1254.38h-3.41zM845.2 1277.1h3.41V1266.5h-3.41zM849.05 1272.56h3.41V1254.38h-3.41zM852.9 1249.84h3.41V1181.69h-3.41zM856.74 1268.01h3.41V1239.24h-3.41zM860.59 1272.56h3.41V1254.38h-3.41zM864.44 1268.01h3.41V1199.86h-3.41zM868.28 1277.1h3.41V1249.84h-3.41zM872.13 1277.1h3.41V1263.47h-3.41zM875.97 1277.1h3.41V1247.57h-3.41zM879.82 1277.1h3.41V1254.38h-3.41zM883.67 1277.1h3.41V1249.84h-3.41zM887.51 1271.04h3.41V1149.89h-3.41zM891.36 1275.59h3.41V1190.78h-3.41zM895.21 1277.1h3.41V1218.04h-3.41zM899.05 1277.1h3.41V1231.67h-3.41zM902.9 1277.1h3.41V1199.86h-3.41zM906.75 1277.1h3.41V1227.12h-3.41zM910.59 1277.1h3.41V1233.94h-3.41zM914.44 1277.1h3.41V1227.12h-3.41zM918.29 1277.1h3.41V1224.09h-3.41zM922.13 1277.1h3.41V1242.27h-3.41zM925.98 1275.59h3.41V1213.49h-3.41zM929.83 1275.59h3.41V1231.67h-3.41zM933.67 1277.1h3.41V1218.04h-3.41zM937.52 1277.1h3.41V1218.04h-3.41zM941.37 1277.1h3.41V1248.33h-3.41zM945.21 1277.1h3.41V1245.3h-3.41zM949.06 1277.1h3.41V1205.92h-3.41zM952.9 1275.59h3.41V1189.26h-3.41zM956.75 1275.59h3.41V1224.85h-3.41zM960.6 1274.83h3.41V1219.55h-3.41zM964.44 1277.1h3.41V1215.01h-3.41zM968.29 1277.1h3.41V1224.85h-3.41zM972.14 1277.1h3.41V1213.49h-3.41zM975.98 1277.1h3.41V1198.35h-3.41zM979.83 1277.1h3.41V1227.12h-3.41zM983.68 1275.59h3.41V1222.58h-3.41zM987.52 1277.1h3.41V1240.75h-3.41zM991.37 1277.1h3.41V1208.95h-3.41zM995.22 1277.1h3.41V1258.17h-3.41zM999.06 1277.1h3.41V1258.17h-3.41zM1002.91 1277.1h3.41V1259.68h-3.41zM1006.76 1276.34h3.41V1264.23h-3.41zM1010.6 1277.1h3.41V1269.53h-3.41zM1014.45 1277.1h3.41V1254.38h-3.41zM1018.3 1277.1h3.41V1251.35h-3.41zM1022.14 1277.1h3.41V1256.66h-3.41zM1025.99 1277.1h3.41V1263.47h-3.41zM1029.83 1277.1h3.41V1234.7h-3.41zM1033.68 1277.1h3.41V1258.17h-3.41zM1037.53 1277.1h3.41V1266.5h-3.41zM1041.37 1274.83h3.41V1263.47h-3.41zM1045.22 1277.1h3.41V1261.2h-3.41zM1049.07 1277.1h3.41V1270.29h-3.41zM1052.91 1277.1h3.41V1258.93h-3.41zM1056.76 1277.1h3.41V1252.11h-3.41zM1060.61 1274.83h3.41V1258.93h-3.41zM1064.45 1276.34h3.41V1266.5h-3.41zM1068.3 1275.59h3.41V1260.44h-3.41zM1072.15 1277.1h3.41V1265.74h-3.41zM1075.99 1277.1h3.41V1257.41h-3.41zM1079.84 1277.1h3.41V1265.74h-3.41zM1083.69 1277.1h3.41V1261.2h-3.41zM1087.53 1277.1h3.41V1261.2h-3.41zM1091.38 1277.1h3.41V1263.47h-3.41zM1095.22 1277.1h3.41V1270.29h-3.41zM1099.07 1274.07h3.41V1263.47h-3.41zM1106.76 1275.59h3.41V1261.2h-3.41zM1110.61 1277.1h3.41V1258.93h-3.41zM1114.46 1277.1h3.41V1234.7h-3.41zM1118.3 1277.1h3.41V1252.11h-3.41zM1122.15 1277.1h3.41V1256.66h-3.41zM1126 1275.59h3.41V1255.9h-3.41zM1129.84 1277.1h3.41V1237.72h-3.41zM1133.69 1276.34h3.41V1243.78h-3.41zM1137.54 1277.1h3.41V1254.38h-3.41zM1141.38 1277.1h3.41V1249.08h-3.41zM1145.23 1277.1h3.41V1252.87h-3.41zM1149.08 1277.1h3.41V1253.63h-3.41zM1152.92 1274.83h3.41V1242.27h-3.41zM1156.77 1277.1h3.41V1247.57h-3.41zM1160.62 1277.1h3.41V1270.29h-3.41z" fill="#37b24d"/>
<path d="M825.97 1277.1h3.41V1272.56h-3.41zM829.82 1277.1h3.41V1272.56h-3.41zM833.66 1277.1h3.41V1272.56h-3.41zM837.51 1277.1h3.41V1268.01h-3.41zM841.36 1274.83h3.41V1270.29h-3.41zM849.05 1277.1h3.41V1272.56h-3.41zM852.9 1277.1h3.41V1249.84h-3.41zM856.74 1277.1h3.41V1268.01h-3.41zM860.59 1277.1h3.41V1272.56h-3.41zM864.44 1277.1h3.41V1268.01h-3.41zM887.51 1275.59h3.41V1271.04h-3.41zM891.36 1277.1h3.41V1275.59h-3.41zM925.98 1277.1h3.41V1275.59h-3.41zM929.83 1277.1h3.41V1275.59h-3.41zM956.75 1277.1h3.41V1275.59h-3.41zM960.6 1277.1h3.41V1274.83h-3.41zM1006.76 1277.1h3.41V1276.34h-3.41zM1041.37 1277.1h3.41V1274.83h-3.41zM1060.61 1277.1h3.41V1274.83h-3.41zM1064.45 1277.1h3.41V1276.34h-3.41zM1068.3 1277.1h3.41V1275.59h-3.41zM1126 1277.1h3.41V1275.59h-3.41zM1133.69 1277.1h3.41V1276.34h-3.41zM1152.92 1277.1h3.41V1274.83h-3.41z" fill="#ff7f0a"/>
<path d="M841.36 1277.1h3.41V1274.83h-3.41zM887.51 1277.1h3.41V1275.59h-3.41zM952.9 1277.1h3.41V1275.59h-3.41zM983.68 1277.1h3.41V1275.59h-3.41zM1099.07 1277.1h3.41V1274.07h-3.41zM1106.76 1277.1h3.41V1275.59h-3.41z" fill="#fcc419"/>
<pattern id="p72" patternUnits="userSpaceOnUse" x="0" y="1276.96" width="20" height="3.03"><rect width="20" height=".28" fill="#fff" fill-opacity=".36"/></pattern>
<path d="M825.97 1275.59h3.41V1260.44h-3.41zM829.82 1275.59h3.41V1255.9h-3.41zM833.66 1275.59h3.41V1251.35h-3.41zM837.51 1275.59h3.41V1260.44h-3.41zM841.36 1275.59h3.41V1255.9h-3.41zM845.2 1275.59h3.41V1268.01h-3.41zM849.05 1275.59h3.41V1255.9h-3.41zM852.9 1275.59h3.41V1183.2h-3.41zM856.74 1275.59h3.41V1240.75h-3.41zM860.59 1275.59h3.41V1255.9h-3.41zM864.44 1275.59h3.41V1201.38h-3.41zM868.28 1275.59h3.41V1251.35h-3.41zM872.13 1275.59h3.41V1264.98h-3.41zM875.97 1275.59h3.41V1249.08h-3.41zM879.82 1275.59h3.41V1255.9h-3.41zM883.67 1275.59h3.41V1251.35h-3.41zM887.51 1275.59h3.41V1151.4h-3.41zM891.36 1275.59h3.41V1192.29h-3.41zM895.21 1275.59h3.41V1219.55h-3.41zM899.05 1275.59h3.41V1233.18h-3.41zM902.9 1275.59h3.41V1201.38h-3.41zM906.75 1275.59h3.41V1228.64h-3.41zM910.59 1275.59h3.41V1235.45h-3.41zM914.44 1275.59h3.41V1228.64h-3.41zM918.29 1275.59h3.41V1225.61h-3.41zM922.13 1275.59h3.41V1243.78h-3.41zM925.98 1275.59h3.41V1215.01h-3.41zM929.83 1275.59h3.41V1233.18h-3.41zM933.67 1275.59h3.41V1219.55h-3.41zM937.52 1275.59h3.41V1219.55h-3.41zM941.37 1275.59h3.41V1249.84h-3.41zM945.21 1275.59h3.41V1246.81h-3.41zM949.06 1275.59h3.41V1207.44h-3.41zM952.9 1275.59h3.41V1190.78h-3.41zM956.75 1275.59h3.41V1226.37h-3.41zM960.6 1275.59h3.41V1221.07h-3.41zM964.44 1275.59h3.41V1216.52h-3.41zM968.29 1275.59h3.41V1226.37h-3.41zM972.14 1275.59h3.41V1215.01h-3.41zM975.98 1275.59h3.41V1199.86h-3.41zM979.83 1275.59h3.41V1228.64h-3.41zM983.68 1275.59h3.41V1224.09h-3.41zM987.52 1275.59h3.41V1242.27h-3.41zM991.37 1275.59h3.41V1210.46h-3.41zM995.22 1275.59h3.41V1259.68h-3.41zM999.06 1275.59h3.41V1259.68h-3.41zM1002.91 1275.59h3.41V1261.2h-3.41zM1006.76 1275.59h3.41V1265.74h-3.41zM1010.6 1275.59h3.41V1271.04h-3.41zM1014.45 1275.59h3.41V1255.9h-3.41zM1018.3 1275.59h3.41V1252.87h-3.41zM1022.14 1275.59h3.41V1258.17h-3.41zM1025.99 1275.59h3.41V1264.98h-3.41zM1029.83 1275.59h3.41V1236.21h-3.41zM1033.68 1275.59h3.41V1259.68h-3.41zM1037.53 1275.59h3.41V1268.01h-3.41zM1041.37 1275.59h3.41V1264.98h-3.41zM1045.22 1275.59h3.41V1262.71h-3.41zM1049.07 1275.59h3.41V1271.8h-3.41zM1052.91 1275.59h3.41V1260.44h-3.41zM1056.76 1275.59h3.41V1253.63h-3.41zM1060.61 1275.59h3.41V1260.44h-3.41zM1064.45 1275.59h3.41V1268.01h-3.41zM1068.3 1275.59h3.41V1261.96h-3.41zM1072.15 1275.59h3.41V1267.26h-3.41zM1075.99 1275.59h3.41V1258.93h-3.41zM1079.84 1275.59h3.41V1267.26h-3.41zM1083.69 1275.59h3.41V1262.71h-3.41zM1087.53 1275.59h3.41V1262.71h-3.41zM1091.38 1275.59h3.41V1264.98h-3.41zM1095.22 1275.59h3.41V1271.8h-3.41zM1099.07 1275.59h3.41V1264.98h-3.41zM1106.76 1275.59h3.41V1262.71h-3.41zM1110.61 1275.59h3.41V1260.44h-3.41zM1114.46 1275.59h3.41V1236.21h-3.41zM1118.3 1275.59h3.41V1253.63h-3.41zM1122.15 1275.59h3.41V1258.17h-3.41zM1126 1275.59h3.41V1257.41h-3.41zM1129.84 1275.59h3.41V1239.24h-3.41zM1133.69 1275.59h3.41V1245.3h-3.41zM1137.54 1275.59h3.41V1255.9h-3.41zM1141.38 1275.59h3.41V1250.6h-3.41zM1145.23 1275.59h3.41V1254.38h-3.41zM1149.08 1275.59h3.41V1255.14h-3.41zM1152.92 1275.59h3.41V1243.78h-3.41zM1156.77 1275.59h3.41V1249.08h-3.41zM1160.62 1275.59h3.41V1271.8h-3.41z" fill="url(#p72)"/>
<path d="M824.72 1141.14V1277.44M824.72 1277.44h-3.4M824.72 1239.58h-3.4M824.72 1201.72h-3.4M824.72 1163.86h-3.4" class="ax"/>
<text x="819.82" y="1280.19" class="l e">0</text>
<text x="819.82" y="1242.33" class="l e">50</text>
<text x="819.82" y="1204.47" class="l e">100</text>
<text x="819.82" y="1166.61" class="l e">150</text>
<text transform="translate(803.86,1209.29) rotate(-90)" class="t m">obs_count</text></g>
<g><path d="M1207.69 1141.14V1277.44M1223.63 1141.14V1277.44M1240.66 1141.14V1277.44M1257.14 1141.14V1277.44M1274.18 1141.14V1277.44M1290.66 1141.14V1277.44M1307.7 1141.14V1277.44M1324.73 1141.14V1277.44M1341.22 1141.14V1277.44M1358.25 1141.14V1277.44M1374.74 1141.14V1277.44M1391.77 1141.14V1277.44M1408.81 1141.14V1277.44M1424.19 1141.14V1277.44M1441.23 1141.14V1277.44M1457.71 1141.14V1277.44M1474.75 1141.14V1277.44M1491.23 1141.14V1277.44M1508.27 1141.14V1277.44M1525.3 1141.14V1277.44M1541.79 1141.14V1277.44M1206.09 1277.44H1547.09M1206.09 1246.46H1547.09M1206.09 1215.49H1547.09M1206.09 1184.51H1547.09M1206.09 1153.53H1547.09" class="gr"/>
<path d="M1384.28 1277.1h3.41V1221.34h-3.41zM1388.13 1277.1h3.41V1221.34h-3.41zM1391.97 1277.1h3.41V1246.12h-3.41zM1395.82 1277.1h3.41V1208.95h-3.41zM1399.67 1277.1h3.41V1202.75h-3.41zM1403.51 1277.1h3.41V1190.36h-3.41zM1407.36 1277.1h3.41V1239.93h-3.41zM1411.2 1277.1h3.41V1140.8h-3.41zM1415.05 1277.1h3.41V1239.93h-3.41zM1418.9 1277.1h3.41V1227.54h-3.41zM1422.74 1277.1h3.41V1258.51h-3.41zM1426.59 1277.1h3.41V1252.32h-3.41zM1430.44 1277.1h3.41V1252.32h-3.41zM1434.28 1277.1h3.41V1246.12h-3.41zM1438.13 1277.1h3.41V1196.56h-3.41zM1441.98 1277.1h3.41V1221.34h-3.41zM1445.82 1277.1h3.41V1246.12h-3.41zM1449.67 1270.9h3.41V1196.56h-3.41zM1453.52 1277.1h3.41V1246.12h-3.41zM1457.36 1277.1h3.41V1239.93h-3.41zM1461.21 1277.1h3.41V1239.93h-3.41zM1465.06 1277.1h3.41V1239.93h-3.41zM1468.9 1277.1h3.41V1264.71h-3.41zM1472.75 1277.1h3.41V1239.93h-3.41zM1476.6 1277.1h3.41V1246.12h-3.41zM1480.44 1270.9h3.41V1264.71h-3.41zM1488.13 1264.71h3.41V1239.93h-3.41zM1491.98 1258.51h3.41V1221.34h-3.41zM1495.83 1258.51h3.41V1190.36h-3.41zM1499.67 1277.1h3.41V1190.36h-3.41zM1503.52 1277.1h3.41V1208.95h-3.41zM1507.37 1277.1h3.41V1202.75h-3.41zM1511.21 1277.1h3.41V1165.58h-3.41zM1515.06 1277.1h3.41V1177.97h-3.41zM1518.91 1277.1h3.41V1184.17h-3.41zM1522.75 1277.1h3.41V1196.56h-3.41zM1526.6 1277.1h3.41V1184.17h-3.41zM1530.45 1277.1h3.41V1202.75h-3.41zM1534.29 1277.1h3.41V1184.17h-3.41zM1538.14 1277.1h3.41V1202.75h-3.41zM1541.99 1277.1h3.41V1258.51h-3.41z" fill="#37b24d"/>
<path d="M1449.67 1277.1h3.41V1270.9h-3.41zM1495.83 1264.71h3.41V1258.51h-3.41z" fill="#ff7f0a"/>
<path d="M1480.44 1277.1h3.41V1270.9h-3.41zM1488.13 1277.1h3.41V1264.71h-3.41zM1491.98 1277.1h3.41V1258.51h-3.41zM1495.83 1277.1h3.41V1264.71h-3.41z" fill="#fcc419"/>
<pattern id="p73" patternUnits="userSpaceOnUse" x="0" y="1276.96" width="20" height="6.2"><rect width="20" height=".28" fill="#fff" fill-opacity=".36"/></pattern>
<path d="M1384.28 1274h3.41V1224.44h-3.41zM1388.13 1274h3.41V1224.44h-3.41zM1391.97 1274h3.41V1249.22h-3.41zM1395.82 1274h3.41V1212.05h-3.41zM1399.67 1274h3.41V1205.85h-3.41zM1403.51 1274h3.41V1193.46h-3.41zM1407.36 1274h3.41V1243.03h-3.41zM1411.2 1274h3.41V1143.9h-3.41zM1415.05 1274h3.41V1243.03h-3.41zM1418.9 1274h3.41V1230.63h-3.41zM1422.74 1274h3.41V1261.61h-3.41zM1426.59 1274h3.41V1255.42h-3.41zM1430.44 1274h3.41V1255.42h-3.41zM1434.28 1274h3.41V1249.22h-3.41zM1438.13 1274h3.41V1199.66h-3.41zM1441.98 1274h3.41V1224.44h-3.41zM1445.82 1274h3.41V1249.22h-3.41zM1449.67 1274h3.41V1199.66h-3.41zM1453.52 1274h3.41V1249.22h-3.41zM1457.36 1274h3.41V1243.03h-3.41zM1461.21 1274h3.41V1243.03h-3.41zM1465.06 1274h3.41V1243.03h-3.41zM1468.9 1274h3.41V1267.81h-3.41zM1472.75 1274h3.41V1243.03h-3.41zM1476.6 1274h3.41V1249.22h-3.41zM1480.44 1274h3.41V1267.81h-3.41zM1488.13 1274h3.41V1243.03h-3.41zM1491.98 1274h3.41V1224.44h-3.41zM1495.83 1274h3.41V1193.46h-3.41zM1499.67 1274h3.41V1193.46h-3.41zM1503.52 1274h3.41V1212.05h-3.41zM1507.37 1274h3.41V1205.85h-3.41zM1511.21 1274h3.41V1168.68h-3.41zM1515.06 1274h3.41V1181.07h-3.41zM1518.91 1274h3.41V1187.27h-3.41zM1522.75 1274h3.41V1199.66h-3.41zM1526.6 1274h3.41V1187.27h-3.41zM1530.45 1274h3.41V1205.85h-3.41zM1534.29 1274h3.41V1187.27h-3.41zM1538.14 1274h3.41V1205.85h-3.41zM1541.99 1274h3.41V1261.61h-3.41z" fill="url(#p73)"/>
<path d="M1206.09 1141.14V1277.44M1206.09 1277.44h-3.4M1206.09 1246.46h-3.4M1206.09 1215.49h-3.4M1206.09 1184.51h-3.4M1206.09 1153.53h-3.4" class="ax"/>
<text x="1201.19" y="1280.19" class="l e">0</text>
<text x="1201.19" y="1249.21" class="l e">5</text>
<text x="1201.19" y="1218.24" class="l e">10</text>
<text x="1201.19" y="1187.26" class="l e">15</text>
<text x="1201.19" y="1156.28" class="l e">20</text>
<text transform="translate(1189.01,1209.29) rotate(-90)" class="t m">obs_count</text></g>
<g><path d="M1589.06 1141.14V1277.44M1605 1141.14V1277.44M1622.03 1141.14V1277.44M1638.51 1141.14V1277.44M1655.55 1141.14V1277.44M1672.03 1141.14V1277.44M1689.07 1141.14V1277.44M1706.1 1141.14V1277.44M1722.59 1141.14V1277.44M1739.62 1141.14V1277.44M1756.11 1141.14V1277.44M1773.14 1141.14V1277.44M1790.18 1141.14V1277.44M1805.56 1141.14V1277.44M1822.6 1141.14V1277.44M1839.08 1141.14V1277.44M1856.12 1141.14V1277.44M1872.6 1141.14V1277.44M1889.64 1141.14V1277.44M1906.67 1141.14V1277.44M1923.16 1141.14V1277.44M1587.46 1277.44H1928.46M1587.46 1252.66H1928.46M1587.46 1227.88H1928.46M1587.46 1203.09H1928.46M1587.46 1178.31H1928.46M1587.46 1153.53H1928.46" class="gr"/>
<path d="M1592.56 1264.71h3.41V1252.32h-3.41zM1596.4 1259.75h3.41V1232.49h-3.41zM1600.25 1269.67h3.41V1242.41h-3.41zM1604.1 1265.95h3.41V1247.36h-3.41zM1607.94 1264.71h3.41V1247.36h-3.41zM1611.79 1262.23h3.41V1252.32h-3.41zM1615.64 1267.19h3.41V1262.23h-3.41zM1619.48 1257.27h3.41V1227.54h-3.41zM1623.33 1262.23h3.41V1252.32h-3.41zM1627.17 1259.75h3.41V1230.01h-3.41zM1634.87 1274.62h3.41V1247.36h-3.41zM1638.71 1269.67h3.41V1254.8h-3.41zM1642.56 1267.19h3.41V1254.8h-3.41zM1646.41 1259.75h3.41V1212.67h-3.41zM1650.25 1257.27h3.41V1222.58h-3.41zM1654.1 1260.99h3.41V1182.93h-3.41zM1657.95 1264.71h3.41V1177.97h-3.41zM1661.79 1227.54h3.41V1202.75h-3.41zM1665.64 1212.67h3.41V1148.23h-3.41zM1669.49 1242.41h3.41V1197.8h-3.41zM1673.33 1238.69h3.41V1202.75h-3.41zM1677.18 1262.23h3.41V1222.58h-3.41zM1681.03 1254.8h3.41V1182.93h-3.41zM1684.87 1272.14h3.41V1232.49h-3.41zM1688.72 1277.1h3.41V1217.62h-3.41zM1692.57 1277.1h3.41V1187.89h-3.41zM1696.41 1277.1h3.41V1217.62h-3.41zM1700.26 1277.1h3.41V1212.67h-3.41zM1704.11 1277.1h3.41V1227.54h-3.41zM1707.95 1277.1h3.41V1242.41h-3.41zM1711.8 1277.1h3.41V1232.49h-3.41zM1715.64 1274.62h3.41V1187.89h-3.41zM1719.49 1272.14h3.41V1227.54h-3.41zM1723.34 1277.1h3.41V1227.54h-3.41zM1727.18 1277.1h3.41V1207.71h-3.41zM1731.03 1277.1h3.41V1232.49h-3.41zM1734.88 1277.1h3.41V1207.71h-3.41zM1738.72 1272.14h3.41V1212.67h-3.41zM1742.57 1277.1h3.41V1197.8h-3.41zM1746.42 1277.1h3.41V1227.54h-3.41zM1750.26 1277.1h3.41V1212.67h-3.41zM1754.11 1277.1h3.41V1237.45h-3.41zM1757.96 1277.1h3.41V1254.8h-3.41zM1761.8 1277.1h3.41V1247.36h-3.41zM1765.65 1277.1h3.41V1257.27h-3.41zM1769.5 1277.1h3.41V1259.75h-3.41zM1773.34 1277.1h3.41V1267.19h-3.41zM1777.19 1277.1h3.41V1252.32h-3.41zM1781.04 1277.1h3.41V1249.84h-3.41zM1784.88 1277.1h3.41V1242.41h-3.41zM1788.73 1277.1h3.41V1259.75h-3.41zM1792.57 1277.1h3.41V1232.49h-3.41zM1796.42 1277.1h3.41V1260.99h-3.41zM1800.27 1277.1h3.41V1259.75h-3.41zM1804.11 1277.1h3.41V1267.19h-3.41zM1807.96 1277.1h3.41V1262.23h-3.41zM1811.81 1277.1h3.41V1267.19h-3.41zM1815.65 1277.1h3.41V1267.19h-3.41zM1819.5 1277.1h3.41V1244.88h-3.41zM1823.35 1277.1h3.41V1272.14h-3.41zM1827.19 1277.1h3.41V1264.71h-3.41zM1831.04 1277.1h3.41V1274.62h-3.41zM1834.89 1277.1h3.41V1247.36h-3.41zM1838.73 1277.1h3.41V1269.67h-3.41zM1842.58 1274.62h3.41V1249.84h-3.41zM1846.43 1277.1h3.41V1264.71h-3.41zM1850.27 1277.1h3.41V1257.27h-3.41zM1854.12 1277.1h3.41V1262.23h-3.41zM1857.97 1277.1h3.41V1267.19h-3.41zM1861.81 1275.86h3.41V1264.71h-3.41zM1869.5 1272.14h3.41V1259.75h-3.41zM1873.35 1277.1h3.41V1247.36h-3.41zM1877.2 1277.1h3.41V1252.32h-3.41zM1881.04 1277.1h3.41V1237.45h-3.41zM1884.89 1277.1h3.41V1251.08h-3.41zM1888.74 1277.1h3.41V1249.84h-3.41zM1892.58 1277.1h3.41V1232.49h-3.41zM1896.43 1277.1h3.41V1232.49h-3.41zM1900.28 1277.1h3.41V1252.32h-3.41zM1904.12 1275.86h3.41V1243.64h-3.41zM1907.97 1275.86h3.41V1242.41h-3.41zM1911.82 1277.1h3.41V1257.27h-3.41zM1915.66 1277.1h3.41V1247.36h-3.41zM1919.51 1277.1h3.41V1247.36h-3.41zM1923.36 1277.1h3.41V1269.67h-3.41z" fill="#37b24d"/>
<path d="M1588.71 1277.1h3.41V1262.23h-3.41zM1592.56 1269.67h3.41V1264.71h-3.41zM1596.4 1269.67h3.41V1259.75h-3.41zM1604.1 1268.43h3.41V1265.95h-3.41zM1607.94 1269.67h3.41V1264.71h-3.41zM1611.79 1272.14h3.41V1262.23h-3.41zM1615.64 1272.14h3.41V1267.19h-3.41zM1619.48 1262.23h3.41V1257.27h-3.41zM1623.33 1267.19h3.41V1262.23h-3.41zM1627.17 1264.71h3.41V1259.75h-3.41zM1631.02 1222.58h3.41V1217.62h-3.41zM1654.1 1265.95h3.41V1260.99h-3.41zM1657.95 1267.19h3.41V1264.71h-3.41zM1661.79 1257.27h3.41V1227.54h-3.41zM1665.64 1267.19h3.41V1212.67h-3.41zM1669.49 1259.75h3.41V1242.41h-3.41zM1673.33 1268.43h3.41V1238.69h-3.41zM1677.18 1264.71h3.41V1262.23h-3.41zM1715.64 1277.1h3.41V1274.62h-3.41zM1719.49 1277.1h3.41V1272.14h-3.41zM1842.58 1277.1h3.41V1274.62h-3.41zM1869.5 1277.1h3.41V1272.14h-3.41zM1904.12 1277.1h3.41V1275.86h-3.41zM1907.97 1277.1h3.41V1275.86h-3.41z" fill="#ff7f0a"/>
<path d="M1592.56 1277.1h3.41V1269.67h-3.41zM1596.4 1277.1h3.41V1269.67h-3.41zM1600.25 1277.1h3.41V1269.67h-3.41zM1604.1 1277.1h3.41V1268.43h-3.41zM1607.94 1277.1h3.41V1269.67h-3.41zM1611.79 1277.1h3.41V1272.14h-3.41zM1615.64 1277.1h3.41V1272.14h-3.41zM1619.48 1277.1h3.41V1262.23h-3.41zM1623.33 1277.1h3.41V1267.19h-3.41zM1627.17 1272.14h3.41V1264.71h-3.41zM1631.02 1277.1h3.41V1222.58h-3.41zM1634.87 1277.1h3.41V1274.62h-3.41zM1638.71 1277.1h3.41V1269.67h-3.41zM1642.56 1277.1h3.41V1267.19h-3.41zM1646.41 1277.1h3.41V1259.75h-3.41zM1650.25 1277.1h3.41V1257.27h-3.41zM1654.1 1277.1h3.41V1265.95h-3.41zM1657.95 1277.1h3.41V1267.19h-3.41zM1661.79 1277.1h3.41V1257.27h-3.41zM1665.64 1277.1h3.41V1267.19h-3.41zM1669.49 1274.62h3.41V1259.75h-3.41zM1673.33 1277.1h3.41V1268.43h-3.41zM1677.18 1277.1h3.41V1264.71h-3.41zM1681.03 1277.1h3.41V1254.8h-3.41zM1684.87 1277.1h3.41V1272.14h-3.41z" fill="#e03131"/>
<path d="M1627.17 1277.1h3.41V1272.14h-3.41zM1669.49 1277.1h3.41V1274.62h-3.41zM1738.72 1277.1h3.41V1272.14h-3.41zM1861.81 1277.1h3.41V1275.86h-3.41z" fill="#fcc419"/>
<pattern id="p74" patternUnits="userSpaceOnUse" x="0" y="1276.96" width="20" height="2.48"><rect width="20" height=".28" fill="#fff" fill-opacity=".36"/></pattern>
<path d="M1588.71 1275.86h3.41V1263.47h-3.41zM1592.56 1275.86h3.41V1253.56h-3.41zM1596.4 1275.86h3.41V1233.73h-3.41zM1600.25 1275.86h3.41V1243.64h-3.41zM1604.1 1275.86h3.41V1248.6h-3.41zM1607.94 1275.86h3.41V1248.6h-3.41zM1611.79 1275.86h3.41V1253.56h-3.41zM1615.64 1275.86h3.41V1263.47h-3.41zM1619.48 1275.86h3.41V1228.78h-3.41zM1623.33 1275.86h3.41V1253.56h-3.41zM1627.17 1275.86h3.41V1231.25h-3.41zM1631.02 1275.86h3.41V1218.86h-3.41zM1634.87 1275.86h3.41V1248.6h-3.41zM1638.71 1275.86h3.41V1256.04h-3.41zM1642.56 1275.86h3.41V1256.04h-3.41zM1646.41 1275.86h3.41V1213.91h-3.41zM1650.25 1275.86h3.41V1223.82h-3.41zM1654.1 1275.86h3.41V1184.17h-3.41zM1657.95 1275.86h3.41V1179.21h-3.41zM1661.79 1275.86h3.41V1203.99h-3.41zM1665.64 1275.86h3.41V1149.47h-3.41zM1669.49 1275.86h3.41V1199.04h-3.41zM1673.33 1275.86h3.41V1203.99h-3.41zM1677.18 1275.86h3.41V1223.82h-3.41zM1681.03 1275.86h3.41V1184.17h-3.41zM1684.87 1275.86h3.41V1233.73h-3.41zM1688.72 1275.86h3.41V1218.86h-3.41zM1692.57 1275.86h3.41V1189.12h-3.41zM1696.41 1275.86h3.41V1218.86h-3.41zM1700.26 1275.86h3.41V1213.91h-3.41zM1704.11 1275.86h3.41V1228.78h-3.41zM1707.95 1275.86h3.41V1243.64h-3.41zM1711.8 1275.86h3.41V1233.73h-3.41zM1715.64 1275.86h3.41V1189.12h-3.41zM1719.49 1275.86h3.41V1228.78h-3.41zM1723.34 1275.86h3.41V1228.78h-3.41zM1727.18 1275.86h3.41V1208.95h-3.41zM1731.03 1275.86h3.41V1233.73h-3.41zM1734.88 1275.86h3.41V1208.95h-3.41zM1738.72 1275.86h3.41V1213.91h-3.41zM1742.57 1275.86h3.41V1199.04h-3.41zM1746.42 1275.86h3.41V1228.78h-3.41zM1750.26 1275.86h3.41V1213.91h-3.41zM1754.11 1275.86h3.41V1238.69h-3.41zM1757.96 1275.86h3.41V1256.04h-3.41zM1761.8 1275.86h3.41V1248.6h-3.41zM1765.65 1275.86h3.41V1258.51h-3.41zM1769.5 1275.86h3.41V1260.99h-3.41zM1773.34 1275.86h3.41V1268.43h-3.41zM1777.19 1275.86h3.41V1253.56h-3.41zM1781.04 1275.86h3.41V1251.08h-3.41zM1784.88 1275.86h3.41V1243.64h-3.41zM1788.73 1275.86h3.41V1260.99h-3.41zM1792.57 1275.86h3.41V1233.73h-3.41zM1796.42 1275.86h3.41V1262.23h-3.41zM1800.27 1275.86h3.41V1260.99h-3.41zM1804.11 1275.86h3.41V1268.43h-3.41zM1807.96 1275.86h3.41V1263.47h-3.41zM1811.81 1275.86h3.41V1268.43h-3.41zM1815.65 1275.86h3.41V1268.43h-3.41zM1819.5 1275.86h3.41V1246.12h-3.41zM1823.35 1275.86h3.41V1273.38h-3.41zM1827.19 1275.86h3.41V1265.95h-3.41zM1831.04 1275.86h3.41V1275.86h-3.41zM1834.89 1275.86h3.41V1248.6h-3.41zM1838.73 1275.86h3.41V1270.9h-3.41zM1842.58 1275.86h3.41V1251.08h-3.41zM1846.43 1275.86h3.41V1265.95h-3.41zM1850.27 1275.86h3.41V1258.51h-3.41zM1854.12 1275.86h3.41V1263.47h-3.41zM1857.97 1275.86h3.41V1268.43h-3.41zM1861.81 1275.86h3.41V1265.95h-3.41zM1869.5 1275.86h3.41V1260.99h-3.41zM1873.35 1275.86h3.41V1248.6h-3.41zM1877.2 1275.86h3.41V1253.56h-3.41zM1881.04 1275.86h3.41V1238.69h-3.41zM1884.89 1275.86h3.41V1252.32h-3.41zM1888.74 1275.86h3.41V1251.08h-3.41zM1892.58 1275.86h3.41V1233.73h-3.41zM1896.43 1275.86h3.41V1233.73h-3.41zM1900.28 1275.86h3.41V1253.56h-3.41zM1904.12 1275.86h3.41V1244.88h-3.41zM1907.97 1275.86h3.41V1243.64h-3.41zM1911.82 1275.86h3.41V1258.51h-3.41zM1915.66 1275.86h3.41V1248.6h-3.41zM1919.51 1275.86h3.41V1248.6h-3.41zM1923.36 1275.86h3.41V1270.9h-3.41z" fill="url(#p74)"/>
<path d="M1587.46 1141.14V1277.44M1587.46 1277.44h-3.4M1587.46 1252.66h-3.4M1587.46 1227.88h-3.4M1587.46 1203.09h-3.4M1587.46 1178.31h-3.4M1587.46 1153.53h-3.4" class="ax"/>
<text x="1582.56" y="1280.19" class="l e">0</text>
<text x="1582.56" y="1255.41" class="l e">20</text>
<text x="1582.56" y="1230.63" class="l e">40</text>
<text x="1582.56" y="1205.84" class="l e">60</text>
<text x="1582.56" y="1181.06" class="l e">80</text>
<text x="1582.56" y="1156.28" class="l e">100</text>
<text transform="translate(1566.6,1209.29) rotate(-90)" class="t m">obs_count</text></g>
<g><path d="M63.58 1298.17V1434.47M79.52 1298.17V1434.47M96.55 1298.17V1434.47M113.03 1298.17V1434.47M130.07 1298.17V1434.47M146.55 1298.17V1434.47M163.59 1298.17V1434.47M180.62 1298.17V1434.47M197.11 1298.17V1434.47M214.14 1298.17V1434.47M230.63 1298.17V1434.47M247.66 1298.17V1434.47M264.7 1298.17V1434.47M280.08 1298.17V1434.47M297.12 1298.17V1434.47M313.6 1298.17V1434.47M330.64 1298.17V1434.47M347.12 1298.17V1434.47M364.16 1298.17V1434.47M381.19 1298.17V1434.47M397.68 1298.17V1434.47M61.98 1434.47H402.98M61.98 1403.49H402.98M61.98 1372.52H402.98M61.98 1341.54H402.98M61.98 1310.56H402.98" class="gr"/>
<path d="M240.17 1434.13h3.41V1396.96h-3.41zM244.02 1434.13h3.41V1359.78h-3.41zM247.86 1434.13h3.41V1359.78h-3.41zM251.71 1434.13h3.41V1396.96h-3.41zM255.55 1434.13h3.41V1396.96h-3.41zM259.4 1434.13h3.41V1359.78h-3.41zM263.25 1434.13h3.41V1415.54h-3.41zM267.09 1434.13h3.41V1378.37h-3.41zM270.94 1415.54h3.41V1396.96h-3.41zM274.79 1434.13h3.41V1415.54h-3.41zM282.48 1434.13h3.41V1359.78h-3.41zM290.17 1434.13h3.41V1359.78h-3.41zM294.02 1434.13h3.41V1347.39h-3.41zM297.87 1434.13h3.41V1378.37h-3.41zM301.71 1427.93h3.41V1396.96h-3.41zM305.56 1427.93h3.41V1396.96h-3.41zM309.41 1434.13h3.41V1415.54h-3.41zM313.25 1434.13h3.41V1415.54h-3.41zM317.1 1427.93h3.41V1396.96h-3.41zM320.95 1427.93h3.41V1415.54h-3.41zM324.79 1403.15h3.41V1304.03h-3.41zM328.64 1434.13h3.41V1396.96h-3.41zM332.49 1434.13h3.41V1415.54h-3.41zM344.02 1434.13h3.41V1396.96h-3.41zM347.87 1427.93h3.41V1415.54h-3.41zM351.72 1427.93h3.41V1415.54h-3.41zM355.56 1434.13h3.41V1415.54h-3.41zM359.41 1415.54h3.41V1378.37h-3.41zM363.26 1427.93h3.41V1415.54h-3.41zM367.1 1403.15h3.41V1304.03h-3.41zM370.95 1434.13h3.41V1365.98h-3.41zM374.8 1421.74h3.41V1396.96h-3.41zM378.64 1403.15h3.41V1322.61h-3.41zM382.49 1427.93h3.41V1359.78h-3.41zM386.34 1427.93h3.41V1378.37h-3.41zM390.18 1427.93h3.41V1415.54h-3.41zM394.03 1427.93h3.41V1378.37h-3.41zM397.88 1427.93h3.41V1415.54h-3.41z" fill="#37b24d"/>
<path d="M270.94 1434.13h3.41V1415.54h-3.41zM301.71 1434.13h3.41V1427.93h-3.41zM305.56 1434.13h3.41V1427.93h-3.41zM317.1 1434.13h3.41V1427.93h-3.41zM320.95 1434.13h3.41V1427.93h-3.41zM324.79 1434.13h3.41V1403.15h-3.41zM347.87 1434.13h3.41V1427.93h-3.41zM351.72 1434.13h3.41V1427.93h-3.41zM359.41 1434.13h3.41V1415.54h-3.41zM367.1 1421.74h3.41V1403.15h-3.41zM374.8 1427.93h3.41V1421.74h-3.41zM378.64 1434.13h3.41V1403.15h-3.41zM382.49 1434.13h3.41V1427.93h-3.41zM386.34 1434.13h3.41V1427.93h-3.41zM390.18 1434.13h3.41V1427.93h-3.41zM397.88 1434.13h3.41V1427.93h-3.41z" fill="#ff7f0a"/>
<path d="M363.26 1434.13h3.41V1427.93h-3.41zM367.1 1434.13h3.41V1421.74h-3.41zM374.8 1434.13h3.41V1427.93h-3.41zM394.03 1434.13h3.41V1427.93h-3.41z" fill="#fcc419"/>
<pattern id="p80" patternUnits="userSpaceOnUse" x="0" y="1433.99" width="20" height="6.2"><rect width="20" height=".28" fill="#fff" fill-opacity=".36"/></pattern>
<path d="M240.17 1431.03h3.41V1400.06h-3.41zM244.02 1431.03h3.41V1362.88h-3.41zM247.86 1431.03h3.41V1362.88h-3.41zM251.71 1431.03h3.41V1400.06h-3.41zM255.55 1431.03h3.41V1400.06h-3.41zM259.4 1431.03h3.41V1362.88h-3.41zM263.25 1431.03h3.41V1418.64h-3.41zM267.09 1431.03h3.41V1381.47h-3.41zM270.94 1431.03h3.41V1400.06h-3.41zM274.79 1431.03h3.41V1418.64h-3.41zM282.48 1431.03h3.41V1362.88h-3.41zM290.17 1431.03h3.41V1362.88h-3.41zM294.02 1431.03h3.41V1350.49h-3.41zM297.87 1431.03h3.41V1381.47h-3.41zM301.71 1431.03h3.41V1400.06h-3.41zM305.56 1431.03h3.41V1400.06h-3.41zM309.41 1431.03h3.41V1418.64h-3.41zM313.25 1431.03h3.41V1418.64h-3.41zM317.1 1431.03h3.41V1400.06h-3.41zM320.95 1431.03h3.41V1418.64h-3.41zM324.79 1431.03h3.41V1307.12h-3.41zM328.64 1431.03h3.41V1400.06h-3.41zM332.49 1431.03h3.41V1418.64h-3.41zM344.02 1431.03h3.41V1400.06h-3.41zM347.87 1431.03h3.41V1418.64h-3.41zM351.72 1431.03h3.41V1418.64h-3.41zM355.56 1431.03h3.41V1418.64h-3.41zM359.41 1431.03h3.41V1381.47h-3.41zM363.26 1431.03h3.41V1418.64h-3.41zM367.1 1431.03h3.41V1307.12h-3.41zM370.95 1431.03h3.41V1369.08h-3.41zM374.8 1431.03h3.41V1400.06h-3.41zM378.64 1431.03h3.41V1325.71h-3.41zM382.49 1431.03h3.41V1362.88h-3.41zM386.34 1431.03h3.41V1381.47h-3.41zM390.18 1431.03h3.41V1418.64h-3.41zM394.03 1431.03h3.41V1381.47h-3.41zM397.88 1431.03h3.41V1418.64h-3.41z" fill="url(#p80)"/>
<path d="M61.98 1298.17V1434.47M61.98 1434.47h-3.4M61.98 1403.49h-3.4M61.98 1372.52h-3.4M61.98 1341.54h-3.4M61.98 1310.56h-3.4" class="ax"/>
<text x="57.08" y="1437.22" class="l e">0</text>
<text x="57.08" y="1406.24" class="l e">5</text>
<text x="57.08" y="1375.27" class="l e">10</text>
<text x="57.08" y="1344.29" class="l e">15</text>
<text x="57.08" y="1313.31" class="l e">20</text>
<text transform="translate(44.9,1366.32) rotate(-90)" class="t m">obs_count</text>
<text x="63.58" y="1448.37" class="l m">February</text>
<text x="96.55" y="1448.37" class="l m">April</text>
<text x="130.07" y="1448.37" class="l m">June</text>
<text x="163.59" y="1448.37" class="l m">August</text>
<text x="197.11" y="1448.37" class="l m">October</text>
<text x="230.63" y="1448.37" class="l m">December</text>
<text x="264.7" y="1448.37" class="l m">February</text>
<text x="297.12" y="1448.37" class="l m">April</text>
<text x="330.64" y="1448.37" class="l m">June</text>
<text x="364.16" y="1448.37" class="l m">August</text>
<text x="397.68" y="1448.37" class="l m">October</text>
<path d="M61.98 1437.37H402.98M63.58 1437.37v3.4M79.52 1437.37v3.4M96.55 1437.37v3.4M113.03 1437.37v3.4M130.07 1437.37v3.4M146.55 1437.37v3.4M163.59 1437.37v3.4M180.62 1437.37v3.4M197.11 1437.37v3.4M214.14 1437.37v3.4M230.63 1437.37v3.4M247.66 1437.37v3.4M264.7 1437.37v3.4M280.08 1437.37v3.4M297.12 1437.37v3.4M313.6 1437.37v3.4M330.64 1437.37v3.4M347.12 1437.37v3.4M364.16 1437.37v3.4M381.19 1437.37v3.4M397.68 1437.37v3.4" class="ax"/>
<text x="232.48" y="1458.27" class="t m">measurement_start_time</text></g>
<g><path d="M444.95 1298.17V1434.47M460.89 1298.17V1434.47M477.92 1298.17V1434.47M494.41 1298.17V1434.47M511.44 1298.17V1434.47M527.92 1298.17V1434.47M544.96 1298.17V1434.47M561.99 1298.17V1434.47M578.48 1298.17V1434.47M595.51 1298.17V1434.47M612 1298.17V1434.47M629.03 1298.17V1434.47M646.07 1298.17V1434.47M661.45 1298.17V1434.47M678.49 1298.17V1434.47M694.97 1298.17V1434.47M712.01 1298.17V1434.47M728.49 1298.17V1434.47M745.53 1298.17V1434.47M762.56 1298.17V1434.47M779.05 1298.17V1434.47M443.35 1434.47H784.35M443.35 1415H784.35M443.35 1395.53H784.35M443.35 1376.06H784.35M443.35 1356.58H784.35M443.35 1337.11H784.35M443.35 1317.64H784.35M443.35 1298.17H784.35" class="gr"/>
<path d="M621.54 1434.13h3.41V1402.98h-3.41zM625.39 1434.13h3.41V1371.82h-3.41zM629.23 1434.13h3.41V1371.82h-3.41zM633.08 1434.13h3.41V1402.98h-3.41zM636.92 1434.13h3.41V1402.98h-3.41zM640.77 1434.13h3.41V1356.24h-3.41zM644.62 1434.13h3.41V1418.55h-3.41zM648.46 1434.13h3.41V1387.4h-3.41zM652.31 1434.13h3.41V1371.82h-3.41zM656.16 1434.13h3.41V1418.55h-3.41zM663.85 1434.13h3.41V1402.98h-3.41zM671.54 1434.13h3.41V1418.55h-3.41zM675.39 1434.13h3.41V1371.82h-3.41zM679.24 1434.13h3.41V1387.4h-3.41zM683.08 1434.13h3.41V1402.98h-3.41zM686.93 1434.13h3.41V1387.4h-3.41zM690.78 1434.13h3.41V1418.55h-3.41zM694.62 1434.13h3.41V1418.55h-3.41zM698.47 1434.13h3.41V1402.98h-3.41zM702.32 1434.13h3.41V1418.55h-3.41zM706.16 1434.13h3.41V1418.55h-3.41zM710.01 1434.13h3.41V1418.55h-3.41zM713.86 1434.13h3.41V1418.55h-3.41zM725.39 1434.13h3.41V1387.4h-3.41zM729.24 1434.13h3.41V1418.55h-3.41zM733.09 1434.13h3.41V1402.98h-3.41zM736.93 1434.13h3.41V1418.55h-3.41zM740.78 1434.13h3.41V1387.4h-3.41zM744.63 1434.13h3.41V1418.55h-3.41zM748.47 1434.13h3.41V1309.51h-3.41zM752.32 1434.13h3.41V1371.82h-3.41zM756.17 1434.13h3.41V1402.98h-3.41zM760.01 1434.13h3.41V1356.24h-3.41zM763.86 1434.13h3.41V1356.24h-3.41zM767.71 1434.13h3.41V1402.98h-3.41zM771.55 1434.13h3.41V1418.55h-3.41zM775.4 1434.13h3.41V1410.76h-3.41zM779.25 1434.13h3.41V1426.34h-3.41z" fill="#37b24d"/>
<pattern id="p81" patternUnits="userSpaceOnUse" x="0" y="1433.99" width="20" height="3.89"><rect width="20" height=".28" fill="#fff" fill-opacity=".36"/></pattern>
<path d="M621.54 1432.18h3.41V1404.92h-3.41zM625.39 1432.18h3.41V1373.77h-3.41zM629.23 1432.18h3.41V1373.77h-3.41zM633.08 1432.18h3.41V1404.92h-3.41zM636.92 1432.18h3.41V1404.92h-3.41zM640.77 1432.18h3.41V1358.19h-3.41zM644.62 1432.18h3.41V1420.5h-3.41zM648.46 1432.18h3.41V1389.35h-3.41zM652.31 1432.18h3.41V1373.77h-3.41zM656.16 1432.18h3.41V1420.5h-3.41zM663.85 1432.18h3.41V1404.92h-3.41zM671.54 1432.18h3.41V1420.5h-3.41zM675.39 1432.18h3.41V1373.77h-3.41zM679.24 1432.18h3.41V1389.35h-3.41zM683.08 1432.18h3.41V1404.92h-3.41zM686.93 1432.18h3.41V1389.35h-3.41zM690.78 1432.18h3.41V1420.5h-3.41zM694.62 1432.18h3.41V1420.5h-3.41zM698.47 1432.18h3.41V1404.92h-3.41zM702.32 1432.18h3.41V1420.5h-3.41zM706.16 1432.18h3.41V1420.5h-3.41zM710.01 1432.18h3.41V1420.5h-3.41zM713.86 1432.18h3.41V1420.5h-3.41zM725.39 1432.18h3.41V1389.35h-3.41zM729.24 1432.18h3.41V1420.5h-3.41zM733.09 1432.18h3.41V1404.92h-3.41zM736.93 1432.18h3.41V1420.5h-3.41zM740.78 1432.18h3.41V1389.35h-3.41zM744.63 1432.18h3.41V1420.5h-3.41zM748.47 1432.18h3.41V1311.46h-3.41zM752.32 1432.18h3.41V1373.77h-3.41zM756.17 1432.18h3.41V1404.92h-3.41zM760.01 1432.18h3.41V1358.19h-3.41zM763.86 1432.18h3.41V1358.19h-3.41zM767.71 1432.18h3.41V1404.92h-3.41zM771.55 1432.18h3.41V1420.5h-3.41zM775.4 1432.18h3.41V1412.71h-3.41zM779.25 1432.18h3.41V1428.29h-3.41z" fill="url(#p81)"/>
<path d="M443.35 1298.17V1434.47M443.35 1434.47h-3.4M443.35 1415h-3.4M443.35 1395.53h-3.4M443.35 1376.06h-3.4M443.35 1356.58h-3.4M443.35 1337.11h-3.4M443.35 1317.64h-3.4M443.35 1298.17h-3.4" class="ax"/>
<text x="438.45" y="1437.22" class="l e">0</text>
<text x="438.45" y="1417.75" class="l e">5</text>
<text x="438.45" y="1398.28" class="l e">10</text>
<text x="438.45" y="1378.81" class="l e">15</text>
<text x="438.45" y="1359.33" class="l e">20</text>
<text x="438.45" y="1339.86" class="l e">25</text>
<text x="438.45" y="1320.39" class="l e">30</text>
<text x="438.45" y="1300.92" class="l e">35</text>
<text transform="translate(426.27,1366.32) rotate(-90)" class="t m">obs_count</text>
<text x="444.95" y="1448.37" class="l m">February</text>
<text x="477.92" y="1448.37" class="l m">April</text>
<text x="511.44" y="1448.37" class="l m">June</text>
<text x="544.96" y="1448.37" class="l m">August</text>
<text x="578.48" y="1448.37" class="l m">October</text>
<text x="612" y="1448.37" class="l m">December</text>
<text x="646.07" y="1448.37" class="l m">February</text>
<text x="678.49" y="1448.37" class="l m">April</text>
<text x="712.01" y="1448.37" class="l m">June</text>
<text x="745.53" y="1448.37" class="l m">August</text>
<text x="779.05" y="1448.37" class="l m">October</text>
<path d="M443.35 1437.37H784.35M444.95 1437.37v3.4M460.89 1437.37v3.4M477.92 1437.37v3.4M494.41 1437.37v3.4M511.44 1437.37v3.4M527.92 1437.37v3.4M544.96 1437.37v3.4M561.99 1437.37v3.4M578.48 1437.37v3.4M595.51 1437.37v3.4M612 1437.37v3.4M629.03 1437.37v3.4M646.07 1437.37v3.4M661.45 1437.37v3.4M678.49 1437.37v3.4M694.97 1437.37v3.4M712.01 1437.37v3.4M728.49 1437.37v3.4M745.53 1437.37v3.4M762.56 1437.37v3.4M779.05 1437.37v3.4" class="ax"/>
<text x="613.85" y="1458.27" class="t m">measurement_start_time</text></g>
<g><path d="M826.32 1298.17V1434.47M842.26 1298.17V1434.47M859.29 1298.17V1434.47M875.78 1298.17V1434.47M892.81 1298.17V1434.47M909.29 1298.17V1434.47M926.33 1298.17V1434.47M943.36 1298.17V1434.47M959.85 1298.17V1434.47M976.88 1298.17V1434.47M993.37 1298.17V1434.47M1010.4 1298.17V1434.47M1027.44 1298.17V1434.47M1042.82 1298.17V1434.47M1059.86 1298.17V1434.47M1076.34 1298.17V1434.47M1093.38 1298.17V1434.47M1109.86 1298.17V1434.47M1126.9 1298.17V1434.47M1143.93 1298.17V1434.47M1160.42 1298.17V1434.47M824.72 1434.47H1165.72M824.72 1400.39H1165.72M824.72 1366.32H1165.72M824.72 1332.25H1165.72M824.72 1298.17H1165.72" class="gr"/>
<path d="M825.97 1393.24h3.41V1372.8h-3.41zM833.66 1413.69h3.41V1352.35h-3.41zM845.2 1434.13h3.41V1393.24h-3.41zM849.05 1434.13h3.41V1413.69h-3.41zM852.9 1434.13h3.41V1413.69h-3.41zM856.74 1434.13h3.41V1311.46h-3.41zM864.44 1406.87h3.41V1372.8h-3.41zM875.97 1420.5h3.41V1372.8h-3.41zM879.82 1434.13h3.41V1413.69h-3.41zM887.51 1434.13h3.41V1413.69h-3.41zM891.36 1434.13h3.41V1413.69h-3.41zM895.21 1434.13h3.41V1413.69h-3.41zM899.05 1434.13h3.41V1372.8h-3.41zM906.75 1434.13h3.41V1372.8h-3.41zM914.44 1434.13h3.41V1413.69h-3.41zM918.29 1434.13h3.41V1393.24h-3.41zM925.98 1434.13h3.41V1413.69h-3.41zM933.67 1434.13h3.41V1372.8h-3.41zM941.37 1434.13h3.41V1372.8h-3.41zM945.21 1434.13h3.41V1372.8h-3.41zM949.06 1434.13h3.41V1413.69h-3.41zM952.9 1434.13h3.41V1413.69h-3.41zM960.6 1434.13h3.41V1423.91h-3.41zM964.44 1434.13h3.41V1393.24h-3.41zM968.29 1434.13h3.41V1413.69h-3.41zM972.14 1434.13h3.41V1372.8h-3.41zM975.98 1434.13h3.41V1393.24h-3.41zM979.83 1434.13h3.41V1393.24h-3.41zM983.68 1434.13h3.41V1393.24h-3.41zM987.52 1434.13h3.41V1393.24h-3.41zM991.37 1434.13h3.41V1393.24h-3.41zM995.22 1434.13h3.41V1417.09h-3.41zM999.06 1434.13h3.41V1427.32h-3.41zM1002.91 1434.13h3.41V1420.5h-3.41zM1006.76 1434.13h3.41V1396.65h-3.41zM1010.6 1434.13h3.41V1389.83h-3.41zM1014.45 1434.13h3.41V1383.02h-3.41zM1018.3 1434.13h3.41V1413.69h-3.41zM1022.14 1434.13h3.41V1393.24h-3.41zM1025.99 1434.13h3.41V1423.91h-3.41zM1029.83 1434.13h3.41V1403.46h-3.41zM1033.68 1434.13h3.41V1423.91h-3.41zM1037.53 1434.13h3.41V1423.91h-3.41zM1045.22 1434.13h3.41V1393.24h-3.41zM1052.91 1434.13h3.41V1423.91h-3.41zM1056.76 1434.13h3.41V1393.24h-3.41zM1060.61 1434.13h3.41V1372.8h-3.41zM1064.45 1434.13h3.41V1413.69h-3.41zM1068.3 1434.13h3.41V1413.69h-3.41zM1072.15 1434.13h3.41V1423.91h-3.41zM1075.99 1434.13h3.41V1423.91h-3.41zM1079.84 1434.13h3.41V1413.69h-3.41zM1083.69 1434.13h3.41V1423.91h-3.41zM1087.53 1434.13h3.41V1423.91h-3.41zM1091.38 1434.13h3.41V1423.91h-3.41zM1095.22 1434.13h3.41V1423.91h-3.41zM1106.76 1434.13h3.41V1403.46h-3.41zM1110.61 1434.13h3.41V1423.91h-3.41zM1114.46 1434.13h3.41V1413.69h-3.41zM1118.3 1434.13h3.41V1423.91h-3.41zM1122.15 1434.13h3.41V1403.46h-3.41zM1126 1434.13h3.41V1423.91h-3.41zM1129.84 1434.13h3.41V1376.2h-3.41zM1133.69 1434.13h3.41V1393.24h-3.41zM1137.54 1434.13h3.41V1417.09h-3.41zM1141.38 1434.13h3.41V1386.43h-3.41zM1145.23 1434.13h3.41V1393.24h-3.41zM1149.08 1427.32h3.41V1410.28h-3.41zM1152.92 1434.13h3.41V1413.69h-3.41zM1156.77 1434.13h3.41V1413.69h-3.41zM1160.62 1434.13h3.41V1423.91h-3.41z" fill="#37b24d"/>
<path d="M825.97 1434.13h3.41V1393.24h-3.41zM829.82 1434.13h3.41V1393.24h-3.41zM833.66 1434.13h3.41V1413.69h-3.41zM841.36 1434.13h3.41V1423.91h-3.41zM864.44 1427.32h3.41V1406.87h-3.41zM868.28 1434.13h3.41V1413.69h-3.41zM875.97 1434.13h3.41V1420.5h-3.41zM1149.08 1434.13h3.41V1427.32h-3.41z" fill="#ff7f0a"/>
<path d="M864.44 1434.13h3.41V1427.32h-3.41z" fill="#e03131"/>
<pattern id="p82" patternUnits="userSpaceOnUse" x="0" y="1433.99" width="20" height="3.41"><rect width="20" height=".28" fill="#fff" fill-opacity=".36"/></pattern>
<path d="M825.97 1432.43h3.41V1374.5h-3.41zM829.82 1432.43h3.41V1394.94h-3.41zM833.66 1432.43h3.41V1354.05h-3.41zM841.36 1432.43h3.41V1425.61h-3.41zM845.2 1432.43h3.41V1394.94h-3.41zM849.05 1432.43h3.41V1415.39h-3.41zM852.9 1432.43h3.41V1415.39h-3.41zM856.74 1432.43h3.41V1313.16h-3.41zM864.44 1432.43h3.41V1374.5h-3.41zM868.28 1432.43h3.41V1415.39h-3.41zM875.97 1432.43h3.41V1374.5h-3.41zM879.82 1432.43h3.41V1415.39h-3.41zM887.51 1432.43h3.41V1415.39h-3.41zM891.36 1432.43h3.41V1415.39h-3.41zM895.21 1432.43h3.41V1415.39h-3.41zM899.05 1432.43h3.41V1374.5h-3.41zM906.75 1432.43h3.41V1374.5h-3.41zM914.44 1432.43h3.41V1415.39h-3.41zM918.29 1432.43h3.41V1394.94h-3.41zM925.98 1432.43h3.41V1415.39h-3.41zM933.67 1432.43h3.41V1374.5h-3.41zM941.37 1432.43h3.41V1374.5h-3.41zM945.21 1432.43h3.41V1374.5h-3.41zM949.06 1432.43h3.41V1415.39h-3.41zM952.9 1432.43h3.41V1415.39h-3.41zM960.6 1432.43h3.41V1425.61h-3.41zM964.44 1432.43h3.41V1394.94h-3.41zM968.29 1432.43h3.41V1415.39h-3.41zM972.14 1432.43h3.41V1374.5h-3.41zM975.98 1432.43h3.41V1394.94h-3.41zM979.83 1432.43h3.41V1394.94h-3.41zM983.68 1432.43h3.41V1394.94h-3.41zM987.52 1432.43h3.41V1394.94h-3.41zM991.37 1432.43h3.41V1394.94h-3.41zM995.22 1432.43h3.41V1418.8h-3.41zM999.06 1432.43h3.41V1429.02h-3.41zM1002.91 1432.43h3.41V1422.2h-3.41zM1006.76 1432.43h3.41V1398.35h-3.41zM1010.6 1432.43h3.41V1391.54h-3.41zM1014.45 1432.43h3.41V1384.72h-3.41zM1018.3 1432.43h3.41V1415.39h-3.41zM1022.14 1432.43h3.41V1394.94h-3.41zM1025.99 1432.43h3.41V1425.61h-3.41zM1029.83 1432.43h3.41V1405.17h-3.41zM1033.68 1432.43h3.41V1425.61h-3.41zM1037.53 1432.43h3.41V1425.61h-3.41zM1045.22 1432.43h3.41V1394.94h-3.41zM1052.91 1432.43h3.41V1425.61h-3.41zM1056.76 1432.43h3.41V1394.94h-3.41zM1060.61 1432.43h3.41V1374.5h-3.41zM1064.45 1432.43h3.41V1415.39h-3.41zM1068.3 1432.43h3.41V1415.39h-3.41zM1072.15 1432.43h3.41V1425.61h-3.41zM1075.99 1432.43h3.41V1425.61h-3.41zM1079.84 1432.43h3.41V1415.39h-3.41zM1083.69 1432.43h3.41V1425.61h-3.41zM1087.53 1432.43h3.41V1425.61h-3.41zM1091.38 1432.43h3.41V1425.61h-3.41zM1095.22 1432.43h3.41V1425.61h-3.41zM1106.76 1432.43h3.41V1405.17h-3.41zM1110.61 1432.43h3.41V1425.61h-3.41zM1114.46 1432.43h3.41V1415.39h-3.41zM1118.3 1432.43h3.41V1425.61h-3.41zM1122.15 1432.43h3.41V1405.17h-3.41zM1126 1432.43h3.41V1425.61h-3.41zM1129.84 1432.43h3.41V1377.91h-3.41zM1133.69 1432.43h3.41V1394.94h-3.41zM1137.54 1432.43h3.41V1418.8h-3.41zM1141.38 1432.43h3.41V1388.13h-3.41zM1145.23 1432.43h3.41V1394.94h-3.41zM1149.08 1432.43h3.41V1411.98h-3.41zM1152.92 1432.43h3.41V1415.39h-3.41zM1156.77 1432.43h3.41V1415.39h-3.41zM1160.62 1432.43h3.41V1425.61h-3.41z" fill="url(#p82)"/>
<path d="M824.72 1298.17V1434.47M824.72 1434.47h-3.4M824.72 1400.39h-3.4M824.72 1366.32h-3.4M824.72 1332.25h-3.4M824.72 1298.17h-3.4" class="ax"/>
<text x="819.82" y="1437.22" class="l e">0</text>
<text x="819.82" y="1403.14" class="l e">10</text>
<text x="819.82" y="1369.07" class="l e">20</text>
<text x="819.82" y="1335" class="l e">30</text>
<text x="819.82" y="1300.92" class="l e">40</text>
<text transform="translate(807.64,1366.32) rotate(-90)" class="t m">obs_count</text>
<text x="826.32" y="1448.37" class="l m">February</text>
<text x="859.29" y="1448.37" class="l m">April</text>
<text x="892.81" y="1448.37" class="l m">June</text>
<text x="926.33" y="1448.37" class="l m">August</text>
<text x="959.85" y="1448.37" class="l m">October</text>
<text x="993.37" y="1448.37" class="l m">December</text>
<text x="1027.44" y="1448.37" class="l m">February</text>
<text x="1059.86" y="1448.37" class="l m">April</text>
<text x="1093.38" y="1448.37" class="l m">June</text>
<text x="1126.9" y="1448.37" class="l m">August</text>
<text x="1160.42" y="1448.37" class="l m">October</text>
<path d="M824.72 1437.37H1165.72M826.32 1437.37v3.4M842.26 1437.37v3.4M859.29 1437.37v3.4M875.78 1437.37v3.4M892.81 1437.37v3.4M909.29 1437.37v3.4M926.33 1437.37v3.4M943.36 1437.37v3.4M959.85 1437.37v3.4M976.88 1437.37v3.4M993.37 1437.37v3.4M1010.4 1437.37v3.4M1027.44 1437.37v3.4M1042.82 1437.37v3.4M1059.86 1437.37v3.4M1076.34 1437.37v3.4M1093.38 1437.37v3.4M1109.86 1437.37v3.4M1126.9 1437.37v3.4M1143.93 1437.37v3.4M1160.42 1437.37v3.4" class="ax"/>
<text x="995.22" y="1458.27" class="t m">measurement_start_time</text></g>
<g><path d="M1207.69 1298.17V1434.47M1223.63 1298.17V1434.47M1240.66 1298.17V1434.47M1257.14 1298.17V1434.47M1274.18 1298.17V1434.47M1290.66 1298.17V1434.47M1307.7 1298.17V1434.47M1324.73 1298.17V1434.47M1341.22 1298.17V1434.47M1358.25 1298.17V1434.47M1374.74 1298.17V1434.47M1391.77 1298.17V1434.47M1408.81 1298.17V1434.47M1424.19 1298.17V1434.47M1441.23 1298.17V1434.47M1457.71 1298.17V1434.47M1474.75 1298.17V1434.47M1491.23 1298.17V1434.47M1508.27 1298.17V1434.47M1525.3 1298.17V1434.47M1541.79 1298.17V1434.47M1206.09 1434.47H1547.09M1206.09 1413.5H1547.09M1206.09 1392.53H1547.09M1206.09 1371.56H1547.09M1206.09 1350.59H1547.09M1206.09 1329.62H1547.09M1206.09 1308.65H1547.09" class="gr"/>
<path d="M1384.28 1434.13h3.41V1413.16h-3.41zM1388.13 1434.13h3.41V1402.68h-3.41zM1391.97 1434.13h3.41V1381.71h-3.41zM1395.82 1434.13h3.41V1392.19h-3.41zM1399.67 1434.13h3.41V1413.16h-3.41zM1403.51 1434.13h3.41V1402.68h-3.41zM1407.36 1434.13h3.41V1413.16h-3.41zM1411.2 1434.13h3.41V1413.16h-3.41zM1415.05 1434.13h3.41V1413.16h-3.41zM1418.9 1434.13h3.41V1423.65h-3.41zM1426.59 1434.13h3.41V1423.65h-3.41zM1434.28 1434.13h3.41V1297.83h-3.41zM1438.13 1434.13h3.41V1381.71h-3.41zM1441.98 1434.13h3.41V1392.19h-3.41zM1445.82 1423.65h3.41V1360.74h-3.41zM1449.67 1434.13h3.41V1413.16h-3.41zM1453.52 1434.13h3.41V1423.65h-3.41zM1457.36 1434.13h3.41V1423.65h-3.41zM1461.21 1434.13h3.41V1413.16h-3.41zM1465.06 1434.13h3.41V1423.65h-3.41zM1468.9 1434.13h3.41V1423.65h-3.41zM1472.75 1434.13h3.41V1423.65h-3.41zM1476.6 1434.13h3.41V1423.65h-3.41zM1491.98 1434.13h3.41V1423.65h-3.41zM1495.83 1434.13h3.41V1423.65h-3.41zM1499.67 1434.13h3.41V1423.65h-3.41zM1503.52 1434.13h3.41V1413.16h-3.41zM1507.37 1434.13h3.41V1423.65h-3.41zM1511.21 1434.13h3.41V1381.71h-3.41zM1515.06 1434.13h3.41V1392.19h-3.41zM1518.91 1434.13h3.41V1350.25h-3.41zM1522.75 1434.13h3.41V1360.74h-3.41zM1526.6 1434.13h3.41V1423.65h-3.41zM1530.45 1434.13h3.41V1402.68h-3.41zM1534.29 1434.13h3.41V1423.65h-3.41zM1538.14 1434.13h3.41V1392.19h-3.41z" fill="#37b24d"/>
<path d="M1445.82 1434.13h3.41V1423.65h-3.41z" fill="#ff7f0a"/>
<path d="M1488.13 1434.13h3.41V1423.65h-3.41z" fill="#fcc419"/>
<pattern id="p83" patternUnits="userSpaceOnUse" x="0" y="1433.99" width="20" height="10.48"><rect width="20" height=".28" fill="#fff" fill-opacity=".36"/></pattern>
<path d="M1384.28 1428.89h3.41V1418.4h-3.41zM1388.13 1428.89h3.41V1407.92h-3.41zM1391.97 1428.89h3.41V1386.95h-3.41zM1395.82 1428.89h3.41V1397.43h-3.41zM1399.67 1428.89h3.41V1418.4h-3.41zM1403.51 1428.89h3.41V1407.92h-3.41zM1407.36 1428.89h3.41V1418.4h-3.41zM1411.2 1428.89h3.41V1418.4h-3.41zM1415.05 1428.89h3.41V1418.4h-3.41zM1434.28 1428.89h3.41V1303.07h-3.41zM1438.13 1428.89h3.41V1386.95h-3.41zM1441.98 1428.89h3.41V1397.43h-3.41zM1445.82 1428.89h3.41V1365.98h-3.41zM1449.67 1428.89h3.41V1418.4h-3.41zM1461.21 1428.89h3.41V1418.4h-3.41zM1503.52 1428.89h3.41V1418.4h-3.41zM1511.21 1428.89h3.41V1386.95h-3.41zM1515.06 1428.89h3.41V1397.43h-3.41zM1518.91 1428.89h3.41V1355.5h-3.41zM1522.75 1428.89h3.41V1365.98h-3.41zM1530.45 1428.89h3.41V1407.92h-3.41zM1538.14 1428.89h3.41V1397.43h-3.41z" fill="url(#p83)"/>
<path d="M1206.09 1298.17V1434.47M1206.09 1434.47h-3.4M1206.09 1413.5h-3.4M1206.09 1392.53h-3.4M1206.09 1371.56h-3.4M1206.09 1350.59h-3.4M1206.09 1329.62h-3.4M1206.09 1308.65h-3.4" class="ax"/>
<text x="1201.19" y="1437.22" class="l e">0</text>
<text x="1201.19" y="1416.25" class="l e">2</text>
<text x="1201.19" y="1395.28" class="l e">4</text>
<text x="1201.19" y="1374.31" class="l e">6</text>
<text x="1201.19" y="1353.34" class="l e">8</text>
<text x="1201.19" y="1332.37" class="l e">10</text>
<text x="1201.19" y="1311.4" class="l e">12</text>
<text transform="translate(1189.01,1366.32) rotate(-90)" class="t m">obs_count</text>
<text x="1207.69" y="1448.37" class="l m">February</text>
<text x="1240.66" y="1448.37" class="l m">April</text>
<text x="1274.18" y="1448.37" class="l m">June</text>
<text x="1307.7" y="1448.37" class="l m">August</text>
<text x="1341.22" y="1448.37" class="l m">October</text>
<text x="1374.74" y="1448.37" class="l m">December</text>
<text x="1408.81" y="1448.37" class="l m">February</text>
<text x="1441.23" y="1448.37" class="l m">April</text>
<text x="1474.75" y="1448.37" class="l m">June</text>
<text x="1508.27" y="1448.37" class="l m">August</text>
<text x="1541.79" y="1448.37" class="l m">October</text>
<path d="M1206.09 1437.37H1547.09M1207.69 1437.37v3.4M1223.63 1437.37v3.4M1240.66 1437.37v3.4M1257.14 1437.37v3.4M1274.18 1437.37v3.4M1290.66 1437.37v3.4M1307.7 1437.37v3.4M1324.73 1437.37v3.4M1341.22 1437.37v3.4M1358.25 1437.37v3.4M1374.74 1437.37v3.4M1391.77 1437.37v3.4M1408.81 1437.37v3.4M1424.19 1437.37v3.4M1441.23 1437.37v3.4M1457.71 1437.37v3.4M1474.75 1437.37v3.4M1491.23 1437.37v3.4M1508.27 1437.37v3.4M1525.3 1437.37v3.4M1541.79 1437.37v3.4" class="ax"/>
<text x="1376.59" y="1458.27" class="t m">measurement_start_time</text></g>
<g><path d="M1589.06 1298.17V1434.47M1605 1298.17V1434.47M1622.03 1298.17V1434.47M1638.51 1298.17V1434.47M1655.55 1298.17V1434.47M1672.03 1298.17V1434.47M1689.07 1298.17V1434.47M1706.1 1298.17V1434.47M1722.59 1298.17V1434.47M1739.62 1298.17V1434.47M1756.11 1298.17V1434.47M1773.14 1298.17V1434.47M1790.18 1298.17V1434.47M1805.56 1298.17V1434.47M1822.6 1298.17V1434.47M1839.08 1298.17V1434.47M1856.12 1298.17V1434.47M1872.6 1298.17V1434.47M1889.64 1298.17V1434.47M1906.67 1298.17V1434.47M1923.16 1298.17V1434.47M1587.46 1434.47H1928.46M1587.46 1400.39H1928.46M1587.46 1366.32H1928.46M1587.46 1332.25H1928.46M1587.46 1298.17H1928.46" class="gr"/>
<path d="M1588.71 1434.13h3.41V1386.43h-3.41zM1592.56 1420.5h3.41V1406.87h-3.41zM1607.94 1406.87h3.41V1393.24h-3.41zM1611.79 1434.13h3.41V1406.87h-3.41zM1615.64 1434.13h3.41V1420.5h-3.41zM1619.48 1386.43h3.41V1338.72h-3.41zM1638.71 1434.13h3.41V1413.69h-3.41zM1642.56 1427.32h3.41V1406.87h-3.41zM1654.1 1434.13h3.41V1406.87h-3.41zM1661.79 1406.87h3.41V1393.24h-3.41zM1677.18 1427.32h3.41V1420.5h-3.41zM1681.03 1420.5h3.41V1379.61h-3.41zM1688.72 1434.13h3.41V1379.61h-3.41zM1696.41 1434.13h3.41V1406.87h-3.41zM1704.11 1434.13h3.41V1420.5h-3.41zM1707.95 1434.13h3.41V1393.24h-3.41zM1711.8 1434.13h3.41V1379.61h-3.41zM1715.64 1434.13h3.41V1420.5h-3.41zM1723.34 1434.13h3.41V1311.46h-3.41zM1731.03 1434.13h3.41V1393.24h-3.41zM1738.72 1434.13h3.41V1406.87h-3.41zM1742.57 1434.13h3.41V1365.98h-3.41zM1746.42 1434.13h3.41V1406.87h-3.41zM1750.26 1434.13h3.41V1406.87h-3.41zM1754.11 1434.13h3.41V1379.61h-3.41zM1761.8 1434.13h3.41V1413.69h-3.41zM1765.65 1434.13h3.41V1413.69h-3.41zM1769.5 1434.13h3.41V1413.69h-3.41zM1773.34 1434.13h3.41V1413.69h-3.41zM1777.19 1434.13h3.41V1427.32h-3.41zM1781.04 1434.13h3.41V1413.69h-3.41zM1784.88 1434.13h3.41V1406.87h-3.41zM1788.73 1434.13h3.41V1420.5h-3.41zM1792.57 1434.13h3.41V1413.69h-3.41zM1796.42 1434.13h3.41V1400.06h-3.41zM1804.11 1434.13h3.41V1420.5h-3.41zM1807.96 1434.13h3.41V1427.32h-3.41zM1815.65 1434.13h3.41V1420.5h-3.41zM1819.5 1434.13h3.41V1413.69h-3.41zM1823.35 1434.13h3.41V1406.87h-3.41zM1827.19 1434.13h3.41V1427.32h-3.41zM1831.04 1434.13h3.41V1420.5h-3.41zM1834.89 1434.13h3.41V1427.32h-3.41zM1838.73 1434.13h3.41V1427.32h-3.41zM1842.58 1434.13h3.41V1420.5h-3.41zM1846.43 1434.13h3.41V1427.32h-3.41zM1850.27 1434.13h3.41V1413.69h-3.41zM1854.12 1427.32h3.41V1420.5h-3.41zM1857.97 1434.13h3.41V1427.32h-3.41zM1869.5 1434.13h3.41V1427.32h-3.41zM1873.35 1434.13h3.41V1427.32h-3.41zM1877.2 1434.13h3.41V1427.32h-3.41zM1881.04 1434.13h3.41V1427.32h-3.41zM1884.89 1434.13h3.41V1420.5h-3.41zM1888.74 1434.13h3.41V1413.69h-3.41zM1892.58 1434.13h3.41V1413.69h-3.41zM1896.43 1434.13h3.41V1406.87h-3.41zM1900.28 1434.13h3.41V1386.43h-3.41zM1904.12 1434.13h3.41V1393.24h-3.41zM1907.97 1434.13h3.41V1427.32h-3.41zM1911.82 1434.13h3.41V1413.69h-3.41zM1915.66 1434.13h3.41V1427.32h-3.41zM1919.51 1434.13h3.41V1413.69h-3.41z" fill="#37b24d"/>
<path d="M1592.56 1434.13h3.41V1420.5h-3.41zM1604.1 1434.13h3.41V1427.32h-3.41zM1607.94 1420.5h3.41V1406.87h-3.41zM1619.48 1413.69h3.41V1386.43h-3.41zM1661.79 1427.32h3.41V1406.87h-3.41zM1669.49 1427.32h3.41V1420.5h-3.41zM1677.18 1434.13h3.41V1427.32h-3.41z" fill="#ff7f0a"/>
<path d="M1596.4 1434.13h3.41V1420.5h-3.41zM1607.94 1434.13h3.41V1420.5h-3.41zM1619.48 1434.13h3.41V1413.69h-3.41zM1631.02 1434.13h3.41V1420.5h-3.41zM1642.56 1434.13h3.41V1427.32h-3.41zM1661.79 1434.13h3.41V1427.32h-3.41zM1669.49 1434.13h3.41V1427.32h-3.41zM1681.03 1434.13h3.41V1420.5h-3.41z" fill="#e03131"/>
<path d="M1854.12 1434.13h3.41V1427.32h-3.41z" fill="#fcc419"/>
<pattern id="p84" patternUnits="userSpaceOnUse" x="0" y="1433.99" width="20" height="3.41"><rect width="20" height=".28" fill="#fff" fill-opacity=".36"/></pattern>
<path d="M1588.71 1432.43h3.41V1388.13h-3.41zM1592.56 1432.43h3.41V1408.57h-3.41zM1596.4 1432.43h3.41V1422.2h-3.41zM1604.1 1432.43h3.41V1429.02h-3.41zM1607.94 1432.43h3.41V1394.94h-3.41zM1611.79 1432.43h3.41V1408.57h-3.41zM1615.64 1432.43h3.41V1422.2h-3.41zM1619.48 1432.43h3.41V1340.42h-3.41zM1631.02 1432.43h3.41V1422.2h-3.41zM1638.71 1432.43h3.41V1415.39h-3.41zM1642.56 1432.43h3.41V1408.57h-3.41zM1654.1 1432.43h3.41V1408.57h-3.41zM1661.79 1432.43h3.41V1394.94h-3.41zM1669.49 1432.43h3.41V1422.2h-3.41zM1677.18 1432.43h3.41V1422.2h-3.41zM1681.03 1432.43h3.41V1381.31h-3.41zM1688.72 1432.43h3.41V1381.31h-3.41zM1696.41 1432.43h3.41V1408.57h-3.41zM1704.11 1432.43h3.41V1422.2h-3.41zM1707.95 1432.43h3.41V1394.94h-3.41zM1711.8 1432.43h3.41V1381.31h-3.41zM1715.64 1432.43h3.41V1422.2h-3.41zM1723.34 1432.43h3.41V1313.16h-3.41zM1731.03 1432.43h3.41V1394.94h-3.41zM1738.72 1432.43h3.41V1408.57h-3.41zM1742.57 1432.43h3.41V1367.68h-3.41zM1746.42 1432.43h3.41V1408.57h-3.41zM1750.26 1432.43h3.41V1408.57h-3.41zM1754.11 1432.43h3.41V1381.31h-3.41zM1761.8 1432.43h3.41V1415.39h-3.41zM1765.65 1432.43h3.41V1415.39h-3.41zM1769.5 1432.43h3.41V1415.39h-3.41zM1773.34 1432.43h3.41V1415.39h-3.41zM1777.19 1432.43h3.41V1429.02h-3.41zM1781.04 1432.43h3.41V1415.39h-3.41zM1784.88 1432.43h3.41V1408.57h-3.41zM1788.73 1432.43h3.41V1422.2h-3.41zM1792.57 1432.43h3.41V1415.39h-3.41zM1796.42 1432.43h3.41V1401.76h-3.41zM1804.11 1432.43h3.41V1422.2h-3.41zM1807.96 1432.43h3.41V1429.02h-3.41zM1815.65 1432.43h3.41V1422.2h-3.41zM1819.5 1432.43h3.41V1415.39h-3.41zM1823.35 1432.43h3.41V1408.57h-3.41zM1827.19 1432.43h3.41V1429.02h-3.41zM1831.04 1432.43h3.41V1422.2h-3.41zM1834.89 1432.43h3.41V1429.02h-3.41zM1838.73 1432.43h3.41V1429.02h-3.41zM1842.58 1432.43h3.41V1422.2h-3.41zM1846.43 1432.43h3.41V1429.02h-3.41zM1850.27 1432.43h3.41V1415.39h-3.41zM1854.12 1432.43h3.41V1422.2h-3.41zM1857.97 1432.43h3.41V1429.02h-3.41zM1869.5 1432.43h3.41V1429.02h-3.41zM1873.35 1432.43h3.41V1429.02h-3.41zM1877.2 1432.43h3.41V1429.02h-3.41zM1881.04 1432.43h3.41V1429.02h-3.41zM1884.89 1432.43h3.41V1422.2h-3.41zM1888.74 1432.43h3.41V1415.39h-3.41zM1892.58 1432.43h3.41V1415.39h-3.41zM1896.43 1432.43h3.41V1408.57h-3.41zM1900.28 1432.43h3.41V1388.13h-3.41zM1904.12 1432.43h3.41V1394.94h-3.41zM1907.97 1432.43h3.41V1429.02h-3.41zM1911.82 1432.43h3.41V1415.39h-3.41zM1915.66 1432.43h3.41V1429.02h-3.41zM1919.51 1432.43h3.41V1415.39h-3.41z" fill="url(#p84)"/>
<path d="M1587.46 1298.17V1434.47M1587.46 1434.47h-3.4M1587.46 1400.39h-3.4M1587.46 1366.32h-3.4M1587.46 1332.25h-3.4M1587.46 1298.17h-3.4" class="ax"/>
<text x="1582.56" y="1437.22" class="l e">0</text>
<text x="1582.56" y="1403.14" class="l e">10</text>
<text x="1582.56" y="1369.07" class="l e">20</text>
<text x="1582.56" y="1335" class="l e">30</text>
<text x="1582.56" y="1300.92" class="l e">40</text>
<text transform="translate(1570.38,1366.32) rotate(-90)" class="t m">obs_count</text>
<text x="1589.06" y="1448.37" class="l m">February</text>
<text x="1622.03" y="1448.37" class="l m">April</text>
<text x="1655.55" y="1448.37" class="l m">June</text>
<text x="1689.07" y="1448.37" class="l m">August</text>
<text x="1722.59" y="1448.37" class="l m">October</text>
<text x="1756.11" y="1448.37" class="l m">December</text>
<text x="1790.18" y="1448.37" class="l m">February</text>
<text x="1822.6" y="1448.37" class="l m">April</text>
<text x="1856.12" y="1448.37" class="l m">June</text>
<text x="1889.64" y="1448.37" class="l m">August</text>
<text x="1923.16" y="1448.37" class="l m">October</text>
<path d="M1587.46 1437.37H1928.46M1589.06 1437.37v3.4M1605 1437.37v3.4M1622.03 1437.37v3.4M1638.51 1437.37v3.4M1655.55 1437.37v3.4M1672.03 1437.37v3.4M1689.07 1437.37v3.4M1706.1 1437.37v3.4M1722.59 1437.37v3.4M1739.62 1437.37v3.4M1756.11 1437.37v3.4M1773.14 1437.37v3.4M1790.18 1437.37v3.4M1805.56 1437.37v3.4M1822.6 1437.37v3.4M1839.08 1437.37v3.4M1856.12 1437.37v3.4M1872.6 1437.37v3.4M1889.64 1437.37v3.4M1906.67 1437.37v3.4M1923.16 1437.37v3.4" class="ax"/>
<text x="1757.96" y="1458.27" class="t m">measurement_start_time</text></g>
<text x="1947.8" y="48.2" class="t">Analysis</text>
<rect x="1948.1" y="53.2" width="6.9" height="6.9" fill="#37b24d"/>
<text x="1959" y="58.8" class="l">ok</text>
<rect x="1948.1" y="62.1" width="6.9" height="6.9" fill="#ff7f0a"/>
<text x="1959" y="67.7" class="l">tcp.timeout</text>
<rect x="1948.1" y="71" width="6.9" height="6.9" fill="#e03131"/>
<text x="1959" y="76.6" class="l">tls.eof_error</text>
<rect x="1948.1" y="79.9" width="6.9" height="6.9" fill="#fcc419"/>
<text x="1959" y="85.5" class="l">tls.timeout</text>
<text x="969.3" y="1473.2" class="m" style="font-size:8.86px;font-weight:bold">Accessible International domains in Iran across major ASNs, Feb'24 - Oct'25</text>
<g stroke="#858585" fill="none">
<circle cx="56.55" cy="1488.4" r="7.95" stroke-width="1.5"/>
<circle cx="56.3" cy="1484.8" r="1.9" stroke-width="1"/>
<circle cx="52.9" cy="1487.9" r="1.7" stroke-width="1"/>
<circle cx="59.7" cy="1487.9" r="1.7" stroke-width="1"/>
<path d="M54.2 1492.6c0-2.6 4.6-2.6 4.6 0M54.6 1493.4h3.8" stroke-width="1"/>
<circle cx="56.3" cy="1488.1" r="1.5" stroke-width="1" fill="#858585"/>
</g>
<text x="67.8" y="1493.2" style="font-family:'Liberation Serif','Times New Roman',serif;font-weight:bold;font-size:13.2px;fill:#7e7e7e;stroke:#7e7e7e;stroke-width:.3px">OONI</text>
</svg></body></html>
